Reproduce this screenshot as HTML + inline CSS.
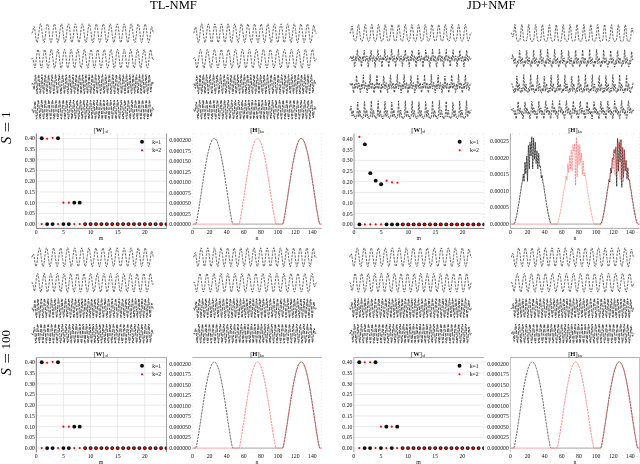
<!DOCTYPE html>
<html><head><meta charset="utf-8"><style>
html,body{margin:0;padding:0;background:#fff;width:640px;height:464px;overflow:hidden}
svg{display:block}
</style></head><body>
<svg width="640" height="464" viewBox="0 0 640 464">
<rect width="640" height="464" fill="#fff"/>
<defs><filter id="bl" x="-2%" y="-10%" width="104%" height="120%"><feGaussianBlur stdDeviation="0.15"/></filter><filter id="gb" filterUnits="userSpaceOnUse" x="0" y="0" width="640" height="464"><feGaussianBlur stdDeviation="0.3"/></filter></defs>
<g filter="url(#gb)">
<text x="173.4" y="8.8" font-size="12.6" text-anchor="middle" style="font-family:'Liberation Serif',serif">TL-NMF</text>
<text x="491.3" y="8.8" font-size="12.6" text-anchor="middle" style="font-family:'Liberation Serif',serif">JD+NMF</text>
<g transform="translate(10.3,143.8) rotate(-90)" style="font-family:'Liberation Serif',serif" font-size="13"><text x="-0.2" y="0.3" font-style="italic" font-size="14.5">S</text><text x="0" y="0" transform="translate(11.4,1.3) scale(1.45,1.05)">=</text><text x="25.7" y="0">1</text></g>
<g transform="translate(10.3,375.2) rotate(-90)" style="font-family:'Liberation Serif',serif" font-size="13"><text x="-0.2" y="0.3" font-style="italic" font-size="14.5">S</text><text x="0" y="0" transform="translate(11.4,1.3) scale(1.45,1.05)">=</text><text x="25.7" y="0">100</text></g>
<g filter="url(#bl)">
<polyline points="31.6,33.2 32.0,33.1 32.4,32.5 32.8,31.0 33.2,29.0 33.6,27.1 34.1,26.4 34.5,27.4 34.9,30.0 35.3,33.4 35.7,36.7 36.1,39.6 36.5,41.7 36.9,42.6 37.3,42.2 37.7,40.6 38.1,38.1 38.6,34.8 39.0,31.4 39.4,28.2 39.8,25.7 40.2,24.1 40.6,23.8 41.0,24.8 41.4,26.9 41.8,29.8 42.2,33.2 42.7,36.6 43.1,39.5 43.5,41.6 43.9,42.6 44.3,42.3 44.7,40.7 45.1,38.2 45.5,35.0 45.9,31.6 46.3,28.4 46.7,25.8 47.2,24.2 47.6,23.8 48.0,24.7 48.4,26.7 48.8,29.6 49.2,33.0 49.6,36.4 50.0,39.4 50.4,41.5 50.8,42.5 51.2,42.3 51.7,40.8 52.1,38.4 52.5,35.2 52.9,31.8 53.3,28.5 53.7,25.9 54.1,24.2 54.5,23.8 54.9,24.6 55.3,26.6 55.8,29.5 56.2,32.8 56.6,36.2 57.0,39.2 57.4,41.4 57.8,42.5 58.2,42.3 58.6,41.0 59.0,38.5 59.4,35.4 59.8,31.9 60.3,28.7 60.7,26.0 61.1,24.3 61.5,23.8 61.9,24.6 62.3,26.5 62.7,29.3 63.1,32.7 63.5,36.1 63.9,39.1 64.3,41.3 64.8,42.5 65.2,42.4 65.6,41.0 66.0,38.7 66.4,35.5 66.8,32.1 67.2,28.8 67.6,26.1 68.0,24.4 68.4,23.8 68.9,24.5 69.3,26.4 69.7,29.2 70.1,32.5 70.5,35.9 70.9,39.0 71.3,41.3 71.7,42.5 72.1,42.4 72.5,41.1 72.9,38.8 73.4,35.7 73.8,32.3 74.2,29.0 74.6,26.2 75.0,24.4 75.4,23.8 75.8,24.4 76.2,26.3 76.6,29.0 77.0,32.3 77.4,35.7 77.9,38.8 78.3,41.2 78.7,42.4 79.1,42.5 79.5,41.2 79.9,38.9 80.3,35.9 80.7,32.4 81.1,29.1 81.5,26.3 82.0,24.5 82.4,23.8 82.8,24.4 83.2,26.1 83.6,28.8 84.0,32.1 84.4,35.6 84.8,38.7 85.2,41.1 85.6,42.4 86.0,42.5 86.5,41.3 86.9,39.1 87.3,36.0 87.7,32.6 88.1,29.3 88.5,26.5 88.9,24.6 89.3,23.8 89.7,24.3 90.1,26.0 90.5,28.7 91.0,32.0 91.4,35.4 91.8,38.5 92.2,41.0 92.6,42.4 93.0,42.5 93.4,41.4 93.8,39.2 94.2,36.2 94.6,32.8 95.1,29.4 95.5,26.6 95.9,24.6 96.3,23.8 96.7,24.3 97.1,25.9 97.5,28.5 97.9,31.8 98.3,35.2 98.7,38.4 99.1,40.9 99.6,42.3 100.0,42.5 100.4,41.5 100.8,39.4 101.2,36.4 101.6,33.0 102.0,29.6 102.4,26.7 102.8,24.7 103.2,23.8 103.6,24.2 104.1,25.8 104.5,28.4 104.9,31.6 105.3,35.1 105.7,38.2 106.1,40.8 106.5,42.3 106.9,42.6 107.3,41.6 107.7,39.5 108.2,36.5 108.6,33.2 109.0,29.8 109.4,26.8 109.8,24.8 110.2,23.8 110.6,24.2 111.0,25.7 111.4,28.2 111.8,31.4 112.2,34.9 112.7,38.1 113.1,40.7 113.5,42.2 113.9,42.6 114.3,41.7 114.7,39.6 115.1,36.7 115.5,33.3 115.9,29.9 116.3,27.0 116.7,24.9 117.2,23.9 117.6,24.1 118.0,25.6 118.4,28.1 118.8,31.3 119.2,34.7 119.6,37.9 120.0,40.6 120.4,42.2 120.8,42.6 121.3,41.7 121.7,39.7 122.1,36.9 122.5,33.5 122.9,30.1 123.3,27.1 123.7,24.9 124.1,23.9 124.5,24.1 124.9,25.5 125.3,27.9 125.8,31.1 126.2,34.5 126.6,37.8 127.0,40.4 127.4,42.1 127.8,42.6 128.2,41.8 128.6,39.9 129.0,37.0 129.4,33.7 129.8,30.3 130.3,27.2 130.7,25.0 131.1,23.9 131.5,24.0 131.9,25.4 132.3,27.8 132.7,30.9 133.1,34.4 133.5,37.6 133.9,40.3 134.4,42.1 134.8,42.6 135.2,41.9 135.6,40.0 136.0,37.2 136.4,33.9 136.8,30.4 137.2,27.4 137.6,25.1 138.0,23.9 138.4,24.0 138.9,25.3 139.3,27.6 139.7,30.8 140.1,34.2 140.5,37.5 140.9,40.2 141.3,42.0 141.7,42.6 142.1,41.9 142.5,40.1 142.9,37.3 143.4,34.0 143.8,30.6 144.2,27.5 144.6,25.2 145.0,24.0 145.4,24.0 145.8,25.2 146.2,27.5 146.6,30.6 147.0,34.0 147.5,37.3 147.9,40.1 148.3,41.9 148.7,42.6 149.1,42.0 149.5,40.2 149.9,37.5 150.3,34.2 150.7,30.8 151.1,28.0 151.5,26.8 152.0,27.2 152.4,28.9 152.8,30.9 153.2,32.4 153.6,33.1 154.0,33.2" fill="none" stroke="#2a2a2a" stroke-width="0.72" stroke-dasharray="2.3,1.15"/>
<polyline points="31.6,58.8 32.0,58.5 32.4,58.1 32.8,58.3 33.2,59.7 33.6,62.2 34.1,65.1 34.5,67.4 34.9,68.0 35.3,66.7 35.7,64.2 36.1,60.9 36.5,57.3 36.9,53.9 37.3,51.2 37.7,49.7 38.1,49.5 38.6,50.7 39.0,53.1 39.4,56.3 39.8,60.0 40.2,63.4 40.6,66.2 41.0,67.8 41.4,68.1 41.8,67.1 42.2,64.8 42.7,61.6 43.1,58.0 43.5,54.5 43.9,51.7 44.3,49.9 44.7,49.4 45.1,50.4 45.5,52.5 45.9,55.7 46.3,59.2 46.7,62.8 47.2,65.7 47.6,67.6 48.0,68.2 48.4,67.4 48.8,65.3 49.2,62.3 49.6,58.7 50.0,55.2 50.4,52.2 50.8,50.1 51.2,49.4 51.7,50.1 52.1,52.0 52.5,55.0 52.9,58.5 53.3,62.1 53.7,65.2 54.1,67.3 54.5,68.2 54.9,67.7 55.3,65.8 55.8,62.9 56.2,59.4 56.6,55.8 57.0,52.7 57.4,50.4 57.8,49.4 58.2,49.8 58.6,51.6 59.0,54.4 59.4,57.8 59.8,61.4 60.3,64.6 60.7,67.0 61.1,68.1 61.5,67.9 61.9,66.3 62.3,63.6 62.7,60.1 63.1,56.5 63.5,53.2 63.9,50.8 64.3,49.5 64.8,49.6 65.2,51.1 65.6,53.7 66.0,57.1 66.4,60.7 66.8,64.1 67.2,66.6 67.6,68.0 68.0,68.0 68.4,66.7 68.9,64.2 69.3,60.8 69.7,57.2 70.1,53.8 70.5,51.2 70.9,49.7 71.3,49.5 71.7,50.7 72.1,53.2 72.5,56.4 72.9,60.0 73.4,63.5 73.8,66.2 74.2,67.8 74.6,68.1 75.0,67.0 75.4,64.7 75.8,61.5 76.2,57.9 76.6,54.5 77.0,51.6 77.4,49.9 77.9,49.4 78.3,50.4 78.7,52.6 79.1,55.7 79.5,59.3 79.9,62.8 80.3,65.7 80.7,67.6 81.1,68.2 81.5,67.4 82.0,65.3 82.4,62.2 82.8,58.6 83.2,55.1 83.6,52.1 84.0,50.1 84.4,49.4 84.8,50.1 85.2,52.1 85.6,55.1 86.0,58.6 86.5,62.2 86.9,65.2 87.3,67.4 87.7,68.2 88.1,67.6 88.5,65.8 88.9,62.9 89.3,59.4 89.7,55.8 90.1,52.6 90.5,50.4 91.0,49.4 91.4,49.8 91.8,51.6 92.2,54.4 92.6,57.9 93.0,61.5 93.4,64.7 93.8,67.0 94.2,68.1 94.6,67.9 95.1,66.2 95.5,63.5 95.9,60.1 96.3,56.4 96.7,53.2 97.1,50.7 97.5,49.5 97.9,49.7 98.3,51.2 98.7,53.8 99.1,57.2 99.6,60.8 100.0,64.1 100.4,66.7 100.8,68.0 101.2,68.0 101.6,66.6 102.0,64.1 102.4,60.8 102.8,57.1 103.2,53.8 103.6,51.1 104.1,49.6 104.5,49.5 104.9,50.8 105.3,53.2 105.7,56.5 106.1,60.1 106.5,63.5 106.9,66.3 107.3,67.9 107.7,68.1 108.2,67.0 108.6,64.7 109.0,61.5 109.4,57.9 109.8,54.4 110.2,51.6 110.6,49.8 111.0,49.4 111.4,50.4 111.8,52.7 112.2,55.8 112.7,59.4 113.1,62.9 113.5,65.8 113.9,67.7 114.3,68.2 114.7,67.3 115.1,65.2 115.5,62.1 115.9,58.6 116.3,55.0 116.7,52.0 117.2,50.1 117.6,49.4 118.0,50.1 118.4,52.1 118.8,55.1 119.2,58.7 119.6,62.2 120.0,65.3 120.4,67.4 120.8,68.2 121.3,67.6 121.7,65.7 122.1,62.8 122.5,59.3 122.9,55.7 123.3,52.6 123.7,50.4 124.1,49.4 124.5,49.9 124.9,51.6 125.3,54.5 125.8,58.0 126.2,61.6 126.6,64.8 127.0,67.1 127.4,68.1 127.8,67.8 128.2,66.2 128.6,63.4 129.0,60.0 129.4,56.4 129.8,53.1 130.3,50.7 130.7,49.5 131.1,49.7 131.5,51.2 131.9,53.9 132.3,57.3 132.7,60.9 133.1,64.2 133.5,66.7 133.9,68.0 134.4,68.0 134.8,66.6 135.2,64.0 135.6,60.7 136.0,57.1 136.4,53.7 136.8,51.1 137.2,49.6 137.6,49.5 138.0,50.8 138.4,53.3 138.9,56.6 139.3,60.2 139.7,63.6 140.1,66.3 140.5,67.9 140.9,68.1 141.3,67.0 141.7,64.6 142.1,61.4 142.5,57.8 142.9,54.3 143.4,51.5 143.8,49.8 144.2,49.4 144.6,50.5 145.0,52.7 145.4,55.9 145.8,59.5 146.2,63.0 146.6,65.8 147.0,67.7 147.5,68.2 147.9,67.3 148.3,65.2 148.7,62.1 149.1,58.5 149.5,55.0 149.9,52.0 150.3,50.0 150.7,49.4 151.1,50.7 151.5,53.4 152.0,56.5 152.4,58.8 152.8,59.8 153.2,59.7 153.6,59.1 154.0,58.8" fill="none" stroke="#2a2a2a" stroke-width="0.72" stroke-dasharray="2.3,1.15"/>
<polyline points="31.6,84.2 31.8,84.2 32.0,84.0 32.2,83.8 32.4,83.5 32.6,83.3 32.7,83.3 32.9,83.8 33.1,84.7 33.3,86.0 33.5,87.4 33.7,88.7 33.9,89.5 34.1,89.5 34.3,88.5 34.5,86.6 34.7,83.9 34.9,80.8 35.0,78.0 35.2,75.8 35.4,74.9 35.6,75.3 35.8,77.0 36.0,79.8 36.2,83.3 36.4,86.8 36.6,90.0 36.8,92.4 37.0,93.7 37.2,93.6 37.3,92.3 37.5,89.8 37.7,86.6 37.9,83.0 38.1,79.7 38.3,76.9 38.5,75.1 38.7,74.6 38.9,75.4 39.1,77.4 39.3,80.3 39.5,83.7 39.6,87.2 39.8,90.3 40.0,92.5 40.2,93.7 40.4,93.6 40.6,92.2 40.8,89.7 41.0,86.6 41.2,83.1 41.4,79.7 41.6,77.0 41.8,75.2 41.9,74.6 42.1,75.3 42.3,77.1 42.5,79.9 42.7,83.2 42.9,86.7 43.1,89.8 43.3,92.2 43.5,93.6 43.7,93.7 43.9,92.6 44.1,90.4 44.2,87.5 44.4,84.1 44.6,80.7 44.8,77.8 45.0,75.7 45.2,74.7 45.4,74.9 45.6,76.2 45.8,78.6 46.0,81.7 46.2,85.1 46.3,88.4 46.5,91.1 46.7,93.0 46.9,93.8 47.1,93.4 47.3,91.8 47.5,89.3 47.7,86.2 47.9,82.8 48.1,79.6 48.3,77.0 48.5,75.3 48.6,74.6 48.8,75.1 49.0,76.7 49.2,79.3 49.4,82.4 49.6,85.7 49.8,88.9 50.0,91.5 50.2,93.2 50.4,93.8 50.6,93.3 50.8,91.7 50.9,89.2 51.1,86.1 51.3,82.8 51.5,79.6 51.7,77.0 51.9,75.3 52.1,74.6 52.3,75.0 52.5,76.6 52.7,79.0 52.9,82.0 53.1,85.3 53.2,88.4 53.4,91.1 53.6,92.9 53.8,93.8 54.0,93.5 54.2,92.1 54.4,89.8 54.6,86.9 54.8,83.6 55.0,80.4 55.2,77.7 55.4,75.7 55.5,74.7 55.7,74.8 55.9,76.0 56.1,78.1 56.3,80.9 56.5,84.1 56.7,87.3 56.9,90.2 57.1,92.4 57.3,93.6 57.5,93.7 57.7,92.8 57.8,90.8 58.0,88.1 58.2,85.0 58.4,81.7 58.6,78.8 58.8,76.4 59.0,75.0 59.2,74.6 59.4,75.3 59.6,77.1 59.8,79.6 59.9,82.7 60.1,86.0 60.3,89.0 60.5,91.5 60.7,93.2 60.9,93.8 61.1,93.3 61.3,91.7 61.5,89.3 61.7,86.3 61.9,83.0 62.1,79.9 62.2,77.3 62.4,75.4 62.6,74.6 62.8,74.9 63.0,76.3 63.2,78.6 63.4,81.6 63.6,84.9 63.8,88.1 64.0,90.8 64.2,92.8 64.4,93.7 64.5,93.6 64.7,92.3 64.9,90.0 65.1,87.1 65.3,83.8 65.5,80.6 65.7,77.8 65.9,75.7 66.1,74.7 66.3,74.8 66.5,76.0 66.7,78.3 66.8,81.2 67.0,84.5 67.2,87.8 67.4,90.6 67.6,92.7 67.8,93.7 68.0,93.6 68.2,92.3 68.4,90.0 68.6,87.0 68.8,83.7 69.0,80.4 69.1,77.6 69.3,75.6 69.5,74.6 69.7,74.9 69.9,76.3 70.1,78.7 70.3,81.8 70.5,85.2 70.7,88.5 70.9,91.2 71.1,93.1 71.3,93.8 71.4,93.3 71.6,91.6 71.8,89.0 72.0,85.8 72.2,82.4 72.4,79.2 72.6,76.6 72.8,75.0 73.0,74.6 73.2,75.5 73.4,77.4 73.5,80.3 73.7,83.7 73.9,87.1 74.1,90.2 74.3,92.5 74.5,93.7 74.7,93.6 74.9,92.3 75.1,89.9 75.3,86.8 75.5,83.3 75.7,79.9 75.8,77.1 76.0,75.3 76.2,74.6 76.4,75.2 76.6,77.0 76.8,79.8 77.0,83.2 77.2,86.7 77.4,89.9 77.6,92.3 77.8,93.6 78.0,93.6 78.1,92.4 78.3,90.0 78.5,86.8 78.7,83.3 78.9,79.9 79.1,77.0 79.3,75.2 79.5,74.6 79.7,75.3 79.9,77.3 80.1,80.2 80.3,83.7 80.4,87.2 80.6,90.3 80.8,92.6 81.0,93.7 81.2,93.5 81.4,92.0 81.6,89.4 81.8,86.1 82.0,82.5 82.2,79.1 82.4,76.5 82.6,74.9 82.7,74.7 82.9,75.7 83.1,78.0 83.3,81.1 83.5,84.7 83.7,88.2 83.9,91.1 84.1,93.1 84.3,93.8 84.5,93.2 84.7,91.3 84.9,88.4 85.0,84.9 85.2,81.4 85.4,78.2 85.6,75.9 85.8,74.7 86.0,74.9 86.2,76.4 86.4,78.9 86.6,82.3 86.8,85.8 87.0,89.2 87.1,91.9 87.3,93.5 87.5,93.7 87.7,92.7 87.9,90.5 88.1,87.4 88.3,83.8 88.5,80.3 88.7,77.4 88.9,75.4 89.1,74.6 89.3,75.2 89.4,77.0 89.6,79.8 89.8,83.2 90.0,86.8 90.2,90.0 90.4,92.4 90.6,93.6 90.8,93.6 91.0,92.3 91.2,89.9 91.4,86.7 91.6,83.2 91.7,79.8 91.9,77.0 92.1,75.2 92.3,74.6 92.5,75.3 92.7,77.3 92.9,80.1 93.1,83.5 93.3,87.0 93.5,90.1 93.7,92.5 93.9,93.7 94.0,93.6 94.2,92.3 94.4,89.9 94.6,86.8 94.8,83.3 95.0,79.9 95.2,77.1 95.4,75.3 95.6,74.6 95.8,75.2 96.0,76.9 96.2,79.6 96.3,82.9 96.5,86.4 96.7,89.6 96.9,92.0 97.1,93.5 97.3,93.7 97.5,92.8 97.7,90.7 97.9,87.8 98.1,84.4 98.3,81.1 98.5,78.1 98.6,75.9 98.8,74.7 99.0,74.8 99.2,76.0 99.4,78.3 99.6,81.3 99.8,84.7 100.0,88.0 100.2,90.8 100.4,92.8 100.6,93.7 100.7,93.5 100.9,92.1 101.1,89.8 101.3,86.7 101.5,83.4 101.7,80.1 101.9,77.4 102.1,75.5 102.3,74.6 102.5,75.0 102.7,76.4 102.9,78.8 103.0,81.8 103.2,85.1 103.4,88.3 103.6,91.1 103.8,92.9 104.0,93.8 104.2,93.5 104.4,92.1 104.6,89.7 104.8,86.7 105.0,83.4 105.2,80.2 105.3,77.5 105.5,75.6 105.7,74.7 105.9,74.9 106.1,76.2 106.3,78.4 106.5,81.3 106.7,84.6 106.9,87.8 107.1,90.6 107.3,92.6 107.5,93.7 107.6,93.6 107.8,92.5 108.0,90.4 108.2,87.6 108.4,84.4 108.6,81.1 108.8,78.3 109.0,76.1 109.2,74.8 109.4,74.7 109.6,75.6 109.8,77.5 109.9,80.2 110.1,83.4 110.3,86.6 110.5,89.6 110.7,91.9 110.9,93.4 111.1,93.8 111.3,93.1 111.5,91.4 111.7,88.8 111.9,85.7 112.1,82.5 112.2,79.4 112.4,76.9 112.6,75.2 112.8,74.6 113.0,75.1 113.2,76.6 113.4,79.0 113.6,82.0 113.8,85.3 114.0,88.4 114.2,91.0 114.3,92.9 114.5,93.8 114.7,93.5 114.9,92.2 115.1,89.9 115.3,87.0 115.5,83.7 115.7,80.5 115.9,77.8 116.1,75.7 116.3,74.7 116.5,74.8 116.6,76.0 116.8,78.1 117.0,81.0 117.2,84.2 117.4,87.5 117.6,90.3 117.8,92.5 118.0,93.6 118.2,93.7 118.4,92.6 118.6,90.5 118.8,87.7 118.9,84.4 119.1,81.2 119.3,78.2 119.5,76.0 119.7,74.8 119.9,74.7 120.1,75.7 120.3,77.8 120.5,80.7 120.7,83.9 120.9,87.3 121.1,90.2 121.2,92.4 121.4,93.6 121.6,93.7 121.8,92.6 122.0,90.4 122.2,87.5 122.4,84.2 122.6,80.9 122.8,77.9 123.0,75.8 123.2,74.7 123.4,74.8 123.5,76.1 123.7,78.4 123.9,81.4 124.1,84.8 124.3,88.1 124.5,90.9 124.7,92.9 124.9,93.8 125.1,93.4 125.3,91.9 125.5,89.3 125.7,86.2 125.8,82.7 126.0,79.5 126.2,76.8 126.4,75.1 126.6,74.6 126.8,75.3 127.0,77.2 127.2,80.1 127.4,83.4 127.6,86.9 127.8,90.0 127.9,92.3 128.1,93.6 128.3,93.7 128.5,92.4 128.7,90.1 128.9,87.0 129.1,83.5 129.3,80.1 129.5,77.3 129.7,75.3 129.9,74.6 130.1,75.2 130.2,76.9 130.4,79.7 130.6,83.1 130.8,86.6 131.0,89.8 131.2,92.3 131.4,93.6 131.6,93.7 131.8,92.4 132.0,90.1 132.2,86.9 132.4,83.4 132.5,79.9 132.7,77.1 132.9,75.2 133.1,74.6 133.3,75.3 133.5,77.2 133.7,80.1 133.9,83.6 134.1,87.2 134.3,90.3 134.5,92.6 134.7,93.7 134.8,93.5 135.0,92.0 135.2,89.4 135.4,86.1 135.6,82.5 135.8,79.2 136.0,76.5 136.2,74.9 136.4,74.7 136.6,75.7 136.8,78.0 137.0,81.1 137.1,84.7 137.3,88.2 137.5,91.1 137.7,93.1 137.9,93.8 138.1,93.2 138.3,91.3 138.5,88.4 138.7,84.9 138.9,81.4 139.1,78.2 139.3,75.9 139.4,74.7 139.6,74.9 139.8,76.3 140.0,78.9 140.2,82.2 140.4,85.8 140.6,89.2 140.8,91.9 141.0,93.4 141.2,93.7 141.4,92.7 141.5,90.5 141.7,87.4 141.9,83.9 142.1,80.4 142.3,77.4 142.5,75.4 142.7,74.6 142.9,75.1 143.1,76.9 143.3,79.7 143.5,83.1 143.7,86.7 143.8,89.9 144.0,92.3 144.2,93.6 144.4,93.6 144.6,92.4 144.8,90.0 145.0,86.8 145.2,83.3 145.4,79.9 145.6,77.1 145.8,75.2 146.0,74.6 146.1,75.3 146.3,77.1 146.5,80.0 146.7,83.4 146.9,86.9 147.1,90.0 147.3,92.4 147.5,93.6 147.7,93.6 147.9,92.4 148.1,90.1 148.3,87.0 148.4,83.5 148.6,80.2 148.8,77.3 149.0,75.4 149.2,74.6 149.4,75.1 149.6,76.7 149.8,79.4 150.0,82.6 150.2,86.0 150.4,89.0 150.6,91.1 150.7,92.2 150.9,92.0 151.1,90.8 151.3,88.9 151.5,86.7 151.7,84.6 151.9,82.9 152.1,81.8 152.3,81.4 152.5,81.5 152.7,82.1 152.9,82.8 153.0,83.5 153.2,83.9 153.4,84.2 153.6,84.3 153.8,84.2 154.0,84.2" fill="none" stroke="#1e1e1e" stroke-width="0.74" stroke-dasharray="3.3,1.1,2.7,0.9,3.9,1.3,2.1,1.0,2.9,1.2"/>
<polyline points="31.6,109.6 31.8,109.6 32.0,109.5 32.2,109.5 32.4,109.6 32.6,110.1 32.7,110.7 32.9,111.5 33.1,112.3 33.3,112.8 33.5,112.9 33.7,112.3 33.9,110.9 34.1,109.0 34.3,106.7 34.5,104.3 34.7,102.4 34.9,101.3 35.0,101.3 35.2,102.4 35.4,104.6 35.6,107.6 35.8,110.9 36.0,114.1 36.2,116.8 36.4,118.5 36.6,119.2 36.8,118.7 37.0,117.1 37.2,114.6 37.3,111.5 37.5,108.1 37.7,105.0 37.9,102.4 38.1,100.6 38.3,100.0 38.5,100.5 38.7,102.1 38.9,104.6 39.1,107.7 39.3,111.0 39.5,114.2 39.6,116.8 39.8,118.5 40.0,119.2 40.2,118.7 40.4,117.2 40.6,114.7 40.8,111.7 41.0,108.4 41.2,105.2 41.4,102.6 41.6,100.8 41.8,100.0 41.9,100.4 42.1,101.8 42.3,104.2 42.5,107.2 42.7,110.5 42.9,113.7 43.1,116.3 43.3,118.3 43.5,119.1 43.7,118.9 43.9,117.6 44.1,115.4 44.2,112.5 44.4,109.2 44.6,106.0 44.8,103.3 45.0,101.2 45.2,100.1 45.4,100.1 45.6,101.2 45.8,103.3 46.0,106.1 46.2,109.3 46.3,112.5 46.5,115.4 46.7,117.6 46.9,118.9 47.1,119.2 47.3,118.3 47.5,116.5 47.7,113.8 47.9,110.7 48.1,107.5 48.3,104.5 48.5,102.1 48.6,100.5 48.8,100.0 49.0,100.6 49.2,102.1 49.4,104.6 49.6,107.6 49.8,110.8 50.0,113.9 50.2,116.5 50.4,118.3 50.6,119.2 50.8,118.9 50.9,117.6 51.1,115.5 51.3,112.6 51.5,109.4 51.7,106.3 51.9,103.5 52.1,101.4 52.3,100.2 52.5,100.1 52.7,101.0 52.9,102.9 53.1,105.6 53.2,108.7 53.4,111.9 53.6,114.8 53.8,117.2 54.0,118.7 54.2,119.2 54.4,118.6 54.6,117.0 54.8,114.6 55.0,111.6 55.2,108.4 55.4,105.4 55.5,102.8 55.7,100.9 55.9,100.1 56.1,100.3 56.3,101.5 56.5,103.6 56.7,106.4 56.9,109.6 57.1,112.8 57.3,115.6 57.5,117.7 57.7,119.0 57.8,119.1 58.0,118.3 58.2,116.4 58.4,113.8 58.6,110.7 58.8,107.5 59.0,104.5 59.2,102.1 59.4,100.6 59.6,100.0 59.8,100.5 59.9,102.0 60.1,104.4 60.3,107.4 60.5,110.6 60.7,113.7 60.9,116.3 61.1,118.2 61.3,119.1 61.5,119.0 61.7,117.8 61.9,115.6 62.1,112.8 62.2,109.6 62.4,106.5 62.6,103.6 62.8,101.5 63.0,100.2 63.2,100.1 63.4,101.0 63.6,102.8 63.8,105.5 64.0,108.6 64.2,111.8 64.4,114.8 64.5,117.2 64.7,118.7 64.9,119.2 65.1,118.6 65.3,116.9 65.5,114.5 65.7,111.4 65.9,108.2 66.1,105.1 66.3,102.5 66.5,100.8 66.7,100.0 66.8,100.4 67.0,101.8 67.2,104.1 67.4,107.1 67.6,110.3 67.8,113.5 68.0,116.2 68.2,118.2 68.4,119.1 68.6,119.0 68.8,117.7 69.0,115.5 69.1,112.6 69.3,109.4 69.5,106.2 69.7,103.4 69.9,101.3 70.1,100.1 70.3,100.1 70.5,101.2 70.7,103.3 70.9,106.2 71.1,109.4 71.3,112.7 71.4,115.6 71.6,117.8 71.8,119.0 72.0,119.1 72.2,118.1 72.4,116.1 72.6,113.3 72.8,110.0 73.0,106.7 73.2,103.8 73.4,101.5 73.5,100.2 73.7,100.1 73.9,101.1 74.1,103.1 74.3,105.9 74.5,109.1 74.7,112.4 74.9,115.4 75.1,117.7 75.3,119.0 75.5,119.1 75.7,118.1 75.8,116.1 76.0,113.2 76.2,109.9 76.4,106.6 76.6,103.7 76.8,101.4 77.0,100.2 77.2,100.1 77.4,101.2 77.6,103.3 77.8,106.2 78.0,109.6 78.1,112.9 78.3,115.8 78.5,118.0 78.7,119.1 78.9,119.0 79.1,117.8 79.3,115.5 79.5,112.6 79.7,109.2 79.9,105.9 80.1,103.0 80.3,101.0 80.4,100.1 80.6,100.3 80.8,101.7 81.0,104.1 81.2,107.2 81.4,110.6 81.6,113.9 81.8,116.6 82.0,118.5 82.2,119.2 82.4,118.7 82.6,117.1 82.7,114.5 82.9,111.3 83.1,107.8 83.3,104.6 83.5,102.1 83.7,100.5 83.9,100.0 84.1,100.8 84.3,102.7 84.5,105.5 84.7,108.8 84.9,112.2 85.0,115.3 85.2,117.7 85.4,119.0 85.6,119.1 85.8,118.0 86.0,115.8 86.2,112.8 86.4,109.4 86.6,106.1 86.8,103.1 87.0,101.0 87.1,100.1 87.3,100.3 87.5,101.7 87.7,104.2 87.9,107.4 88.1,110.8 88.3,114.1 88.5,116.8 88.7,118.6 88.9,119.2 89.1,118.6 89.3,116.8 89.4,114.1 89.6,110.8 89.8,107.3 90.0,104.1 90.2,101.7 90.4,100.3 90.6,100.1 90.8,101.1 91.0,103.2 91.2,106.2 91.4,109.6 91.6,113.0 91.7,116.0 91.9,118.1 92.1,119.1 92.3,118.9 92.5,117.5 92.7,115.1 92.9,111.9 93.1,108.5 93.3,105.2 93.5,102.4 93.7,100.6 93.9,100.0 94.0,100.6 94.2,102.4 94.4,105.1 94.6,108.4 94.8,111.9 95.0,115.0 95.2,117.5 95.4,118.9 95.6,119.1 95.8,118.1 96.0,116.0 96.2,113.1 96.3,109.7 96.5,106.3 96.7,103.3 96.9,101.2 97.1,100.1 97.3,100.2 97.5,101.6 97.7,104.0 97.9,107.1 98.1,110.6 98.3,113.9 98.5,116.6 98.6,118.5 98.8,119.2 99.0,118.7 99.2,117.0 99.4,114.4 99.6,111.1 99.8,107.7 100.0,104.5 100.2,102.0 100.4,100.4 100.6,100.0 100.7,100.9 100.9,102.8 101.1,105.6 101.3,108.9 101.5,112.3 101.7,115.4 101.9,117.7 102.1,119.0 102.3,119.1 102.5,118.0 102.7,115.8 102.9,112.9 103.0,109.5 103.2,106.2 103.4,103.3 103.6,101.2 103.8,100.1 104.0,100.2 104.2,101.5 104.4,103.9 104.6,106.9 104.8,110.3 105.0,113.5 105.2,116.3 105.3,118.3 105.5,119.2 105.7,118.9 105.9,117.4 106.1,115.0 106.3,111.9 106.5,108.5 106.7,105.3 106.9,102.6 107.1,100.7 107.3,100.0 107.5,100.4 107.6,102.0 107.8,104.5 108.0,107.6 108.2,111.0 108.4,114.2 108.6,116.8 108.8,118.5 109.0,119.2 109.2,118.7 109.4,117.1 109.6,114.6 109.8,111.5 109.9,108.1 110.1,105.0 110.3,102.4 110.5,100.6 110.7,100.0 110.9,100.5 111.1,102.1 111.3,104.6 111.5,107.7 111.7,111.0 111.9,114.2 112.1,116.8 112.2,118.5 112.4,119.2 112.6,118.7 112.8,117.2 113.0,114.8 113.2,111.7 113.4,108.4 113.6,105.3 113.8,102.6 114.0,100.8 114.2,100.0 114.3,100.4 114.5,101.8 114.7,104.1 114.9,107.1 115.1,110.4 115.3,113.5 115.5,116.3 115.7,118.2 115.9,119.1 116.1,119.0 116.3,117.7 116.5,115.5 116.6,112.6 116.8,109.4 117.0,106.2 117.2,103.4 117.4,101.3 117.6,100.2 117.8,100.1 118.0,101.2 118.2,103.2 118.4,105.9 118.6,109.1 118.8,112.3 118.9,115.2 119.1,117.5 119.3,118.9 119.5,119.2 119.7,118.4 119.9,116.6 120.1,114.0 120.3,110.9 120.5,107.7 120.7,104.7 120.9,102.2 121.1,100.6 121.2,100.0 121.4,100.5 121.6,102.0 121.8,104.4 122.0,107.3 122.2,110.6 122.4,113.7 122.6,116.3 122.8,118.2 123.0,119.1 123.2,119.0 123.4,117.8 123.5,115.7 123.7,112.8 123.9,109.7 124.1,106.5 124.3,103.7 124.5,101.5 124.7,100.3 124.9,100.1 125.1,100.9 125.3,102.7 125.5,105.3 125.7,108.4 125.8,111.6 126.0,114.6 126.2,117.0 126.4,118.6 126.6,119.2 126.8,118.7 127.0,117.2 127.2,114.8 127.4,111.9 127.6,108.7 127.8,105.6 127.9,103.0 128.1,101.0 128.3,100.1 128.5,100.2 128.7,101.3 128.9,103.4 129.1,106.2 129.3,109.3 129.5,112.5 129.7,115.4 129.9,117.6 130.1,118.9 130.2,119.2 130.4,118.4 130.6,116.6 130.8,114.0 131.0,111.0 131.2,107.8 131.4,104.8 131.6,102.3 131.8,100.7 132.0,100.0 132.2,100.4 132.4,101.9 132.5,104.2 132.7,107.1 132.9,110.3 133.1,113.5 133.3,116.2 133.5,118.1 133.7,119.1 133.9,119.0 134.1,117.9 134.3,115.8 134.5,113.0 134.7,109.9 134.8,106.7 135.0,103.8 135.2,101.6 135.4,100.3 135.6,100.0 135.8,100.9 136.0,102.7 136.2,105.3 136.4,108.4 136.6,111.6 136.8,114.6 137.0,117.1 137.1,118.7 137.3,119.2 137.5,118.6 137.7,117.1 137.9,114.6 138.1,111.6 138.3,108.3 138.5,105.2 138.7,102.6 138.9,100.8 139.1,100.0 139.3,100.3 139.4,101.7 139.6,104.0 139.8,106.9 140.0,110.2 140.2,113.4 140.4,116.1 140.6,118.1 140.8,119.1 141.0,119.0 141.2,117.8 141.4,115.6 141.5,112.8 141.7,109.5 141.9,106.3 142.1,103.4 142.3,101.3 142.5,100.2 142.7,100.1 142.9,101.2 143.1,103.3 143.3,106.1 143.5,109.3 143.7,112.6 143.8,115.5 144.0,117.7 144.2,119.0 144.4,119.1 144.6,118.1 144.8,116.1 145.0,113.3 145.2,110.0 145.4,106.7 145.6,103.8 145.8,101.5 146.0,100.2 146.1,100.1 146.3,101.1 146.5,103.1 146.7,105.9 146.9,109.1 147.1,112.5 147.3,115.4 147.5,117.7 147.7,119.0 147.9,119.1 148.1,118.1 148.3,116.0 148.4,113.2 148.6,109.9 148.8,106.6 149.0,103.6 149.2,101.4 149.4,100.2 149.6,100.1 149.8,101.2 150.0,103.5 150.2,106.4 150.4,109.6 150.6,112.7 150.7,115.0 150.9,116.4 151.1,116.8 151.3,116.1 151.5,114.7 151.7,112.9 151.9,111.0 152.1,109.4 152.3,108.3 152.5,107.7 152.7,107.7 152.9,108.0 153.0,108.5 153.2,109.0 153.4,109.4 153.6,109.6 153.8,109.6 154.0,109.6" fill="none" stroke="#1e1e1e" stroke-width="0.74" stroke-dasharray="2.8,1.0,3.6,1.2,2.3,0.9,3.1,1.3,4.0,1.1"/>
<polyline points="193.3,33.2 193.7,33.1 194.1,32.4 194.5,30.9 194.9,28.9 195.4,27.3 195.8,27.1 196.2,28.8 196.6,31.9 197.0,35.6 197.4,38.8 197.8,41.3 198.2,42.5 198.7,42.3 199.1,40.7 199.5,38.0 199.9,34.6 200.3,30.9 200.7,27.6 201.1,25.2 201.5,23.9 202.0,24.1 202.4,25.6 202.8,28.3 203.2,31.7 203.6,35.4 204.0,38.7 204.4,41.2 204.8,42.5 205.2,42.3 205.7,40.8 206.1,38.2 206.5,34.7 206.9,31.1 207.3,27.7 207.7,25.2 208.1,23.9 208.5,24.0 209.0,25.5 209.4,28.2 209.8,31.6 210.2,35.2 210.6,38.6 211.0,41.1 211.4,42.5 211.8,42.4 212.3,40.9 212.7,38.3 213.1,34.9 213.5,31.2 213.9,27.9 214.3,25.3 214.7,24.0 215.1,24.0 215.6,25.4 216.0,28.0 216.4,31.4 216.8,35.1 217.2,38.5 217.6,41.0 218.0,42.4 218.4,42.4 218.8,41.0 219.3,38.4 219.7,35.0 220.1,31.4 220.5,28.0 220.9,25.4 221.3,24.0 221.7,24.0 222.1,25.4 222.6,27.9 223.0,31.3 223.4,34.9 223.8,38.3 224.2,41.0 224.6,42.4 225.0,42.4 225.4,41.1 225.9,38.5 226.3,35.2 226.7,31.5 227.1,28.1 227.5,25.5 227.9,24.0 228.3,23.9 228.7,25.3 229.1,27.8 229.6,31.1 230.0,34.8 230.4,38.2 230.8,40.9 231.2,42.4 231.6,42.5 232.0,41.2 232.4,38.7 232.9,35.3 233.3,31.7 233.7,28.3 234.1,25.6 234.5,24.1 234.9,23.9 235.3,25.2 235.7,27.7 236.2,31.0 236.6,34.6 237.0,38.1 237.4,40.8 237.8,42.3 238.2,42.5 238.6,41.3 239.0,38.8 239.4,35.5 239.9,31.8 240.3,28.4 240.7,25.7 241.1,24.1 241.5,23.9 241.9,25.1 242.3,27.5 242.7,30.8 243.2,34.5 243.6,37.9 244.0,40.7 244.4,42.3 244.8,42.5 245.2,41.3 245.6,38.9 246.0,35.6 246.5,32.0 246.9,28.5 247.3,25.8 247.7,24.1 248.1,23.9 248.5,25.0 248.9,27.4 249.3,30.7 249.7,34.3 250.2,37.8 250.6,40.6 251.0,42.2 251.4,42.5 251.8,41.4 252.2,39.0 252.6,35.8 253.0,32.1 253.5,28.7 253.9,25.9 254.3,24.2 254.7,23.9 255.1,25.0 255.5,27.3 255.9,30.5 256.3,34.2 256.8,37.7 257.2,40.5 257.6,42.2 258.0,42.6 258.4,41.5 258.8,39.2 259.2,35.9 259.6,32.3 260.1,28.8 260.5,26.0 260.9,24.2 261.3,23.8 261.7,24.9 262.1,27.2 262.5,30.4 262.9,34.0 263.3,37.5 263.8,40.4 264.2,42.2 264.6,42.6 265.0,41.6 265.4,39.3 265.8,36.1 266.2,32.5 266.6,28.9 267.1,26.1 267.5,24.3 267.9,23.8 268.3,24.8 268.7,27.1 269.1,30.2 269.5,33.9 269.9,37.4 270.4,40.3 270.8,42.1 271.2,42.6 271.6,41.6 272.0,39.4 272.4,36.2 272.8,32.6 273.2,29.1 273.6,26.2 274.1,24.3 274.5,23.8 274.9,24.7 275.3,26.9 275.7,30.1 276.1,33.7 276.5,37.3 276.9,40.2 277.4,42.1 277.8,42.6 278.2,41.7 278.6,39.5 279.0,36.4 279.4,32.8 279.8,29.2 280.2,26.3 280.7,24.4 281.1,23.8 281.5,24.7 281.9,26.8 282.3,29.9 282.7,33.6 283.1,37.1 283.5,40.1 283.9,42.0 284.4,42.6 284.8,41.8 285.2,39.6 285.6,36.5 286.0,32.9 286.4,29.4 286.8,26.4 287.2,24.4 287.7,23.8 288.1,24.6 288.5,26.7 288.9,29.8 289.3,33.4 289.7,37.0 290.1,40.0 290.5,41.9 291.0,42.6 291.4,41.8 291.8,39.7 292.2,36.7 292.6,33.1 293.0,29.5 293.4,26.5 293.8,24.5 294.2,23.8 294.7,24.5 295.1,26.6 295.5,29.7 295.9,33.2 296.3,36.8 296.7,39.9 297.1,41.9 297.5,42.6 298.0,41.9 298.4,39.9 298.8,36.8 299.2,33.2 299.6,29.6 300.0,26.6 300.4,24.5 300.8,23.8 301.3,24.5 301.7,26.5 302.1,29.5 302.5,33.1 302.9,36.7 303.3,39.8 303.7,41.8 304.1,42.6 304.6,41.9 305.0,40.0 305.4,37.0 305.8,33.4 306.2,29.8 306.6,26.7 307.0,24.6 307.4,23.8 307.8,24.4 308.3,26.4 308.7,29.4 309.1,32.9 309.5,36.5 309.9,39.6 310.3,41.8 310.7,42.6 311.1,42.0 311.6,40.1 312.0,37.1 312.4,33.5 312.8,29.9 313.2,26.8 313.6,25.2 314.0,25.5 314.4,27.5 314.9,30.0 315.3,32.1 315.7,33.1 316.1,33.3 316.5,33.2" fill="none" stroke="#2a2a2a" stroke-width="0.72" stroke-dasharray="2.3,1.15"/>
<polyline points="193.3,58.8 193.7,58.5 194.1,57.8 194.5,57.4 194.9,58.0 195.4,59.9 195.8,62.9 196.2,65.8 196.6,67.8 197.0,68.2 197.4,67.2 197.8,65.1 198.2,62.1 198.7,58.7 199.1,55.4 199.5,52.4 199.9,50.4 200.3,49.4 200.7,49.8 201.1,51.3 201.5,53.9 202.0,57.1 202.4,60.6 202.8,63.8 203.2,66.3 203.6,67.9 204.0,68.2 204.4,67.2 204.8,65.1 205.2,62.1 205.7,58.7 206.1,55.3 206.5,52.4 206.9,50.3 207.3,49.4 207.7,49.8 208.1,51.4 208.5,53.9 209.0,57.2 209.4,60.6 209.8,63.8 210.2,66.4 210.6,67.9 211.0,68.1 211.4,67.2 211.8,65.0 212.3,62.1 212.7,58.7 213.1,55.3 213.5,52.4 213.9,50.3 214.3,49.4 214.7,49.8 215.1,51.4 215.6,54.0 216.0,57.2 216.4,60.7 216.8,63.9 217.2,66.4 217.6,67.9 218.0,68.1 218.4,67.1 218.8,65.0 219.3,62.0 219.7,58.6 220.1,55.2 220.5,52.3 220.9,50.3 221.3,49.4 221.7,49.8 222.1,51.4 222.6,54.0 223.0,57.3 223.4,60.7 223.8,63.9 224.2,66.4 224.6,67.9 225.0,68.1 225.4,67.1 225.9,65.0 226.3,62.0 226.7,58.6 227.1,55.2 227.5,52.3 227.9,50.3 228.3,49.4 228.7,49.8 229.1,51.4 229.6,54.0 230.0,57.3 230.4,60.8 230.8,63.9 231.2,66.4 231.6,67.9 232.0,68.1 232.4,67.1 232.9,64.9 233.3,62.0 233.7,58.5 234.1,55.2 234.5,52.3 234.9,50.3 235.3,49.4 235.7,49.8 236.2,51.5 236.6,54.1 237.0,57.3 237.4,60.8 237.8,64.0 238.2,66.5 238.6,67.9 239.0,68.1 239.4,67.1 239.9,64.9 240.3,61.9 240.7,58.5 241.1,55.1 241.5,52.3 241.9,50.3 242.3,49.4 242.7,49.8 243.2,51.5 243.6,54.1 244.0,57.4 244.4,60.8 244.8,64.0 245.2,66.5 245.6,67.9 246.0,68.1 246.5,67.1 246.9,64.9 247.3,61.9 247.7,58.5 248.1,55.1 248.5,52.2 248.9,50.2 249.3,49.4 249.7,49.9 250.2,51.5 250.6,54.2 251.0,57.4 251.4,60.9 251.8,64.0 252.2,66.5 252.6,67.9 253.0,68.1 253.5,67.0 253.9,64.9 254.3,61.8 254.7,58.4 255.1,55.1 255.5,52.2 255.9,50.2 256.3,49.4 256.8,49.9 257.2,51.5 257.6,54.2 258.0,57.5 258.4,60.9 258.8,64.1 259.2,66.5 259.6,67.9 260.1,68.1 260.5,67.0 260.9,64.8 261.3,61.8 261.7,58.4 262.1,55.0 262.5,52.2 262.9,50.2 263.3,49.4 263.8,49.9 264.2,51.6 264.6,54.2 265.0,57.5 265.4,60.9 265.8,64.1 266.2,66.6 266.6,68.0 267.1,68.1 267.5,67.0 267.9,64.8 268.3,61.8 268.7,58.4 269.1,55.0 269.5,52.1 269.9,50.2 270.4,49.4 270.8,49.9 271.2,51.6 271.6,54.3 272.0,57.5 272.4,61.0 272.8,64.1 273.2,66.6 273.6,68.0 274.1,68.1 274.5,67.0 274.9,64.8 275.3,61.7 275.7,58.3 276.1,55.0 276.5,52.1 276.9,50.2 277.4,49.4 277.8,49.9 278.2,51.6 278.6,54.3 279.0,57.6 279.4,61.0 279.8,64.2 280.2,66.6 280.7,68.0 281.1,68.1 281.5,67.0 281.9,64.7 282.3,61.7 282.7,58.3 283.1,54.9 283.5,52.1 283.9,50.2 284.4,49.4 284.8,49.9 285.2,51.6 285.6,54.3 286.0,57.6 286.4,61.1 286.8,64.2 287.2,66.6 287.7,68.0 288.1,68.1 288.5,66.9 288.9,64.7 289.3,61.7 289.7,58.2 290.1,54.9 290.5,52.1 291.0,50.1 291.4,49.4 291.8,49.9 292.2,51.7 292.6,54.4 293.0,57.7 293.4,61.1 293.8,64.2 294.2,66.6 294.7,68.0 295.1,68.1 295.5,66.9 295.9,64.7 296.3,61.6 296.7,58.2 297.1,54.8 297.5,52.0 298.0,50.1 298.4,49.4 298.8,49.9 299.2,51.7 299.6,54.4 300.0,57.7 300.4,61.1 300.8,64.3 301.3,66.7 301.7,68.0 302.1,68.1 302.5,66.9 302.9,64.6 303.3,61.6 303.7,58.2 304.1,54.8 304.6,52.0 305.0,50.1 305.4,49.4 305.8,50.0 306.2,51.7 306.6,54.4 307.0,57.7 307.4,61.2 307.8,64.3 308.3,66.7 308.7,68.0 309.1,68.1 309.5,66.9 309.9,64.6 310.3,61.5 310.7,58.1 311.1,54.8 311.6,52.0 312.0,50.1 312.4,49.4 312.8,50.0 313.2,51.8 313.6,54.7 314.0,58.0 314.4,60.4 314.9,61.4 315.3,61.1 315.7,60.0 316.1,59.1 316.5,58.8" fill="none" stroke="#2a2a2a" stroke-width="0.72" stroke-dasharray="2.3,1.15"/>
<polyline points="193.3,84.2 193.5,84.2 193.7,84.0 193.9,83.8 194.1,83.8 194.3,83.9 194.5,84.4 194.6,85.2 194.8,86.3 195.0,87.4 195.2,88.2 195.4,88.4 195.6,87.9 195.8,86.5 196.0,84.3 196.2,81.6 196.4,78.9 196.6,76.7 196.8,75.5 197.0,75.5 197.2,76.9 197.3,79.5 197.5,82.8 197.7,86.4 197.9,89.6 198.1,92.2 198.3,93.6 198.5,93.7 198.7,92.5 198.9,90.2 199.1,87.0 199.3,83.5 199.5,80.0 199.7,77.2 199.9,75.3 200.0,74.6 200.2,75.2 200.4,77.1 200.6,79.9 200.8,83.3 201.0,86.8 201.2,90.0 201.4,92.4 201.6,93.6 201.8,93.6 202.0,92.4 202.2,90.0 202.4,86.9 202.6,83.4 202.7,80.0 202.9,77.2 203.1,75.3 203.3,74.6 203.5,75.2 203.7,76.9 203.9,79.6 204.1,83.0 204.3,86.4 204.5,89.6 204.7,92.1 204.9,93.5 205.1,93.7 205.3,92.7 205.4,90.6 205.6,87.7 205.8,84.3 206.0,80.9 206.2,77.9 206.4,75.8 206.6,74.7 206.8,74.8 207.0,76.2 207.2,78.5 207.4,81.6 207.6,85.0 207.8,88.3 208.0,91.0 208.1,93.0 208.3,93.8 208.5,93.4 208.7,91.9 208.9,89.4 209.1,86.3 209.3,82.9 209.5,79.7 209.7,77.0 209.9,75.3 210.1,74.6 210.3,75.1 210.5,76.7 210.7,79.3 210.8,82.4 211.0,85.7 211.2,88.9 211.4,91.5 211.6,93.2 211.8,93.8 212.0,93.3 212.2,91.6 212.4,89.1 212.6,86.0 212.8,82.7 213.0,79.6 213.2,77.0 213.4,75.3 213.5,74.6 213.7,75.1 213.9,76.6 214.1,79.1 214.3,82.1 214.5,85.4 214.7,88.5 214.9,91.2 215.1,93.0 215.3,93.8 215.5,93.4 215.7,92.0 215.9,89.7 216.1,86.7 216.2,83.5 216.4,80.3 216.6,77.6 216.8,75.6 217.0,74.7 217.2,74.8 217.4,76.1 217.6,78.2 217.8,81.1 218.0,84.3 218.2,87.5 218.4,90.3 218.6,92.5 218.7,93.6 218.9,93.7 219.1,92.7 219.3,90.7 219.5,88.0 219.7,84.8 219.9,81.6 220.1,78.6 220.3,76.3 220.5,74.9 220.7,74.6 220.9,75.4 221.1,77.2 221.3,79.8 221.4,82.9 221.6,86.2 221.8,89.2 222.0,91.6 222.2,93.2 222.4,93.8 222.6,93.2 222.8,91.6 223.0,89.2 223.2,86.1 223.4,82.9 223.6,79.8 223.8,77.2 224.0,75.4 224.1,74.6 224.3,75.0 224.5,76.4 224.7,78.7 224.9,81.7 225.1,85.0 225.3,88.2 225.5,90.9 225.7,92.8 225.9,93.7 226.1,93.5 226.3,92.2 226.5,90.0 226.7,87.0 226.8,83.8 227.0,80.5 227.2,77.7 227.4,75.7 227.6,74.7 227.8,74.8 228.0,76.1 228.2,78.3 228.4,81.2 228.6,84.5 228.8,87.8 229.0,90.6 229.2,92.7 229.4,93.7 229.5,93.6 229.7,92.3 229.9,90.1 230.1,87.1 230.3,83.7 230.5,80.5 230.7,77.6 230.9,75.6 231.1,74.7 231.3,74.9 231.5,76.3 231.7,78.6 231.9,81.7 232.1,85.1 232.2,88.4 232.4,91.1 232.6,93.0 232.8,93.8 233.0,93.4 233.2,91.8 233.4,89.2 233.6,86.0 233.8,82.6 234.0,79.3 234.2,76.7 234.4,75.1 234.6,74.6 234.8,75.4 234.9,77.3 235.1,80.1 235.3,83.4 235.5,86.9 235.7,90.0 235.9,92.3 236.1,93.6 236.3,93.7 236.5,92.5 236.7,90.2 236.9,87.1 237.1,83.6 237.3,80.2 237.5,77.4 237.6,75.4 237.8,74.6 238.0,75.1 238.2,76.8 238.4,79.5 238.6,82.9 238.8,86.4 239.0,89.6 239.2,92.1 239.4,93.5 239.6,93.7 239.8,92.6 240.0,90.3 240.2,87.2 240.3,83.7 240.5,80.2 240.7,77.3 240.9,75.4 241.1,74.6 241.3,75.2 241.5,77.0 241.7,79.8 241.9,83.2 242.1,86.8 242.3,90.0 242.5,92.4 242.7,93.6 242.8,93.6 243.0,92.3 243.2,89.8 243.4,86.6 243.6,83.0 243.8,79.6 244.0,76.8 244.2,75.1 244.4,74.6 244.6,75.5 244.8,77.6 245.0,80.6 245.2,84.2 245.4,87.7 245.5,90.7 245.7,92.9 245.9,93.8 246.1,93.3 246.3,91.6 246.5,88.9 246.7,85.5 246.9,81.9 247.1,78.6 247.3,76.1 247.5,74.8 247.7,74.8 247.9,76.1 248.1,78.5 248.2,81.8 248.4,85.3 248.6,88.8 248.8,91.6 249.0,93.3 249.2,93.8 249.4,92.9 249.6,90.8 249.8,87.8 250.0,84.3 250.2,80.8 250.4,77.7 250.6,75.6 250.8,74.6 250.9,75.0 251.1,76.7 251.3,79.4 251.5,82.7 251.7,86.3 251.9,89.6 252.1,92.1 252.3,93.6 252.5,93.7 252.7,92.5 252.9,90.2 253.1,87.1 253.3,83.6 253.5,80.1 253.6,77.3 253.8,75.3 254.0,74.6 254.2,75.2 254.4,77.0 254.6,79.8 254.8,83.2 255.0,86.7 255.2,89.9 255.4,92.3 255.6,93.6 255.8,93.7 256.0,92.5 256.2,90.2 256.3,87.1 256.5,83.6 256.7,80.2 256.9,77.3 257.1,75.4 257.3,74.6 257.5,75.1 257.7,76.8 257.9,79.4 258.1,82.7 258.3,86.2 258.5,89.4 258.7,91.9 258.9,93.4 259.0,93.8 259.2,92.9 259.4,90.8 259.6,88.0 259.8,84.6 260.0,81.2 260.2,78.2 260.4,76.0 260.6,74.8 260.8,74.8 261.0,75.9 261.2,78.2 261.4,81.2 261.6,84.5 261.7,87.9 261.9,90.7 262.1,92.8 262.3,93.7 262.5,93.5 262.7,92.2 262.9,89.8 263.1,86.8 263.3,83.4 263.5,80.1 263.7,77.4 263.9,75.5 264.1,74.6 264.3,74.9 264.4,76.4 264.6,78.8 264.8,81.8 265.0,85.2 265.2,88.4 265.4,91.1 265.6,92.9 265.8,93.8 266.0,93.4 266.2,92.0 266.4,89.7 266.6,86.6 266.8,83.3 267.0,80.2 267.1,77.4 267.3,75.5 267.5,74.6 267.7,74.9 267.9,76.2 268.1,78.5 268.3,81.5 268.5,84.7 268.7,87.9 268.9,90.7 269.1,92.7 269.3,93.7 269.5,93.6 269.6,92.4 269.8,90.3 270.0,87.4 270.2,84.2 270.4,81.0 270.6,78.1 270.8,76.0 271.0,74.8 271.2,74.7 271.4,75.7 271.6,77.7 271.8,80.4 272.0,83.6 272.2,86.8 272.3,89.7 272.5,92.0 272.7,93.4 272.9,93.8 273.1,93.0 273.3,91.2 273.5,88.6 273.7,85.5 273.9,82.3 274.1,79.3 274.3,76.8 274.5,75.2 274.7,74.6 274.9,75.1 275.0,76.7 275.2,79.1 275.4,82.2 275.6,85.4 275.8,88.5 276.0,91.2 276.2,93.0 276.4,93.8 276.6,93.5 276.8,92.1 277.0,89.8 277.2,86.9 277.4,83.6 277.6,80.4 277.7,77.7 277.9,75.7 278.1,74.7 278.3,74.8 278.5,76.0 278.7,78.2 278.9,81.1 279.1,84.3 279.3,87.5 279.5,90.4 279.7,92.5 279.9,93.6 280.1,93.7 280.3,92.6 280.4,90.5 280.6,87.6 280.8,84.4 281.0,81.1 281.2,78.2 281.4,76.0 281.6,74.8 281.8,74.7 282.0,75.8 282.2,77.8 282.4,80.7 282.6,83.9 282.8,87.2 283.0,90.2 283.1,92.4 283.3,93.6 283.5,93.7 283.7,92.6 283.9,90.5 284.1,87.6 284.3,84.2 284.5,80.9 284.7,78.0 284.9,75.8 285.1,74.7 285.3,74.8 285.5,76.0 285.7,78.3 285.8,81.3 286.0,84.7 286.2,88.0 286.4,90.8 286.6,92.8 286.8,93.8 287.0,93.5 287.2,92.0 287.4,89.5 287.6,86.4 287.8,82.9 288.0,79.6 288.2,77.0 288.4,75.2 288.5,74.6 288.7,75.3 288.9,77.1 289.1,79.8 289.3,83.1 289.5,86.6 289.7,89.8 289.9,92.2 290.1,93.6 290.3,93.7 290.5,92.6 290.7,90.4 290.9,87.3 291.1,83.9 291.2,80.4 291.4,77.5 291.6,75.5 291.8,74.6 292.0,75.0 292.2,76.7 292.4,79.4 292.6,82.7 292.8,86.2 293.0,89.5 293.2,92.0 293.4,93.5 293.6,93.7 293.7,92.6 293.9,90.4 294.1,87.3 294.3,83.8 294.5,80.3 294.7,77.4 294.9,75.4 295.1,74.6 295.3,75.1 295.5,76.9 295.7,79.7 295.9,83.1 296.1,86.7 296.3,89.9 296.4,92.3 296.6,93.6 296.8,93.6 297.0,92.3 297.2,89.8 297.4,86.6 297.6,83.0 297.8,79.6 298.0,76.8 298.2,75.1 298.4,74.6 298.6,75.5 298.8,77.6 299.0,80.6 299.1,84.2 299.3,87.7 299.5,90.7 299.7,92.9 299.9,93.8 300.1,93.3 300.3,91.6 300.5,88.9 300.7,85.5 300.9,81.9 301.1,78.6 301.3,76.1 301.5,74.8 301.7,74.8 301.8,76.1 302.0,78.5 302.2,81.8 302.4,85.3 302.6,88.8 302.8,91.5 303.0,93.3 303.2,93.8 303.4,92.9 303.6,90.9 303.8,87.9 304.0,84.3 304.2,80.8 304.4,77.8 304.5,75.6 304.7,74.6 304.9,75.0 305.1,76.6 305.3,79.3 305.5,82.7 305.7,86.2 305.9,89.5 306.1,92.1 306.3,93.5 306.5,93.7 306.7,92.6 306.9,90.3 307.1,87.2 307.2,83.7 307.4,80.2 307.6,77.3 307.8,75.4 308.0,74.6 308.2,75.1 308.4,76.9 308.6,79.6 308.8,83.0 309.0,86.5 309.2,89.7 309.4,92.2 309.6,93.6 309.8,93.7 309.9,92.6 310.1,90.3 310.3,87.3 310.5,83.8 310.7,80.4 310.9,77.5 311.1,75.5 311.3,74.6 311.5,75.0 311.7,76.6 311.9,79.2 312.1,82.4 312.3,85.9 312.5,89.1 312.6,91.5 312.8,92.8 313.0,92.9 313.2,91.8 313.4,89.8 313.6,87.3 313.8,84.8 314.0,82.6 314.2,81.0 314.4,80.3 314.6,80.3 314.8,80.9 315.0,81.8 315.2,82.8 315.3,83.6 315.5,84.2 315.7,84.4 315.9,84.5 316.1,84.4 316.3,84.2 316.5,84.2" fill="none" stroke="#1e1e1e" stroke-width="0.74" stroke-dasharray="3.3,1.1,2.7,0.9,3.9,1.3,2.1,1.0,2.9,1.2"/>
<polyline points="193.3,109.6 193.5,109.6 193.7,109.6 193.9,109.8 194.1,110.1 194.3,110.6 194.5,111.2 194.6,111.7 194.8,111.8 195.0,111.5 195.2,110.6 195.4,109.1 195.6,107.3 195.8,105.3 196.0,103.5 196.2,102.4 196.4,102.1 196.6,103.0 196.8,104.9 197.0,107.6 197.2,110.9 197.3,114.0 197.5,116.7 197.7,118.5 197.9,119.2 198.1,118.7 198.3,117.1 198.5,114.6 198.7,111.5 198.9,108.1 199.1,105.0 199.3,102.4 199.5,100.6 199.7,100.0 199.9,100.5 200.0,102.1 200.2,104.6 200.4,107.8 200.6,111.1 200.8,114.2 201.0,116.8 201.2,118.5 201.4,119.2 201.6,118.7 201.8,117.1 202.0,114.7 202.2,111.6 202.4,108.3 202.6,105.1 202.7,102.5 202.9,100.7 203.1,100.0 203.3,100.4 203.5,101.9 203.7,104.3 203.9,107.3 204.1,110.6 204.3,113.8 204.5,116.4 204.7,118.3 204.9,119.2 205.1,118.9 205.3,117.6 205.4,115.3 205.6,112.3 205.8,109.1 206.0,105.9 206.2,103.1 206.4,101.1 206.6,100.1 206.8,100.2 207.0,101.3 207.2,103.4 207.4,106.3 207.6,109.5 207.8,112.7 208.0,115.5 208.1,117.7 208.3,119.0 208.5,119.1 208.7,118.2 208.9,116.3 209.1,113.6 209.3,110.5 209.5,107.3 209.7,104.3 209.9,102.0 210.1,100.5 210.3,100.0 210.5,100.6 210.7,102.3 210.8,104.8 211.0,107.8 211.2,111.0 211.4,114.1 211.6,116.6 211.8,118.4 212.0,119.2 212.2,118.9 212.4,117.5 212.6,115.3 212.8,112.4 213.0,109.2 213.2,106.0 213.4,103.3 213.5,101.3 213.7,100.2 213.9,100.1 214.1,101.1 214.3,103.1 214.5,105.8 214.7,108.9 214.9,112.1 215.1,115.1 215.3,117.4 215.5,118.8 215.7,119.2 215.9,118.5 216.1,116.9 216.2,114.4 216.4,111.4 216.6,108.2 216.8,105.1 217.0,102.6 217.2,100.8 217.4,100.0 217.6,100.3 217.8,101.6 218.0,103.9 218.2,106.7 218.4,109.9 218.6,113.0 218.7,115.8 218.9,117.9 219.1,119.0 219.3,119.1 219.5,118.1 219.7,116.2 219.9,113.6 220.1,110.5 220.3,107.3 220.5,104.3 220.7,102.0 220.9,100.5 221.1,100.0 221.3,100.6 221.4,102.2 221.6,104.6 221.8,107.6 222.0,110.8 222.2,113.9 222.4,116.5 222.6,118.3 222.8,119.2 223.0,118.9 223.2,117.6 223.4,115.4 223.6,112.6 223.8,109.4 224.0,106.2 224.1,103.4 224.3,101.4 224.5,100.2 224.7,100.1 224.9,101.1 225.1,103.0 225.3,105.7 225.5,108.8 225.7,112.1 225.9,115.0 226.1,117.3 226.3,118.8 226.5,119.2 226.7,118.5 226.8,116.8 227.0,114.3 227.2,111.2 227.4,108.0 227.6,104.9 227.8,102.4 228.0,100.7 228.2,100.0 228.4,100.4 228.6,101.9 228.8,104.3 229.0,107.2 229.2,110.5 229.4,113.7 229.5,116.3 229.7,118.2 229.9,119.1 230.1,118.9 230.3,117.7 230.5,115.4 230.7,112.5 230.9,109.3 231.1,106.1 231.3,103.3 231.5,101.2 231.7,100.1 231.9,100.2 232.1,101.3 232.2,103.4 232.4,106.3 232.6,109.5 232.8,112.7 233.0,115.6 233.2,117.8 233.4,119.0 233.6,119.1 233.8,118.1 234.0,116.0 234.2,113.2 234.4,110.0 234.6,106.7 234.8,103.7 234.9,101.5 235.1,100.2 235.3,100.1 235.5,101.1 235.7,103.1 235.9,105.9 236.1,109.1 236.3,112.5 236.5,115.4 236.7,117.7 236.9,119.0 237.1,119.1 237.3,118.1 237.5,116.1 237.6,113.2 237.8,110.0 238.0,106.6 238.2,103.7 238.4,101.4 238.6,100.2 238.8,100.1 239.0,101.2 239.2,103.3 239.4,106.2 239.6,109.5 239.8,112.8 240.0,115.7 240.2,117.9 240.3,119.1 240.5,119.0 240.7,117.8 240.9,115.6 241.1,112.6 241.3,109.3 241.5,106.0 241.7,103.1 241.9,101.1 242.1,100.1 242.3,100.3 242.5,101.6 242.7,104.0 242.8,107.1 243.0,110.5 243.2,113.8 243.4,116.5 243.6,118.4 243.8,119.2 244.0,118.8 244.2,117.2 244.4,114.6 244.6,111.4 244.8,108.0 245.0,104.8 245.2,102.2 245.4,100.5 245.5,100.0 245.7,100.7 245.9,102.6 246.1,105.3 246.3,108.6 246.5,112.0 246.7,115.1 246.9,117.5 247.1,118.9 247.3,119.1 247.5,118.1 247.7,116.0 247.9,113.0 248.1,109.6 248.2,106.3 248.4,103.3 248.6,101.1 248.8,100.1 249.0,100.2 249.2,101.6 249.4,104.0 249.6,107.1 249.8,110.6 250.0,113.9 250.2,116.7 250.4,118.5 250.6,119.2 250.8,118.6 250.9,116.9 251.1,114.3 251.3,111.0 251.5,107.5 251.7,104.3 251.9,101.8 252.1,100.3 252.3,100.0 252.5,101.0 252.7,103.0 252.9,106.0 253.1,109.3 253.3,112.8 253.5,115.8 253.6,118.0 253.8,119.1 254.0,119.0 254.2,117.6 254.4,115.3 254.6,112.1 254.8,108.7 255.0,105.4 255.2,102.6 255.4,100.7 255.6,100.0 255.8,100.5 256.0,102.2 256.2,104.9 256.3,108.2 256.5,111.6 256.7,114.8 256.9,117.3 257.1,118.8 257.3,119.2 257.5,118.2 257.7,116.2 257.9,113.3 258.1,109.9 258.3,106.5 258.5,103.5 258.7,101.3 258.9,100.1 259.0,100.2 259.2,101.5 259.4,103.8 259.6,106.9 259.8,110.3 260.0,113.7 260.2,116.5 260.4,118.4 260.6,119.2 260.8,118.7 261.0,117.1 261.2,114.5 261.4,111.3 261.6,107.9 261.7,104.7 261.9,102.1 262.1,100.5 262.3,100.0 262.5,100.8 262.7,102.7 262.9,105.5 263.1,108.8 263.3,112.2 263.5,115.3 263.7,117.6 263.9,119.0 264.1,119.1 264.3,118.1 264.4,115.9 264.6,113.0 264.8,109.7 265.0,106.3 265.2,103.4 265.4,101.2 265.6,100.1 265.8,100.2 266.0,101.5 266.2,103.8 266.4,106.8 266.6,110.2 266.8,113.5 267.0,116.3 267.1,118.3 267.3,119.2 267.5,118.9 267.7,117.4 267.9,115.0 268.1,111.9 268.3,108.6 268.5,105.3 268.7,102.6 268.9,100.8 269.1,100.0 269.3,100.4 269.5,102.0 269.6,104.5 269.8,107.6 270.0,110.9 270.2,114.1 270.4,116.8 270.6,118.5 270.8,119.2 271.0,118.7 271.2,117.1 271.4,114.6 271.6,111.5 271.8,108.1 272.0,105.0 272.2,102.4 272.3,100.6 272.5,100.0 272.7,100.5 272.9,102.1 273.1,104.6 273.3,107.7 273.5,111.1 273.7,114.2 273.9,116.8 274.1,118.5 274.3,119.2 274.5,118.7 274.7,117.2 274.9,114.7 275.0,111.6 275.2,108.3 275.4,105.2 275.6,102.6 275.8,100.8 276.0,100.0 276.2,100.4 276.4,101.9 276.6,104.2 276.8,107.2 277.0,110.5 277.2,113.7 277.4,116.4 277.6,118.3 277.7,119.1 277.9,118.9 278.1,117.6 278.3,115.4 278.5,112.5 278.7,109.2 278.9,106.0 279.1,103.3 279.3,101.2 279.5,100.1 279.7,100.1 279.9,101.3 280.1,103.3 280.3,106.1 280.4,109.3 280.6,112.5 280.8,115.4 281.0,117.6 281.2,118.9 281.4,119.2 281.6,118.3 281.8,116.5 282.0,113.8 282.2,110.7 282.4,107.5 282.6,104.5 282.8,102.1 283.0,100.5 283.1,100.0 283.3,100.6 283.5,102.1 283.7,104.6 283.9,107.6 284.1,110.8 284.3,113.9 284.5,116.5 284.7,118.3 284.9,119.2 285.1,118.9 285.3,117.6 285.5,115.5 285.7,112.6 285.8,109.4 286.0,106.3 286.2,103.5 286.4,101.4 286.6,100.2 286.8,100.1 287.0,101.0 287.2,102.9 287.4,105.6 287.6,108.7 287.8,111.9 288.0,114.8 288.2,117.2 288.4,118.7 288.5,119.2 288.7,118.6 288.9,117.0 289.1,114.6 289.3,111.6 289.5,108.4 289.7,105.4 289.9,102.8 290.1,100.9 290.3,100.1 290.5,100.3 290.7,101.5 290.9,103.6 291.1,106.4 291.2,109.6 291.4,112.8 291.6,115.6 291.8,117.7 292.0,119.0 292.2,119.1 292.4,118.3 292.6,116.4 292.8,113.8 293.0,110.7 293.2,107.5 293.4,104.5 293.6,102.1 293.7,100.6 293.9,100.0 294.1,100.5 294.3,102.0 294.5,104.4 294.7,107.4 294.9,110.6 295.1,113.7 295.3,116.3 295.5,118.2 295.7,119.1 295.9,119.0 296.1,117.8 296.3,115.6 296.4,112.8 296.6,109.6 296.8,106.5 297.0,103.6 297.2,101.5 297.4,100.2 297.6,100.1 297.8,101.0 298.0,102.9 298.2,105.5 298.4,108.6 298.6,111.8 298.8,114.8 299.0,117.2 299.1,118.7 299.3,119.2 299.5,118.6 299.7,116.9 299.9,114.5 300.1,111.4 300.3,108.2 300.5,105.1 300.7,102.5 300.9,100.8 301.1,100.0 301.3,100.4 301.5,101.8 301.7,104.1 301.8,107.1 302.0,110.4 302.2,113.5 302.4,116.2 302.6,118.2 302.8,119.1 303.0,119.0 303.2,117.7 303.4,115.5 303.6,112.6 303.8,109.4 304.0,106.2 304.2,103.3 304.4,101.3 304.5,100.1 304.7,100.1 304.9,101.3 305.1,103.3 305.3,106.2 305.5,109.4 305.7,112.7 305.9,115.6 306.1,117.8 306.3,119.0 306.5,119.1 306.7,118.1 306.9,116.0 307.1,113.2 307.2,110.0 307.4,106.7 307.6,103.8 307.8,101.5 308.0,100.2 308.2,100.1 308.4,101.1 308.6,103.1 308.8,105.9 309.0,109.2 309.2,112.5 309.4,115.4 309.6,117.7 309.8,119.0 309.9,119.1 310.1,118.1 310.3,116.0 310.5,113.2 310.7,109.9 310.9,106.6 311.1,103.6 311.3,101.4 311.5,100.2 311.7,100.1 311.9,101.2 312.1,103.3 312.3,106.3 312.5,109.6 312.6,112.8 312.8,115.5 313.0,117.2 313.2,117.8 313.4,117.3 313.6,115.8 313.8,113.7 314.0,111.4 314.2,109.4 314.4,107.8 314.6,106.9 314.8,106.6 315.0,106.9 315.2,107.5 315.3,108.3 315.5,109.0 315.7,109.4 315.9,109.6 316.1,109.7 316.3,109.6 316.5,109.6" fill="none" stroke="#1e1e1e" stroke-width="0.74" stroke-dasharray="2.8,1.0,3.6,1.2,2.3,0.9,3.1,1.3,4.0,1.1"/>
<polyline points="31.6,257.2 32.0,256.9 32.4,255.9 32.8,254.7 33.2,253.9 33.6,254.2 34.1,256.1 34.5,259.2 34.9,262.4 35.3,264.9 35.7,266.3 36.1,266.5 36.5,265.5 36.9,263.4 37.3,260.5 37.7,257.2 38.1,253.8 38.6,250.9 39.0,248.8 39.4,247.9 39.8,248.1 40.2,249.6 40.6,252.0 41.0,255.1 41.4,258.6 41.8,261.8 42.2,264.4 42.7,266.1 43.1,266.6 43.5,265.9 43.9,264.0 44.3,261.2 44.7,257.9 45.1,254.5 45.5,251.5 45.9,249.2 46.3,248.0 46.7,247.9 47.2,249.1 47.6,251.4 48.0,254.4 48.4,257.8 48.8,261.1 49.2,263.9 49.6,265.8 50.0,266.6 50.4,266.1 50.8,264.5 51.2,261.9 51.7,258.7 52.1,255.3 52.5,252.1 52.9,249.6 53.3,248.1 53.7,247.8 54.1,248.8 54.5,250.8 54.9,253.7 55.3,257.0 55.8,260.4 56.2,263.3 56.6,265.5 57.0,266.5 57.4,266.3 57.8,265.0 58.2,262.5 58.6,259.4 59.0,256.0 59.4,252.8 59.8,250.1 60.3,248.4 60.7,247.8 61.1,248.5 61.5,250.3 61.9,253.0 62.3,256.3 62.7,259.7 63.1,262.7 63.5,265.1 63.9,266.4 64.3,266.5 64.8,265.4 65.2,263.2 65.6,260.2 66.0,256.8 66.4,253.5 66.8,250.6 67.2,248.7 67.6,247.8 68.0,248.2 68.4,249.8 68.9,252.3 69.3,255.5 69.7,258.9 70.1,262.1 70.5,264.7 70.9,266.2 71.3,266.6 71.7,265.7 72.1,263.7 72.5,260.9 72.9,257.5 73.4,254.2 73.8,251.2 74.2,249.0 74.6,247.9 75.0,248.0 75.4,249.3 75.8,251.7 76.2,254.8 76.6,258.2 77.0,261.5 77.4,264.2 77.9,266.0 78.3,266.6 78.7,266.0 79.1,264.2 79.5,261.6 79.9,258.3 80.3,254.9 80.7,251.8 81.1,249.4 81.5,248.0 82.0,247.9 82.4,249.0 82.8,251.1 83.2,254.1 83.6,257.4 84.0,260.8 84.4,263.6 84.8,265.7 85.2,266.6 85.6,266.2 86.0,264.7 86.5,262.2 86.9,259.1 87.3,255.6 87.7,252.4 88.1,249.9 88.5,248.2 88.9,247.8 89.3,248.6 89.7,250.5 90.1,253.4 90.5,256.7 91.0,260.0 91.4,263.1 91.8,265.3 92.2,266.5 92.6,266.4 93.0,265.2 93.4,262.8 93.8,259.8 94.2,256.4 94.6,253.1 95.1,250.4 95.5,248.5 95.9,247.8 96.3,248.3 96.7,250.0 97.1,252.7 97.5,255.9 97.9,259.3 98.3,262.4 98.7,264.9 99.1,266.3 99.6,266.5 100.0,265.5 100.4,263.4 100.8,260.5 101.2,257.2 101.6,253.8 102.0,250.9 102.4,248.8 102.8,247.9 103.2,248.1 103.6,249.6 104.1,252.0 104.5,255.2 104.9,258.6 105.3,261.8 105.7,264.4 106.1,266.1 106.5,266.6 106.9,265.9 107.3,264.0 107.7,261.2 108.2,257.9 108.6,254.5 109.0,251.5 109.4,249.2 109.8,248.0 110.2,247.9 110.6,249.1 111.0,251.4 111.4,254.4 111.8,257.8 112.2,261.1 112.7,263.9 113.1,265.8 113.5,266.6 113.9,266.1 114.3,264.5 114.7,261.9 115.1,258.7 115.5,255.3 115.9,252.1 116.3,249.6 116.7,248.1 117.2,247.8 117.6,248.8 118.0,250.8 118.4,253.7 118.8,257.1 119.2,260.4 119.6,263.4 120.0,265.5 120.4,266.5 120.8,266.3 121.3,264.9 121.7,262.5 122.1,259.4 122.5,256.0 122.9,252.8 123.3,250.1 123.7,248.4 124.1,247.8 124.5,248.5 124.9,250.3 125.3,253.0 125.8,256.3 126.2,259.7 126.6,262.8 127.0,265.1 127.4,266.4 127.8,266.5 128.2,265.4 128.6,263.1 129.0,260.2 129.4,256.8 129.8,253.5 130.3,250.6 130.7,248.7 131.1,247.8 131.5,248.2 131.9,249.8 132.3,252.3 132.7,255.5 133.1,258.9 133.5,262.1 133.9,264.7 134.4,266.2 134.8,266.6 135.2,265.7 135.6,263.7 136.0,260.9 136.4,257.5 136.8,254.2 137.2,251.2 137.6,249.0 138.0,247.9 138.4,248.0 138.9,249.3 139.3,251.7 139.7,254.8 140.1,258.2 140.5,261.5 140.9,264.2 141.3,266.0 141.7,266.6 142.1,266.0 142.5,264.2 142.9,261.6 143.4,258.3 143.8,254.9 144.2,251.8 144.6,249.4 145.0,248.0 145.4,247.9 145.8,249.0 146.2,251.1 146.6,254.1 147.0,257.4 147.5,260.8 147.9,263.6 148.3,265.7 148.7,266.6 149.1,266.2 149.5,264.7 149.9,262.2 150.3,259.0 150.7,255.6 151.1,252.7 151.5,251.2 152.0,251.4 152.4,252.8 152.8,254.8 153.2,256.3 153.6,257.1 154.0,257.2" fill="none" stroke="#2a2a2a" stroke-width="0.72" stroke-dasharray="2.3,1.15"/>
<polyline points="31.6,282.8 32.0,282.6 32.4,282.7 32.8,283.6 33.2,285.5 33.6,288.2 34.1,290.4 34.5,291.3 34.9,290.2 35.3,287.5 35.7,284.1 36.1,280.5 36.5,277.2 36.9,274.8 37.3,273.5 37.7,273.6 38.1,275.1 38.6,277.7 39.0,281.1 39.4,284.7 39.8,288.1 40.2,290.6 40.6,292.0 41.0,292.0 41.4,290.7 41.8,288.2 42.2,284.9 42.7,281.3 43.1,277.9 43.5,275.2 43.9,273.7 44.3,273.5 44.7,274.7 45.1,277.1 45.5,280.3 45.9,283.9 46.3,287.4 46.7,290.1 47.2,291.8 47.6,292.2 48.0,291.1 48.4,288.8 48.8,285.7 49.2,282.1 49.6,278.6 50.0,275.7 50.4,273.9 50.8,273.4 51.2,274.3 51.7,276.5 52.1,279.6 52.5,283.1 52.9,286.7 53.3,289.6 53.7,291.6 54.1,292.2 54.5,291.5 54.9,289.4 55.3,286.4 55.8,282.9 56.2,279.3 56.6,276.3 57.0,274.2 57.4,273.4 57.8,274.0 58.2,275.9 58.6,278.8 59.0,282.3 59.4,285.9 59.8,289.0 60.3,291.2 60.7,292.2 61.1,291.7 61.5,290.0 61.9,287.1 62.3,283.7 62.7,280.1 63.1,276.9 63.5,274.6 63.9,273.5 64.3,273.7 64.8,275.4 65.2,278.1 65.6,281.5 66.0,285.1 66.4,288.4 66.8,290.8 67.2,292.1 67.6,292.0 68.0,290.5 68.4,287.8 68.9,284.5 69.3,280.8 69.7,277.5 70.1,275.0 70.5,273.6 70.9,273.6 71.3,274.9 71.7,277.4 72.1,280.7 72.5,284.4 72.9,287.7 73.4,290.4 73.8,291.9 74.2,292.1 74.6,290.9 75.0,288.5 75.4,285.2 75.8,281.6 76.2,278.2 76.6,275.4 77.0,273.8 77.4,273.4 77.9,274.5 78.3,276.8 78.7,280.0 79.1,283.6 79.5,287.0 79.9,289.9 80.3,291.7 80.7,292.2 81.1,291.3 81.5,289.1 82.0,286.0 82.4,282.4 82.8,278.9 83.2,276.0 83.6,274.0 84.0,273.4 84.4,274.2 84.8,276.2 85.2,279.2 85.6,282.8 86.0,286.3 86.5,289.4 86.9,291.4 87.3,292.2 87.7,291.6 88.1,289.7 88.5,286.8 88.9,283.2 89.3,279.7 89.7,276.5 90.1,274.4 90.5,273.4 91.0,273.9 91.4,275.7 91.8,278.5 92.2,282.0 92.6,285.6 93.0,288.8 93.4,291.1 93.8,292.1 94.2,291.8 94.6,290.2 95.1,287.5 95.5,284.0 95.9,280.4 96.3,277.2 96.7,274.7 97.1,273.5 97.5,273.7 97.9,275.2 98.3,277.8 98.7,281.2 99.1,284.8 99.6,288.1 100.0,290.6 100.4,292.0 100.8,292.0 101.2,290.7 101.6,288.1 102.0,284.8 102.4,281.2 102.8,277.8 103.2,275.2 103.6,273.7 104.1,273.5 104.5,274.7 104.9,277.1 105.3,280.4 105.7,284.0 106.1,287.4 106.5,290.2 106.9,291.8 107.3,292.1 107.7,291.1 108.2,288.8 108.6,285.6 109.0,282.0 109.4,278.5 109.8,275.7 110.2,273.9 110.6,273.4 111.0,274.3 111.4,276.5 111.8,279.6 112.2,283.2 112.7,286.7 113.1,289.7 113.5,291.6 113.9,292.2 114.3,291.4 114.7,289.4 115.1,286.4 115.5,282.8 115.9,279.3 116.3,276.2 116.7,274.2 117.2,273.4 117.6,274.0 118.0,275.9 118.4,278.9 118.8,282.4 119.2,286.0 119.6,289.1 120.0,291.3 120.4,292.2 120.8,291.7 121.3,289.9 121.7,287.1 122.1,283.6 122.5,280.0 122.9,276.8 123.3,274.5 123.7,273.5 124.1,273.8 124.5,275.4 124.9,278.2 125.3,281.6 125.8,285.2 126.2,288.5 126.6,290.9 127.0,292.1 127.4,291.9 127.8,290.4 128.2,287.8 128.6,284.4 129.0,280.8 129.4,277.5 129.8,274.9 130.3,273.6 130.7,273.6 131.1,275.0 131.5,277.5 131.9,280.8 132.3,284.4 132.7,287.8 133.1,290.4 133.5,291.9 133.9,292.1 134.4,290.9 134.8,288.4 135.2,285.2 135.6,281.6 136.0,278.1 136.4,275.4 136.8,273.8 137.2,273.5 137.6,274.5 138.0,276.8 138.4,280.0 138.9,283.6 139.3,287.1 139.7,289.9 140.1,291.7 140.5,292.2 140.9,291.2 141.3,289.1 141.7,285.9 142.1,282.4 142.5,278.9 142.9,275.9 143.4,274.0 143.8,273.4 144.2,274.2 144.6,276.2 145.0,279.3 145.4,282.8 145.8,286.4 146.2,289.4 146.6,291.4 147.0,292.2 147.5,291.6 147.9,289.6 148.3,286.7 148.7,283.2 149.1,279.6 149.5,276.5 149.9,274.3 150.3,273.4 150.7,273.9 151.1,276.2 151.5,279.3 152.0,282.3 152.4,284.1 152.8,284.5 153.2,283.9 153.6,283.1 154.0,282.8" fill="none" stroke="#2a2a2a" stroke-width="0.72" stroke-dasharray="2.3,1.15"/>
<polyline points="31.6,308.2 31.8,308.2 32.0,308.1 32.2,308.0 32.4,308.2 32.6,308.6 32.7,309.3 32.9,310.1 33.1,310.9 33.3,311.4 33.5,311.4 33.7,310.6 33.9,309.1 34.1,306.9 34.3,304.5 34.5,302.2 34.7,300.6 34.9,300.0 35.0,300.6 35.2,302.5 35.4,305.5 35.6,308.9 35.8,312.4 36.0,315.3 36.2,317.2 36.4,317.8 36.6,317.1 36.8,315.2 37.0,312.3 37.2,308.9 37.3,305.3 37.5,302.2 37.7,299.9 37.9,298.7 38.1,298.8 38.3,300.2 38.5,302.7 38.7,306.0 38.9,309.5 39.1,312.9 39.3,315.6 39.5,317.3 39.6,317.8 39.8,317.0 40.0,315.0 40.2,312.1 40.4,308.7 40.6,305.2 40.8,302.1 41.0,299.9 41.2,298.7 41.4,298.8 41.6,300.2 41.8,302.6 41.9,305.7 42.1,309.2 42.3,312.6 42.5,315.3 42.7,317.1 42.9,317.8 43.1,317.2 43.3,315.4 43.5,312.7 43.7,309.5 43.9,306.0 44.1,302.8 44.2,300.4 44.4,298.9 44.6,298.6 44.8,299.6 45.0,301.6 45.2,304.5 45.4,307.9 45.6,311.2 45.8,314.2 46.0,316.5 46.2,317.6 46.3,317.6 46.5,316.5 46.7,314.2 46.9,311.3 47.1,307.9 47.3,304.6 47.5,301.8 47.7,299.7 47.9,298.7 48.1,298.8 48.3,300.1 48.5,302.4 48.6,305.4 48.8,308.8 49.0,312.0 49.2,314.8 49.4,316.8 49.6,317.7 49.8,317.5 50.0,316.2 50.2,313.9 50.4,310.9 50.6,307.6 50.8,304.4 50.9,301.6 51.1,299.6 51.3,298.7 51.5,298.8 51.7,300.1 51.9,302.3 52.1,305.3 52.3,308.5 52.5,311.8 52.7,314.6 52.9,316.6 53.1,317.7 53.2,317.6 53.4,316.5 53.6,314.4 53.8,311.5 54.0,308.3 54.2,305.1 54.4,302.2 54.6,300.0 54.8,298.8 55.0,298.7 55.2,299.7 55.4,301.6 55.5,304.3 55.7,307.5 55.9,310.8 56.1,313.7 56.3,316.0 56.5,317.4 56.7,317.8 56.9,317.0 57.1,315.3 57.3,312.7 57.5,309.6 57.7,306.3 57.8,303.3 58.0,300.8 58.2,299.2 58.4,298.6 58.6,299.1 58.8,300.7 59.0,303.1 59.2,306.1 59.4,309.4 59.6,312.5 59.8,315.1 59.9,316.9 60.1,317.8 60.3,317.5 60.5,316.1 60.7,313.9 60.9,310.9 61.1,307.7 61.3,304.5 61.5,301.7 61.7,299.7 61.9,298.7 62.1,298.8 62.2,300.0 62.4,302.1 62.6,304.9 62.8,308.2 63.0,311.4 63.2,314.3 63.4,316.4 63.6,317.6 63.8,317.7 64.0,316.7 64.2,314.6 64.4,311.9 64.5,308.6 64.7,305.4 64.9,302.4 65.1,300.2 65.3,298.9 65.5,298.7 65.7,299.6 65.9,301.6 66.1,304.4 66.3,307.6 66.5,310.9 66.7,313.9 66.8,316.2 67.0,317.5 67.2,317.7 67.4,316.8 67.6,314.8 67.8,312.0 68.0,308.7 68.2,305.4 68.4,302.4 68.6,300.1 68.8,298.8 69.0,298.7 69.1,299.7 69.3,301.8 69.5,304.7 69.7,308.0 69.9,311.4 70.1,314.3 70.3,316.5 70.5,317.7 70.7,317.6 70.9,316.4 71.1,314.1 71.3,311.1 71.4,307.7 71.6,304.4 71.8,301.5 72.0,299.5 72.2,298.6 72.4,299.0 72.6,300.5 72.8,303.0 73.0,306.2 73.2,309.7 73.4,313.0 73.5,315.6 73.7,317.3 73.9,317.8 74.1,317.0 74.3,315.1 74.5,312.3 74.7,308.9 74.9,305.4 75.1,302.3 75.3,300.0 75.5,298.8 75.7,298.8 75.8,300.0 76.0,302.4 76.2,305.6 76.4,309.1 76.6,312.5 76.8,315.3 77.0,317.1 77.2,317.8 77.4,317.2 77.6,315.3 77.8,312.5 78.0,309.1 78.1,305.5 78.3,302.4 78.5,300.0 78.7,298.7 78.9,298.8 79.1,300.1 79.3,302.6 79.5,305.8 79.7,309.4 79.9,312.8 80.1,315.5 80.3,317.3 80.4,317.8 80.6,317.0 80.8,314.9 81.0,311.9 81.2,308.4 81.4,304.9 81.6,301.8 81.8,299.6 82.0,298.6 82.2,299.0 82.4,300.6 82.6,303.3 82.7,306.7 82.9,310.3 83.1,313.6 83.3,316.1 83.5,317.6 83.7,317.7 83.9,316.5 84.1,314.1 84.3,310.9 84.5,307.3 84.7,303.9 84.9,301.0 85.0,299.2 85.2,298.6 85.4,299.4 85.6,301.4 85.8,304.4 86.0,307.9 86.2,311.4 86.4,314.5 86.6,316.7 86.8,317.8 87.0,317.4 87.1,315.8 87.3,313.1 87.5,309.8 87.7,306.2 87.9,302.9 88.1,300.3 88.3,298.9 88.5,298.7 88.7,299.9 88.9,302.2 89.1,305.3 89.3,308.9 89.4,312.4 89.6,315.2 89.8,317.1 90.0,317.8 90.2,317.1 90.4,315.3 90.6,312.4 90.8,309.0 91.0,305.4 91.2,302.3 91.4,299.9 91.6,298.7 91.7,298.8 91.9,300.2 92.1,302.6 92.3,305.8 92.5,309.4 92.7,312.7 92.9,315.5 93.1,317.2 93.3,317.8 93.5,317.1 93.7,315.1 93.9,312.3 94.0,308.9 94.2,305.4 94.4,302.3 94.6,300.0 94.8,298.7 95.0,298.8 95.2,300.0 95.4,302.4 95.6,305.5 95.8,309.0 96.0,312.3 96.2,315.1 96.3,317.0 96.5,317.8 96.7,317.3 96.9,315.6 97.1,313.0 97.3,309.8 97.5,306.3 97.7,303.1 97.9,300.6 98.1,299.0 98.3,298.6 98.5,299.4 98.6,301.4 98.8,304.2 99.0,307.5 99.2,310.8 99.4,313.9 99.6,316.2 99.8,317.6 100.0,317.7 100.2,316.7 100.4,314.6 100.6,311.7 100.7,308.4 100.9,305.1 101.1,302.1 101.3,299.9 101.5,298.8 101.7,298.7 101.9,299.9 102.1,302.0 102.3,304.9 102.5,308.2 102.7,311.5 102.9,314.4 103.0,316.5 103.2,317.7 103.4,317.7 103.6,316.5 103.8,314.4 104.0,311.5 104.2,308.2 104.4,305.0 104.6,302.1 104.8,299.9 105.0,298.8 105.2,298.7 105.3,299.8 105.5,301.8 105.7,304.6 105.9,307.9 106.1,311.1 106.3,314.0 106.5,316.3 106.7,317.5 106.9,317.7 107.1,316.8 107.3,314.9 107.5,312.2 107.6,309.0 107.8,305.8 108.0,302.8 108.2,300.4 108.4,299.0 108.6,298.6 108.8,299.3 109.0,301.1 109.2,303.7 109.4,306.8 109.6,310.0 109.8,313.1 109.9,315.6 110.1,317.2 110.3,317.8 110.5,317.3 110.7,315.7 110.9,313.3 111.1,310.3 111.3,307.1 111.5,303.9 111.7,301.3 111.9,299.5 112.1,298.6 112.2,298.9 112.4,300.2 112.6,302.5 112.8,305.4 113.0,308.6 113.2,311.8 113.4,314.6 113.6,316.6 113.8,317.7 114.0,317.6 114.2,316.5 114.3,314.4 114.5,311.6 114.7,308.4 114.9,305.2 115.1,302.3 115.3,300.1 115.5,298.8 115.7,298.7 115.9,299.6 116.1,301.6 116.3,304.3 116.5,307.5 116.6,310.7 116.8,313.7 117.0,316.0 117.2,317.5 117.4,317.8 117.6,317.0 117.8,315.1 118.0,312.5 118.2,309.3 118.4,306.0 118.6,302.9 118.8,300.5 118.9,299.0 119.1,298.6 119.3,299.4 119.5,301.2 119.7,303.8 119.9,307.0 120.1,310.3 120.3,313.4 120.5,315.9 120.7,317.4 120.9,317.8 121.1,317.0 121.2,315.2 121.4,312.5 121.6,309.3 121.8,305.9 122.0,302.8 122.2,300.4 122.4,298.9 122.6,298.6 122.8,299.5 123.0,301.5 123.2,304.3 123.4,307.6 123.5,311.0 123.7,314.0 123.9,316.3 124.1,317.6 124.3,317.7 124.5,316.6 124.7,314.4 124.9,311.5 125.1,308.1 125.3,304.7 125.5,301.8 125.7,299.7 125.8,298.7 126.0,298.9 126.2,300.3 126.4,302.8 126.6,305.9 126.8,309.4 127.0,312.7 127.2,315.4 127.4,317.2 127.6,317.8 127.8,317.1 127.9,315.3 128.1,312.5 128.3,309.1 128.5,305.6 128.7,302.5 128.9,300.1 129.1,298.8 129.3,298.7 129.5,299.9 129.7,302.3 129.9,305.4 130.1,308.9 130.2,312.3 130.4,315.2 130.6,317.1 130.8,317.8 131.0,317.2 131.2,315.4 131.4,312.6 131.6,309.2 131.8,305.6 132.0,302.4 132.2,300.0 132.4,298.8 132.5,298.8 132.7,300.1 132.9,302.5 133.1,305.7 133.3,309.3 133.5,312.7 133.7,315.5 133.9,317.3 134.1,317.8 134.3,317.0 134.5,314.9 134.7,312.0 134.8,308.5 135.0,304.9 135.2,301.8 135.4,299.6 135.6,298.6 135.8,299.0 136.0,300.6 136.2,303.3 136.4,306.7 136.6,310.3 136.8,313.6 137.0,316.1 137.1,317.6 137.3,317.7 137.5,316.5 137.7,314.1 137.9,310.9 138.1,307.3 138.3,303.9 138.5,301.0 138.7,299.2 138.9,298.6 139.1,299.4 139.3,301.4 139.4,304.4 139.6,307.9 139.8,311.4 140.0,314.5 140.2,316.7 140.4,317.8 140.6,317.4 140.8,315.8 141.0,313.2 141.2,309.8 141.4,306.2 141.5,302.9 141.7,300.3 141.9,298.9 142.1,298.7 142.3,299.8 142.5,302.2 142.7,305.3 142.9,308.8 143.1,312.3 143.3,315.2 143.5,317.1 143.7,317.8 143.8,317.2 144.0,315.3 144.2,312.5 144.4,309.1 144.6,305.5 144.8,302.4 145.0,300.0 145.2,298.7 145.4,298.8 145.6,300.1 145.8,302.5 146.0,305.7 146.1,309.2 146.3,312.6 146.5,315.4 146.7,317.2 146.9,317.8 147.1,317.1 147.3,315.3 147.5,312.5 147.7,309.1 147.9,305.6 148.1,302.5 148.3,300.1 148.4,298.8 148.6,298.7 148.8,299.9 149.0,302.2 149.2,305.2 149.4,308.7 149.6,312.0 149.8,314.9 150.0,316.8 150.2,317.5 150.4,316.9 150.6,315.2 150.7,312.6 150.9,309.8 151.1,307.1 151.3,304.9 151.5,303.6 151.7,303.2 151.9,303.5 152.1,304.5 152.3,305.7 152.5,306.9 152.7,307.9 152.9,308.6 153.0,308.8 153.2,308.8 153.4,308.6 153.6,308.4 153.8,308.2 154.0,308.2" fill="none" stroke="#1e1e1e" stroke-width="0.74" stroke-dasharray="3.3,1.1,2.7,0.9,3.9,1.3,2.1,1.0,2.9,1.2"/>
<polyline points="31.6,333.6 31.8,333.6 32.0,333.7 32.2,334.0 32.4,334.3 32.6,334.7 32.7,335.0 32.9,335.0 33.1,334.6 33.3,333.6 33.5,332.3 33.7,330.6 33.9,329.0 34.1,327.7 34.3,327.1 34.5,327.4 34.7,328.7 34.9,331.0 35.0,333.9 35.2,337.0 35.4,339.9 35.6,342.0 35.8,343.1 36.0,343.0 36.2,341.7 36.4,339.4 36.6,336.4 36.8,333.1 37.0,329.8 37.2,327.0 37.3,325.0 37.5,324.1 37.7,324.3 37.9,325.6 38.1,327.9 38.3,330.8 38.5,334.2 38.7,337.4 38.9,340.2 39.1,342.2 39.3,343.1 39.5,343.0 39.6,341.7 39.8,339.4 40.0,336.5 40.2,333.2 40.4,329.9 40.6,327.1 40.8,325.1 41.0,324.1 41.2,324.2 41.4,325.4 41.6,327.6 41.8,330.5 41.9,333.7 42.1,337.0 42.3,339.8 42.5,341.9 42.7,343.0 42.9,343.1 43.1,342.0 43.3,339.9 43.5,337.1 43.7,333.9 43.9,330.7 44.1,327.8 44.2,325.5 44.4,324.3 44.6,324.1 44.8,325.0 45.0,326.9 45.2,329.5 45.4,332.7 45.6,335.9 45.8,338.9 46.0,341.3 46.2,342.8 46.3,343.2 46.5,342.5 46.7,340.8 46.9,338.3 47.1,335.3 47.3,332.0 47.5,329.0 47.7,326.4 47.9,324.7 48.1,324.0 48.3,324.4 48.5,325.8 48.6,328.1 48.8,331.1 49.0,334.3 49.2,337.4 49.4,340.1 49.6,342.1 49.8,343.1 50.0,343.0 50.2,341.9 50.4,339.8 50.6,337.0 50.8,333.9 50.9,330.7 51.1,327.8 51.3,325.6 51.5,324.3 51.7,324.0 51.9,324.8 52.1,326.6 52.3,329.2 52.5,332.2 52.7,335.5 52.9,338.5 53.1,340.9 53.2,342.6 53.4,343.2 53.6,342.8 53.8,341.3 54.0,339.0 54.2,336.0 54.4,332.9 54.6,329.7 54.8,327.1 55.0,325.1 55.2,324.1 55.4,324.2 55.5,325.3 55.7,327.3 55.9,330.1 56.1,333.2 56.3,336.4 56.5,339.3 56.7,341.5 56.9,342.9 57.1,343.2 57.3,342.4 57.5,340.7 57.7,338.2 57.8,335.1 58.0,331.9 58.2,328.9 58.4,326.4 58.6,324.7 58.8,324.0 59.0,324.4 59.2,325.8 59.4,328.1 59.6,331.0 59.8,334.1 59.9,337.3 60.1,340.0 60.3,342.0 60.5,343.1 60.7,343.1 60.9,342.0 61.1,340.0 61.3,337.3 61.5,334.1 61.7,330.9 61.9,328.0 62.1,325.7 62.2,324.4 62.4,324.0 62.6,324.8 62.8,326.5 63.0,329.0 63.2,332.1 63.4,335.3 63.6,338.4 63.8,340.9 64.0,342.5 64.2,343.2 64.4,342.8 64.5,341.3 64.7,338.9 64.9,336.0 65.1,332.7 65.3,329.6 65.5,326.9 65.7,325.0 65.9,324.1 66.1,324.2 66.3,325.5 66.5,327.6 66.7,330.5 66.8,333.7 67.0,336.9 67.2,339.7 67.4,341.9 67.6,343.0 67.8,343.1 68.0,342.1 68.2,340.1 68.4,337.3 68.6,334.1 68.8,330.9 69.0,327.9 69.1,325.6 69.3,324.3 69.5,324.0 69.7,324.9 69.9,326.8 70.1,329.5 70.3,332.6 70.5,335.9 70.7,338.9 70.9,341.3 71.1,342.8 71.3,343.2 71.4,342.4 71.6,340.6 71.8,338.0 72.0,334.9 72.2,331.6 72.4,328.5 72.6,326.0 72.8,324.5 73.0,324.0 73.2,324.7 73.4,326.4 73.5,329.1 73.7,332.2 73.9,335.5 74.1,338.6 74.3,341.1 74.5,342.7 74.7,343.2 74.9,342.5 75.1,340.8 75.3,338.1 75.5,334.9 75.7,331.6 75.8,328.5 76.0,326.0 76.2,324.4 76.4,324.0 76.6,324.7 76.8,326.6 77.0,329.3 77.2,332.5 77.4,335.8 77.6,338.9 77.8,341.4 78.0,342.8 78.1,343.2 78.3,342.3 78.5,340.4 78.7,337.6 78.9,334.3 79.1,331.0 79.3,327.9 79.5,325.6 79.7,324.2 79.9,324.1 80.1,325.1 80.3,327.2 80.4,330.1 80.6,333.4 80.8,336.8 81.0,339.7 81.2,341.9 81.4,343.1 81.6,343.0 81.8,341.8 82.0,339.5 82.2,336.5 82.4,333.1 82.6,329.8 82.7,326.9 82.9,324.9 83.1,324.0 83.3,324.4 83.5,325.8 83.7,328.3 83.9,331.5 84.1,334.9 84.3,338.2 84.5,340.9 84.7,342.6 84.9,343.2 85.0,342.6 85.2,340.8 85.4,338.1 85.6,334.8 85.8,331.4 86.0,328.2 86.2,325.8 86.4,324.3 86.6,324.1 86.8,325.0 87.0,327.1 87.1,330.0 87.3,333.4 87.5,336.8 87.7,339.8 87.9,342.0 88.1,343.1 88.3,343.0 88.5,341.6 88.7,339.3 88.9,336.1 89.1,332.7 89.3,329.4 89.4,326.6 89.6,324.7 89.8,324.0 90.0,324.5 90.2,326.2 90.4,328.9 90.6,332.2 90.8,335.6 91.0,338.8 91.2,341.3 91.4,342.8 91.6,343.2 91.7,342.2 91.9,340.2 92.1,337.3 92.3,333.9 92.5,330.5 92.7,327.5 92.9,325.2 93.1,324.1 93.3,324.2 93.5,325.5 93.7,327.9 93.9,331.0 94.0,334.5 94.2,337.8 94.4,340.6 94.6,342.5 94.8,343.2 95.0,342.7 95.2,341.0 95.4,338.4 95.6,335.1 95.8,331.6 96.0,328.4 96.2,325.9 96.3,324.4 96.5,324.0 96.7,324.9 96.9,326.9 97.1,329.8 97.3,333.2 97.5,336.6 97.7,339.6 97.9,341.9 98.1,343.1 98.3,343.0 98.5,341.8 98.6,339.5 98.8,336.4 99.0,333.0 99.2,329.7 99.4,326.9 99.6,324.9 99.8,324.0 100.0,324.4 100.2,325.9 100.4,328.5 100.6,331.6 100.7,335.1 100.9,338.3 101.1,340.9 101.3,342.6 101.5,343.2 101.7,342.5 101.9,340.7 102.1,338.0 102.3,334.8 102.5,331.4 102.7,328.2 102.9,325.8 103.0,324.3 103.2,324.0 103.4,325.0 103.6,326.9 103.8,329.8 104.0,333.1 104.2,336.5 104.4,339.5 104.6,341.7 104.8,343.0 105.0,343.1 105.2,342.0 105.3,339.8 105.5,336.9 105.7,333.6 105.9,330.3 106.1,327.4 106.3,325.2 106.5,324.1 106.7,324.2 106.9,325.4 107.1,327.7 107.3,330.6 107.5,334.0 107.6,337.2 107.8,340.1 108.0,342.1 108.2,343.1 108.4,343.0 108.6,341.7 108.8,339.4 109.0,336.4 109.2,333.1 109.4,329.8 109.6,327.0 109.8,325.0 109.9,324.1 110.1,324.3 110.3,325.6 110.5,327.9 110.7,330.8 110.9,334.1 111.1,337.4 111.3,340.2 111.5,342.2 111.7,343.1 111.9,343.0 112.1,341.7 112.2,339.4 112.4,336.5 112.6,333.2 112.8,330.0 113.0,327.2 113.2,325.1 113.4,324.1 113.6,324.2 113.8,325.4 114.0,327.5 114.2,330.4 114.3,333.6 114.5,336.9 114.7,339.7 114.9,341.9 115.1,343.0 115.3,343.1 115.5,342.0 115.7,340.0 115.9,337.2 116.1,334.0 116.3,330.8 116.5,327.9 116.6,325.6 116.8,324.3 117.0,324.0 117.2,324.9 117.4,326.7 117.6,329.4 117.8,332.5 118.0,335.8 118.2,338.8 118.4,341.2 118.6,342.7 118.8,343.2 118.9,342.6 119.1,341.0 119.3,338.5 119.5,335.5 119.7,332.2 119.9,329.1 120.1,326.6 120.3,324.8 120.5,324.0 120.7,324.3 120.9,325.7 121.1,328.0 121.2,330.9 121.4,334.1 121.6,337.2 121.8,340.0 122.0,342.0 122.2,343.1 122.4,343.1 122.6,342.0 122.8,340.0 123.0,337.3 123.2,334.1 123.4,330.9 123.5,328.0 123.7,325.8 123.9,324.4 124.1,324.0 124.3,324.7 124.5,326.4 124.7,329.0 124.9,332.0 125.1,335.2 125.3,338.2 125.5,340.7 125.7,342.5 125.8,343.2 126.0,342.8 126.2,341.5 126.4,339.2 126.6,336.3 126.8,333.1 127.0,330.0 127.2,327.3 127.4,325.2 127.6,324.2 127.8,324.1 127.9,325.1 128.1,327.1 128.3,329.8 128.5,332.9 128.7,336.1 128.9,339.0 129.1,341.3 129.3,342.8 129.5,343.2 129.7,342.5 129.9,340.9 130.1,338.4 130.2,335.4 130.4,332.2 130.6,329.1 130.8,326.6 131.0,324.8 131.2,324.0 131.4,324.3 131.6,325.6 131.8,327.8 132.0,330.7 132.2,333.9 132.4,337.0 132.5,339.8 132.7,341.9 132.9,343.0 133.1,343.1 133.3,342.1 133.5,340.2 133.7,337.5 133.9,334.4 134.1,331.1 134.3,328.2 134.5,325.9 134.7,324.4 134.8,324.0 135.0,324.7 135.2,326.3 135.4,328.8 135.6,331.9 135.8,335.1 136.0,338.2 136.2,340.7 136.4,342.5 136.6,343.2 136.8,342.8 137.0,341.4 137.1,339.1 137.3,336.2 137.5,332.9 137.7,329.8 137.9,327.1 138.1,325.1 138.3,324.1 138.5,324.2 138.7,325.4 138.9,327.5 139.1,330.3 139.3,333.6 139.4,336.8 139.6,339.6 139.8,341.8 140.0,343.0 140.2,343.1 140.4,342.1 140.6,340.2 140.8,337.4 141.0,334.2 141.2,331.0 141.4,328.0 141.5,325.7 141.7,324.3 141.9,324.0 142.1,324.9 142.3,326.7 142.5,329.4 142.7,332.6 142.9,335.8 143.1,338.9 143.3,341.3 143.5,342.8 143.7,343.2 143.8,342.5 144.0,340.7 144.2,338.1 144.4,334.9 144.6,331.6 144.8,328.5 145.0,326.0 145.2,324.5 145.4,324.0 145.6,324.7 145.8,326.4 146.0,329.0 146.1,332.2 146.3,335.5 146.5,338.6 146.7,341.1 146.9,342.7 147.1,343.2 147.3,342.5 147.5,340.7 147.7,338.1 147.9,334.9 148.1,331.6 148.3,328.4 148.4,326.0 148.6,324.4 148.8,324.0 149.0,324.8 149.2,326.6 149.4,329.3 149.6,332.6 149.8,335.9 150.0,338.9 150.2,341.2 150.4,342.4 150.6,342.3 150.7,341.1 150.9,339.1 151.1,336.6 151.3,334.0 151.5,331.9 151.7,330.4 151.9,329.7 152.1,329.7 152.3,330.3 152.5,331.2 152.7,332.2 152.9,333.0 153.0,333.6 153.2,333.9 153.4,333.9 153.6,333.8 153.8,333.6 154.0,333.6" fill="none" stroke="#1e1e1e" stroke-width="0.74" stroke-dasharray="2.8,1.0,3.6,1.2,2.3,0.9,3.1,1.3,4.0,1.1"/>
<polyline points="193.3,257.2 193.7,257.0 194.1,256.1 194.5,254.5 194.9,253.1 195.4,252.6 195.8,253.8 196.2,256.7 196.6,260.2 197.0,263.4 197.4,265.6 197.8,266.6 198.2,266.1 198.7,264.3 199.1,261.4 199.5,257.8 199.9,254.2 200.3,251.0 200.7,248.8 201.1,247.8 201.5,248.3 202.0,250.1 202.4,253.0 202.8,256.5 203.2,260.2 203.6,263.4 204.0,265.6 204.4,266.6 204.8,266.1 205.2,264.3 205.7,261.4 206.1,257.9 206.5,254.3 206.9,251.1 207.3,248.8 207.7,247.8 208.1,248.3 208.5,250.1 209.0,253.0 209.4,256.5 209.8,260.1 210.2,263.3 210.6,265.6 211.0,266.6 211.4,266.1 211.8,264.4 212.3,261.5 212.7,258.0 213.1,254.3 213.5,251.1 213.9,248.8 214.3,247.8 214.7,248.2 215.1,250.0 215.6,252.9 216.0,256.4 216.4,260.1 216.8,263.3 217.2,265.5 217.6,266.6 218.0,266.2 218.4,264.4 218.8,261.5 219.3,258.0 219.7,254.4 220.1,251.2 220.5,248.9 220.9,247.8 221.3,248.2 221.7,250.0 222.1,252.8 222.6,256.3 223.0,260.0 223.4,263.2 223.8,265.5 224.2,266.6 224.6,266.2 225.0,264.4 225.4,261.6 225.9,258.1 226.3,254.4 226.7,251.2 227.1,248.9 227.5,247.8 227.9,248.2 228.3,249.9 228.7,252.8 229.1,256.3 229.6,259.9 230.0,263.2 230.4,265.5 230.8,266.6 231.2,266.2 231.6,264.5 232.0,261.7 232.4,258.1 232.9,254.5 233.3,251.3 233.7,248.9 234.1,247.8 234.5,248.2 234.9,249.9 235.3,252.7 235.7,256.2 236.2,259.9 236.6,263.1 237.0,265.5 237.4,266.5 237.8,266.2 238.2,264.5 238.6,261.7 239.0,258.2 239.4,254.6 239.9,251.3 240.3,249.0 240.7,247.9 241.1,248.2 241.5,249.9 241.9,252.7 242.3,256.2 242.7,259.8 243.2,263.1 243.6,265.4 244.0,266.5 244.4,266.2 244.8,264.6 245.2,261.8 245.6,258.3 246.0,254.6 246.5,251.4 246.9,249.0 247.3,247.9 247.7,248.2 248.1,249.8 248.5,252.6 248.9,256.1 249.3,259.7 249.7,263.0 250.2,265.4 250.6,266.5 251.0,266.3 251.4,264.6 251.8,261.8 252.2,258.3 252.6,254.7 253.0,251.4 253.5,249.0 253.9,247.9 254.3,248.1 254.7,249.8 255.1,252.5 255.5,256.0 255.9,259.7 256.3,263.0 256.8,265.4 257.2,266.5 257.6,266.3 258.0,264.6 258.4,261.9 258.8,258.4 259.2,254.8 259.6,251.5 260.1,249.1 260.5,247.9 260.9,248.1 261.3,249.7 261.7,252.5 262.1,256.0 262.5,259.6 262.9,262.9 263.3,265.3 263.8,266.5 264.2,266.3 264.6,264.7 265.0,261.9 265.4,258.5 265.8,254.8 266.2,251.5 266.6,249.1 267.1,247.9 267.5,248.1 267.9,249.7 268.3,252.4 268.7,255.9 269.1,259.5 269.5,262.9 269.9,265.3 270.4,266.5 270.8,266.3 271.2,264.7 271.6,262.0 272.0,258.5 272.4,254.9 272.8,251.6 273.2,249.1 273.6,247.9 274.1,248.1 274.5,249.7 274.9,252.4 275.3,255.8 275.7,259.5 276.1,262.8 276.5,265.3 276.9,266.5 277.4,266.3 277.8,264.8 278.2,262.1 278.6,258.6 279.0,254.9 279.4,251.6 279.8,249.2 280.2,247.9 280.7,248.1 281.1,249.6 281.5,252.3 281.9,255.8 282.3,259.4 282.7,262.7 283.1,265.2 283.5,266.5 283.9,266.3 284.4,264.8 284.8,262.1 285.2,258.7 285.6,255.0 286.0,251.7 286.4,249.2 286.8,247.9 287.2,248.1 287.7,249.6 288.1,252.3 288.5,255.7 288.9,259.4 289.3,262.7 289.7,265.2 290.1,266.5 290.5,266.4 291.0,264.8 291.4,262.2 291.8,258.7 292.2,255.1 292.6,251.7 293.0,249.2 293.4,247.9 293.8,248.0 294.2,249.5 294.7,252.2 295.1,255.6 295.5,259.3 295.9,262.6 296.3,265.2 296.7,266.5 297.1,266.4 297.5,264.9 298.0,262.2 298.4,258.8 298.8,255.1 299.2,251.8 299.6,249.3 300.0,247.9 300.4,248.0 300.8,249.5 301.3,252.2 301.7,255.6 302.1,259.2 302.5,262.6 302.9,265.1 303.3,266.5 303.7,266.4 304.1,264.9 304.6,262.3 305.0,258.9 305.4,255.2 305.8,251.8 306.2,249.3 306.6,248.0 307.0,248.0 307.4,249.5 307.8,252.1 308.3,255.5 308.7,259.2 309.1,262.5 309.5,265.1 309.9,266.4 310.3,266.4 310.7,265.0 311.1,262.3 311.6,258.9 312.0,255.3 312.4,251.9 312.8,249.3 313.2,248.0 313.6,248.6 314.0,250.9 314.4,253.8 314.9,256.4 315.3,257.7 315.7,257.9 316.1,257.5 316.5,257.2" fill="none" stroke="#2a2a2a" stroke-width="0.72" stroke-dasharray="2.3,1.15"/>
<polyline points="193.3,282.8 193.7,282.6 194.1,282.2 194.5,282.5 194.9,284.0 195.4,286.4 195.8,289.3 196.2,291.4 196.6,292.0 197.0,290.8 197.4,288.5 197.8,285.4 198.2,282.0 198.7,278.7 199.1,275.9 199.5,274.1 199.9,273.4 200.3,274.0 200.7,275.8 201.1,278.6 201.5,281.9 202.0,285.3 202.4,288.4 202.8,290.8 203.2,292.0 203.6,292.0 204.0,290.8 204.4,288.5 204.8,285.4 205.2,282.0 205.7,278.6 206.1,275.9 206.5,274.0 206.9,273.4 207.3,274.0 207.7,275.8 208.1,278.6 208.5,281.9 209.0,285.4 209.4,288.5 209.8,290.8 210.2,292.0 210.6,292.0 211.0,290.8 211.4,288.5 211.8,285.4 212.3,281.9 212.7,278.6 213.1,275.8 213.5,274.0 213.9,273.4 214.3,274.0 214.7,275.9 215.1,278.6 215.6,282.0 216.0,285.4 216.4,288.5 216.8,290.8 217.2,292.0 217.6,292.0 218.0,290.8 218.4,288.4 218.8,285.3 219.3,281.9 219.7,278.6 220.1,275.8 220.5,274.0 220.9,273.4 221.3,274.1 221.7,275.9 222.1,278.7 222.6,282.0 223.0,285.4 223.4,288.5 223.8,290.8 224.2,292.1 224.6,292.0 225.0,290.7 225.4,288.4 225.9,285.3 226.3,281.8 226.7,278.5 227.1,275.8 227.5,274.0 227.9,273.4 228.3,274.1 228.7,275.9 229.1,278.7 229.6,282.0 230.0,285.5 230.4,288.6 230.8,290.9 231.2,292.1 231.6,292.0 232.0,290.7 232.4,288.4 232.9,285.3 233.3,281.8 233.7,278.5 234.1,275.8 234.5,274.0 234.9,273.4 235.3,274.1 235.7,275.9 236.2,278.7 236.6,282.1 237.0,285.5 237.4,288.6 237.8,290.9 238.2,292.1 238.6,292.0 239.0,290.7 239.4,288.3 239.9,285.2 240.3,281.8 240.7,278.5 241.1,275.7 241.5,274.0 241.9,273.4 242.3,274.1 242.7,276.0 243.2,278.8 243.6,282.1 244.0,285.6 244.4,288.6 244.8,290.9 245.2,292.1 245.6,292.0 246.0,290.7 246.5,288.3 246.9,285.2 247.3,281.7 247.7,278.4 248.1,275.7 248.5,274.0 248.9,273.4 249.3,274.1 249.7,276.0 250.2,278.8 250.6,282.2 251.0,285.6 251.4,288.6 251.8,290.9 252.2,292.1 252.6,292.0 253.0,290.7 253.5,288.3 253.9,285.1 254.3,281.7 254.7,278.4 255.1,275.7 255.5,273.9 255.9,273.4 256.3,274.1 256.8,276.0 257.2,278.8 257.6,282.2 258.0,285.6 258.4,288.7 258.8,290.9 259.2,292.1 259.6,292.0 260.1,290.6 260.5,288.2 260.9,285.1 261.3,281.7 261.7,278.4 262.1,275.7 262.5,273.9 262.9,273.4 263.3,274.1 263.8,276.1 264.2,278.9 264.6,282.2 265.0,285.7 265.4,288.7 265.8,291.0 266.2,292.1 266.6,292.0 267.1,290.6 267.5,288.2 267.9,285.1 268.3,281.6 268.7,278.3 269.1,275.6 269.5,273.9 269.9,273.4 270.4,274.2 270.8,276.1 271.2,278.9 271.6,282.3 272.0,285.7 272.4,288.7 272.8,291.0 273.2,292.1 273.6,292.0 274.1,290.6 274.5,288.2 274.9,285.0 275.3,281.6 275.7,278.3 276.1,275.6 276.5,273.9 276.9,273.4 277.4,274.2 277.8,276.1 278.2,279.0 278.6,282.3 279.0,285.7 279.4,288.8 279.8,291.0 280.2,292.1 280.7,292.0 281.1,290.6 281.5,288.1 281.9,285.0 282.3,281.5 282.7,278.3 283.1,275.6 283.5,273.9 283.9,273.4 284.4,274.2 284.8,276.1 285.2,279.0 285.6,282.4 286.0,285.8 286.4,288.8 286.8,291.0 287.2,292.1 287.7,292.0 288.1,290.6 288.5,288.1 288.9,284.9 289.3,281.5 289.7,278.2 290.1,275.6 290.5,273.9 291.0,273.4 291.4,274.2 291.8,276.2 292.2,279.0 292.6,282.4 293.0,285.8 293.4,288.8 293.8,291.0 294.2,292.1 294.7,291.9 295.1,290.5 295.5,288.1 295.9,284.9 296.3,281.5 296.7,278.2 297.1,275.5 297.5,273.9 298.0,273.4 298.4,274.2 298.8,276.2 299.2,279.1 299.6,282.4 300.0,285.9 300.4,288.9 300.8,291.0 301.3,292.1 301.7,291.9 302.1,290.5 302.5,288.0 302.9,284.9 303.3,281.4 303.7,278.1 304.1,275.5 304.6,273.9 305.0,273.4 305.4,274.2 305.8,276.2 306.2,279.1 306.6,282.5 307.0,285.9 307.4,288.9 307.8,291.1 308.3,292.1 308.7,291.9 309.1,290.5 309.5,288.0 309.9,284.8 310.3,281.4 310.7,278.1 311.1,275.5 311.6,273.8 312.0,273.4 312.4,274.3 312.8,276.3 313.2,279.2 313.6,282.5 314.0,285.3 314.4,286.8 314.9,286.7 315.3,285.5 315.7,284.0 316.1,283.1 316.5,282.8" fill="none" stroke="#2a2a2a" stroke-width="0.72" stroke-dasharray="2.3,1.15"/>
<polyline points="193.3,308.2 193.5,308.2 193.7,308.2 193.9,308.4 194.1,308.7 194.3,309.2 194.5,309.8 194.6,310.2 194.8,310.3 195.0,309.8 195.2,308.7 195.4,307.0 195.6,305.0 195.8,303.1 196.0,301.7 196.2,301.1 196.4,301.6 196.6,303.4 196.8,306.1 197.0,309.4 197.2,312.7 197.3,315.5 197.5,317.3 197.7,317.8 197.9,316.9 198.1,314.9 198.3,311.9 198.5,308.4 198.7,304.9 198.9,301.8 199.1,299.6 199.3,298.6 199.5,299.0 199.7,300.6 199.9,303.2 200.0,306.5 200.2,310.1 200.4,313.3 200.6,315.9 200.8,317.5 201.0,317.7 201.2,316.7 201.4,314.6 201.6,311.5 201.8,308.1 202.0,304.6 202.2,301.7 202.4,299.6 202.6,298.6 202.7,299.0 202.9,300.5 203.1,303.1 203.3,306.4 203.5,309.9 203.7,313.1 203.9,315.8 204.1,317.4 204.3,317.8 204.5,316.9 204.7,315.0 204.9,312.1 205.1,308.7 205.3,305.3 205.4,302.2 205.6,300.0 205.8,298.8 206.0,298.8 206.2,300.0 206.4,302.2 206.6,305.3 206.8,308.7 207.0,312.0 207.2,314.8 207.4,316.9 207.6,317.8 207.8,317.5 208.0,316.0 208.1,313.6 208.3,310.5 208.5,307.1 208.7,303.8 208.9,301.1 209.1,299.3 209.3,298.6 209.5,299.1 209.7,300.7 209.9,303.2 210.1,306.3 210.3,309.7 210.5,312.9 210.7,315.5 210.8,317.2 211.0,317.8 211.2,317.3 211.4,315.6 211.6,313.1 211.8,310.0 212.0,306.6 212.2,303.5 212.4,300.9 212.6,299.2 212.8,298.6 213.0,299.1 213.2,300.7 213.4,303.2 213.5,306.3 213.7,309.6 213.9,312.7 214.1,315.3 214.3,317.1 214.5,317.8 214.7,317.4 214.9,315.9 215.1,313.5 215.3,310.5 215.5,307.2 215.7,304.1 215.9,301.4 216.1,299.5 216.2,298.6 216.4,298.9 216.6,300.2 216.8,302.5 217.0,305.4 217.2,308.6 217.4,311.8 217.6,314.6 217.8,316.6 218.0,317.7 218.2,317.6 218.4,316.5 218.6,314.4 218.7,311.6 218.9,308.4 219.1,305.2 219.3,302.3 219.5,300.1 219.7,298.9 219.9,298.7 220.1,299.6 220.3,301.4 220.5,304.1 220.7,307.2 220.9,310.5 221.1,313.5 221.3,315.9 221.4,317.4 221.6,317.8 221.8,317.1 222.0,315.4 222.2,312.9 222.4,309.8 222.6,306.6 222.8,303.5 223.0,301.0 223.2,299.3 223.4,298.6 223.6,299.1 223.8,300.6 224.0,303.0 224.1,306.0 224.3,309.2 224.5,312.4 224.7,315.1 224.9,316.9 225.1,317.8 225.3,317.5 225.5,316.1 225.7,313.8 225.9,310.9 226.1,307.6 226.3,304.4 226.5,301.6 226.7,299.6 226.8,298.7 227.0,298.8 227.2,300.1 227.4,302.3 227.6,305.3 227.8,308.6 228.0,311.8 228.2,314.6 228.4,316.7 228.6,317.7 228.8,317.6 229.0,316.3 229.2,314.1 229.4,311.1 229.5,307.8 229.7,304.5 229.9,301.7 230.1,299.7 230.3,298.7 230.5,298.9 230.7,300.2 230.9,302.5 231.1,305.5 231.3,308.9 231.5,312.2 231.7,315.0 231.9,316.9 232.1,317.8 232.2,317.4 232.4,315.9 232.6,313.5 232.8,310.3 233.0,306.9 233.2,303.6 233.4,301.0 233.6,299.2 233.8,298.6 234.0,299.2 234.2,301.0 234.4,303.7 234.6,307.0 234.8,310.4 234.9,313.6 235.1,316.0 235.3,317.5 235.5,317.7 235.7,316.7 235.9,314.6 236.1,311.7 236.3,308.2 236.5,304.8 236.7,301.8 236.9,299.7 237.1,298.7 237.3,298.9 237.5,300.4 237.6,302.9 237.8,306.2 238.0,309.7 238.2,313.0 238.4,315.7 238.6,317.3 238.8,317.8 239.0,316.9 239.2,314.9 239.4,312.0 239.6,308.5 239.8,305.0 240.0,301.9 240.2,299.7 240.3,298.7 240.5,298.9 240.7,300.4 240.9,303.0 241.1,306.3 241.3,309.9 241.5,313.2 241.7,315.8 241.9,317.4 242.1,317.8 242.3,316.7 242.5,314.6 242.7,311.5 242.8,307.9 243.0,304.5 243.2,301.5 243.4,299.4 243.6,298.6 243.8,299.1 244.0,300.9 244.2,303.7 244.4,307.1 244.6,310.7 244.8,314.0 245.0,316.4 245.2,317.7 245.4,317.6 245.5,316.2 245.7,313.7 245.9,310.5 246.1,306.9 246.3,303.5 246.5,300.7 246.7,299.0 246.9,298.6 247.1,299.6 247.3,301.7 247.5,304.8 247.7,308.3 247.9,311.8 248.1,314.9 248.2,316.9 248.4,317.8 248.6,317.3 248.8,315.5 249.0,312.7 249.2,309.3 249.4,305.7 249.6,302.5 249.8,300.1 250.0,298.8 250.2,298.8 250.4,300.1 250.6,302.6 250.8,305.8 250.9,309.4 251.1,312.8 251.3,315.6 251.5,317.3 251.7,317.8 251.9,316.9 252.1,314.9 252.3,311.9 252.5,308.4 252.7,304.9 252.9,301.9 253.1,299.7 253.3,298.7 253.5,298.9 253.6,300.5 253.8,303.1 254.0,306.4 254.2,309.9 254.4,313.2 254.6,315.8 254.8,317.4 255.0,317.8 255.2,316.8 255.4,314.7 255.6,311.7 255.8,308.3 256.0,304.8 256.2,301.8 256.3,299.7 256.5,298.7 256.7,298.9 256.9,300.4 257.1,302.9 257.3,306.2 257.5,309.6 257.7,312.9 257.9,315.6 258.1,317.3 258.3,317.8 258.5,317.1 258.7,315.2 258.9,312.4 259.0,309.0 259.2,305.6 259.4,302.5 259.6,300.1 259.8,298.8 260.0,298.7 260.2,299.8 260.4,302.0 260.6,304.9 260.8,308.3 261.0,311.6 261.2,314.5 261.4,316.7 261.6,317.7 261.7,317.6 261.9,316.2 262.1,313.9 262.3,310.9 262.5,307.5 262.7,304.3 262.9,301.5 263.1,299.5 263.3,298.6 263.5,298.9 263.7,300.4 263.9,302.8 264.1,305.8 264.3,309.2 264.4,312.4 264.6,315.1 264.8,317.0 265.0,317.8 265.2,317.4 265.4,316.0 265.6,313.6 265.8,310.5 266.0,307.2 266.2,304.0 266.4,301.3 266.6,299.5 266.8,298.6 267.0,298.9 267.1,300.3 267.3,302.7 267.5,305.6 267.7,308.9 267.9,312.1 268.1,314.8 268.3,316.8 268.5,317.7 268.7,317.6 268.9,316.3 269.1,314.1 269.3,311.2 269.5,307.9 269.6,304.7 269.8,301.9 270.0,299.8 270.2,298.7 270.4,298.7 270.6,299.8 270.8,301.9 271.0,304.7 271.2,307.9 271.4,311.1 271.6,314.0 271.8,316.2 272.0,317.5 272.2,317.7 272.3,316.9 272.5,315.0 272.7,312.3 272.9,309.2 273.1,305.9 273.3,303.0 273.5,300.6 273.7,299.1 273.9,298.6 274.1,299.3 274.3,300.9 274.5,303.4 274.7,306.5 274.9,309.8 275.0,312.8 275.2,315.4 275.4,317.1 275.6,317.8 275.8,317.4 276.0,315.9 276.2,313.5 276.4,310.6 276.6,307.3 276.8,304.1 277.0,301.5 277.2,299.6 277.4,298.7 277.6,298.9 277.7,300.2 277.9,302.4 278.1,305.3 278.3,308.5 278.5,311.8 278.7,314.6 278.9,316.6 279.1,317.7 279.3,317.6 279.5,316.5 279.7,314.4 279.9,311.5 280.1,308.2 280.3,305.0 280.4,302.1 280.6,300.0 280.8,298.8 281.0,298.7 281.2,299.8 281.4,301.9 281.6,304.7 281.8,308.0 282.0,311.3 282.2,314.2 282.4,316.4 282.6,317.6 282.8,317.7 283.0,316.6 283.1,314.5 283.3,311.6 283.5,308.3 283.7,305.0 283.9,302.1 284.1,299.9 284.3,298.7 284.5,298.8 284.7,299.9 284.9,302.1 285.1,305.1 285.3,308.4 285.5,311.8 285.7,314.6 285.8,316.7 286.0,317.7 286.2,317.5 286.4,316.2 286.6,313.8 286.8,310.7 287.0,307.3 287.2,304.0 287.4,301.2 287.6,299.3 287.8,298.6 288.0,299.1 288.2,300.8 288.4,303.4 288.5,306.6 288.7,310.1 288.9,313.3 289.1,315.9 289.3,317.4 289.5,317.8 289.7,316.9 289.9,314.8 290.1,311.9 290.3,308.5 290.5,305.0 290.7,302.0 290.9,299.8 291.1,298.7 291.2,298.9 291.4,300.3 291.6,302.8 291.8,306.0 292.0,309.5 292.2,312.8 292.4,315.6 292.6,317.3 292.8,317.8 293.0,317.0 293.2,315.0 293.4,312.1 293.6,308.6 293.7,305.1 293.9,302.0 294.1,299.8 294.3,298.7 294.5,298.9 294.7,300.4 294.9,302.9 295.1,306.2 295.3,309.8 295.5,313.1 295.7,315.8 295.9,317.4 296.1,317.8 296.3,316.8 296.4,314.6 296.6,311.5 296.8,308.0 297.0,304.5 297.2,301.5 297.4,299.4 297.6,298.6 297.8,299.1 298.0,300.9 298.2,303.7 298.4,307.1 298.6,310.7 298.8,313.9 299.0,316.4 299.1,317.7 299.3,317.6 299.5,316.2 299.7,313.7 299.9,310.5 300.1,306.9 300.3,303.5 300.5,300.7 300.7,299.0 300.9,298.6 301.1,299.6 301.3,301.7 301.5,304.8 301.7,308.3 301.8,311.8 302.0,314.9 302.2,316.9 302.4,317.8 302.6,317.3 302.8,315.5 303.0,312.8 303.2,309.3 303.4,305.7 303.6,302.5 303.8,300.1 304.0,298.8 304.2,298.8 304.4,300.1 304.5,302.5 304.7,305.8 304.9,309.3 305.1,312.7 305.3,315.5 305.5,317.3 305.7,317.8 305.9,317.0 306.1,314.9 306.3,312.0 306.5,308.5 306.7,305.0 306.9,301.9 307.1,299.7 307.2,298.7 307.4,298.9 307.6,300.4 307.8,303.0 308.0,306.3 308.2,309.8 308.4,313.1 308.6,315.8 308.8,317.4 309.0,317.8 309.2,316.9 309.4,314.8 309.6,311.9 309.8,308.5 309.9,305.0 310.1,302.0 310.3,299.8 310.5,298.7 310.7,298.9 310.9,300.3 311.1,302.7 311.3,305.9 311.5,309.4 311.7,312.7 311.9,315.4 312.1,317.2 312.3,317.8 312.5,317.1 312.6,315.2 312.8,312.4 313.0,309.3 313.2,306.2 313.4,303.8 313.6,302.3 313.8,301.8 314.0,302.2 314.2,303.4 314.4,305.0 314.6,306.7 314.8,308.1 315.0,309.1 315.2,309.5 315.3,309.6 315.5,309.3 315.7,308.9 315.9,308.6 316.1,308.3 316.3,308.2 316.5,308.2" fill="none" stroke="#1e1e1e" stroke-width="0.74" stroke-dasharray="3.3,1.1,2.7,0.9,3.9,1.3,2.1,1.0,2.9,1.2"/>
<polyline points="193.3,333.6 193.5,333.6 193.7,333.8 193.9,334.0 194.1,334.2 194.3,334.3 194.5,334.0 194.6,333.4 194.8,332.5 195.0,331.2 195.2,330.0 195.4,328.9 195.6,328.5 195.8,328.8 196.0,329.9 196.2,332.0 196.4,334.6 196.6,337.4 196.8,340.0 197.0,342.0 197.2,342.9 197.3,342.6 197.5,341.1 197.7,338.6 197.9,335.5 198.1,332.2 198.3,329.0 198.5,326.4 198.7,324.6 198.9,324.0 199.1,324.5 199.3,326.2 199.5,328.7 199.7,331.8 199.9,335.1 200.0,338.3 200.2,340.9 200.4,342.6 200.6,343.2 200.8,342.7 201.0,341.1 201.2,338.6 201.4,335.5 201.6,332.2 201.8,329.0 202.0,326.4 202.2,324.7 202.4,324.0 202.6,324.5 202.7,326.0 202.9,328.5 203.1,331.5 203.3,334.8 203.5,337.9 203.7,340.6 203.9,342.4 204.1,343.2 204.3,342.8 204.5,341.4 204.7,339.1 204.9,336.1 205.1,332.8 205.3,329.6 205.4,326.9 205.6,325.0 205.8,324.1 206.0,324.2 206.2,325.5 206.4,327.7 206.6,330.6 206.8,333.8 207.0,337.0 207.2,339.8 207.4,341.9 207.6,343.0 207.8,343.1 208.0,342.0 208.1,340.0 208.3,337.3 208.5,334.1 208.7,330.9 208.9,328.0 209.1,325.7 209.3,324.3 209.5,324.0 209.7,324.8 209.9,326.6 210.1,329.2 210.3,332.2 210.5,335.5 210.7,338.5 210.8,341.0 211.0,342.6 211.2,343.2 211.4,342.7 211.6,341.2 211.8,338.9 212.0,335.9 212.2,332.7 212.4,329.6 212.6,326.9 212.8,325.0 213.0,324.1 213.2,324.2 213.4,325.4 213.5,327.5 213.7,330.3 213.9,333.5 214.1,336.6 214.3,339.5 214.5,341.7 214.7,342.9 214.9,343.2 215.1,342.3 215.3,340.5 215.5,337.9 215.7,334.8 215.9,331.6 216.1,328.6 216.2,326.2 216.4,324.6 216.6,324.0 216.8,324.5 217.0,326.0 217.2,328.3 217.4,331.2 217.6,334.4 217.8,337.5 218.0,340.2 218.2,342.1 218.4,343.1 218.6,343.0 218.7,341.9 218.9,339.8 219.1,337.1 219.3,333.9 219.5,330.7 219.7,327.9 219.9,325.7 220.1,324.3 220.3,324.0 220.5,324.8 220.7,326.6 220.9,329.1 221.1,332.2 221.3,335.4 221.4,338.4 221.6,340.9 221.8,342.5 222.0,343.2 222.2,342.8 222.4,341.3 222.6,339.0 222.8,336.1 223.0,332.9 223.2,329.8 223.4,327.1 223.6,325.1 223.8,324.1 224.0,324.2 224.1,325.3 224.3,327.4 224.5,330.1 224.7,333.3 224.9,336.5 225.1,339.4 225.3,341.6 225.5,342.9 225.7,343.2 225.9,342.3 226.1,340.5 226.3,337.9 226.5,334.8 226.7,331.6 226.8,328.6 227.0,326.1 227.2,324.6 227.4,324.0 227.6,324.5 227.8,326.1 228.0,328.6 228.2,331.6 228.4,334.8 228.6,338.0 228.8,340.6 229.0,342.4 229.2,343.2 229.4,342.9 229.5,341.5 229.7,339.2 229.9,336.3 230.1,333.0 230.3,329.8 230.5,327.1 230.7,325.1 230.9,324.1 231.1,324.2 231.3,325.4 231.5,327.6 231.7,330.5 231.9,333.7 232.1,336.9 232.2,339.8 232.4,341.9 232.6,343.0 232.8,343.1 233.0,342.0 233.2,339.9 233.4,337.1 233.6,333.8 233.8,330.6 234.0,327.7 234.2,325.4 234.4,324.2 234.6,324.1 234.8,325.1 234.9,327.1 235.1,330.0 235.3,333.2 235.5,336.5 235.7,339.4 235.9,341.7 236.1,343.0 236.3,343.1 236.5,342.1 236.7,340.1 236.9,337.3 237.1,334.0 237.3,330.7 237.5,327.7 237.6,325.5 237.8,324.2 238.0,324.1 238.2,325.1 238.4,327.2 238.6,330.1 238.8,333.4 239.0,336.7 239.2,339.7 239.4,341.9 239.6,343.0 239.8,343.1 240.0,341.9 240.2,339.7 240.3,336.8 240.5,333.5 240.7,330.1 240.9,327.2 241.1,325.1 241.3,324.1 241.5,324.2 241.7,325.5 241.9,327.8 242.1,330.9 242.3,334.2 242.5,337.5 242.7,340.4 242.8,342.3 243.0,343.2 243.2,342.8 243.4,341.3 243.6,338.8 243.8,335.7 244.0,332.3 244.2,329.0 244.4,326.4 244.6,324.6 244.8,324.0 245.0,324.6 245.2,326.3 245.4,329.0 245.5,332.3 245.7,335.7 245.9,338.8 246.1,341.3 246.3,342.8 246.5,343.2 246.7,342.3 246.9,340.3 247.1,337.4 247.3,334.0 247.5,330.6 247.7,327.6 247.9,325.3 248.1,324.1 248.2,324.2 248.4,325.4 248.6,327.7 248.8,330.7 249.0,334.2 249.2,337.5 249.4,340.4 249.6,342.3 249.8,343.2 250.0,342.8 250.2,341.2 250.4,338.6 250.6,335.4 250.8,332.0 250.9,328.7 251.1,326.1 251.3,324.5 251.5,324.0 251.7,324.8 251.9,326.7 252.1,329.5 252.3,332.9 252.5,336.3 252.7,339.4 252.9,341.7 253.1,343.0 253.3,343.1 253.5,341.9 253.6,339.6 253.8,336.6 254.0,333.2 254.2,329.8 254.4,326.9 254.6,324.9 254.8,324.0 255.0,324.4 255.2,325.9 255.4,328.5 255.6,331.7 255.8,335.2 256.0,338.4 256.2,341.1 256.3,342.7 256.5,343.2 256.7,342.4 256.9,340.5 257.1,337.7 257.3,334.4 257.5,330.9 257.7,327.8 257.9,325.5 258.1,324.2 258.3,324.1 258.5,325.3 258.7,327.5 258.9,330.5 259.0,333.9 259.2,337.3 259.4,340.2 259.6,342.2 259.8,343.2 260.0,342.9 260.2,341.4 260.4,338.9 260.6,335.7 260.8,332.3 261.0,329.0 261.2,326.3 261.4,324.6 261.6,324.0 261.7,324.6 261.9,326.4 262.1,329.1 262.3,332.4 262.5,335.8 262.7,339.0 262.9,341.4 263.1,342.9 263.3,343.2 263.5,342.2 263.7,340.2 263.9,337.3 264.1,334.0 264.3,330.6 264.4,327.6 264.6,325.3 264.8,324.2 265.0,324.2 265.2,325.3 265.4,327.6 265.6,330.6 265.8,333.9 266.0,337.3 266.2,340.1 266.4,342.2 266.6,343.1 266.8,342.9 267.0,341.5 267.1,339.2 267.3,336.1 267.5,332.7 267.7,329.5 267.9,326.7 268.1,324.8 268.3,324.0 268.5,324.4 268.7,325.9 268.9,328.4 269.1,331.5 269.3,334.9 269.5,338.1 269.6,340.7 269.8,342.5 270.0,343.2 270.2,342.7 270.4,341.1 270.6,338.6 270.8,335.5 271.0,332.1 271.2,329.0 271.4,326.4 271.6,324.6 271.8,324.0 272.0,324.5 272.2,326.2 272.3,328.7 272.5,331.8 272.7,335.1 272.9,338.3 273.1,340.9 273.3,342.6 273.5,343.2 273.7,342.7 273.9,341.1 274.1,338.6 274.3,335.5 274.5,332.2 274.7,329.1 274.9,326.5 275.0,324.7 275.2,324.0 275.4,324.4 275.6,326.0 275.8,328.4 276.0,331.4 276.2,334.7 276.4,337.9 276.6,340.5 276.8,342.4 277.0,343.2 277.2,342.9 277.4,341.5 277.6,339.2 277.7,336.2 277.9,332.9 278.1,329.8 278.3,327.0 278.5,325.1 278.7,324.1 278.9,324.2 279.1,325.4 279.3,327.6 279.5,330.4 279.7,333.6 279.9,336.9 280.1,339.7 280.3,341.8 280.4,343.0 280.6,343.1 280.8,342.1 281.0,340.2 281.2,337.5 281.4,334.3 281.6,331.1 281.8,328.1 282.0,325.8 282.2,324.4 282.4,324.0 282.6,324.7 282.8,326.4 283.0,329.0 283.1,332.0 283.3,335.3 283.5,338.3 283.7,340.8 283.9,342.5 284.1,343.2 284.3,342.8 284.5,341.4 284.7,339.1 284.9,336.1 285.1,332.9 285.3,329.8 285.5,327.1 285.7,325.1 285.8,324.1 286.0,324.2 286.2,325.3 286.4,327.3 286.6,330.1 286.8,333.2 287.0,336.4 287.2,339.3 287.4,341.5 287.6,342.9 287.8,343.2 288.0,342.4 288.2,340.7 288.4,338.1 288.5,335.1 288.7,331.9 288.9,328.9 289.1,326.4 289.3,324.7 289.5,324.0 289.7,324.4 289.9,325.8 290.1,328.1 290.3,331.0 290.5,334.2 290.7,337.3 290.9,340.0 291.1,342.0 291.2,343.1 291.4,343.1 291.6,342.0 291.8,340.0 292.0,337.3 292.2,334.2 292.4,331.0 292.6,328.1 292.8,325.8 293.0,324.4 293.2,324.0 293.4,324.7 293.6,326.4 293.7,328.9 293.9,331.9 294.1,335.1 294.3,338.2 294.5,340.7 294.7,342.4 294.9,343.2 295.1,342.9 295.3,341.5 295.5,339.2 295.7,336.3 295.9,333.2 296.1,330.0 296.3,327.3 296.4,325.2 296.6,324.1 296.8,324.1 297.0,325.2 297.2,327.2 297.4,329.9 297.6,333.1 297.8,336.3 298.0,339.2 298.2,341.5 298.4,342.8 298.6,343.2 298.8,342.4 299.0,340.7 299.1,338.1 299.3,335.0 299.5,331.8 299.7,328.7 299.9,326.3 300.1,324.6 300.3,324.0 300.5,324.5 300.7,326.0 300.9,328.4 301.1,331.4 301.3,334.7 301.5,337.8 301.7,340.5 301.8,342.3 302.0,343.2 302.2,342.9 302.4,341.6 302.6,339.3 302.8,336.4 303.0,333.1 303.2,329.9 303.4,327.2 303.6,325.1 303.8,324.1 304.0,324.2 304.2,325.4 304.4,327.5 304.5,330.4 304.7,333.6 304.9,336.9 305.1,339.7 305.3,341.9 305.5,343.0 305.7,343.1 305.9,342.0 306.1,340.0 306.3,337.1 306.5,333.9 306.7,330.6 306.9,327.7 307.1,325.5 307.2,324.2 307.4,324.1 307.6,325.1 307.8,327.1 308.0,329.9 308.2,333.2 308.4,336.5 308.6,339.4 308.8,341.7 309.0,343.0 309.2,343.1 309.4,342.1 309.6,340.1 309.8,337.2 309.9,334.0 310.1,330.6 310.3,327.7 310.5,325.4 310.7,324.2 310.9,324.1 311.1,325.2 311.3,327.3 311.5,330.2 311.7,333.5 311.9,336.8 312.1,339.7 312.3,341.9 312.5,343.0 312.6,342.8 312.8,341.4 313.0,339.1 313.2,336.3 313.4,333.4 313.6,330.9 313.8,329.1 314.0,328.3 314.2,328.3 314.4,329.0 314.6,330.3 314.8,331.6 315.0,332.9 315.2,333.8 315.3,334.3 315.5,334.4 315.7,334.3 315.9,334.0 316.1,333.8 316.3,333.6 316.5,333.6" fill="none" stroke="#1e1e1e" stroke-width="0.74" stroke-dasharray="2.8,1.0,3.6,1.2,2.3,0.9,3.1,1.3,4.0,1.1"/>
<polyline points="349.4,257.2 349.8,256.9 350.2,255.9 350.6,254.6 351.0,253.8 351.4,254.0 351.9,255.9 352.3,258.9 352.7,262.2 353.1,264.7 353.5,266.2 353.9,266.6 354.3,265.6 354.7,263.6 355.1,260.7 355.5,257.3 355.9,253.9 356.4,251.0 356.8,248.8 357.2,247.9 357.6,248.1 358.0,249.6 358.4,252.1 358.8,255.2 359.2,258.7 359.6,261.9 360.0,264.5 360.5,266.1 360.9,266.6 361.3,265.8 361.7,263.8 362.1,261.0 362.5,257.6 362.9,254.2 363.3,251.2 363.7,249.0 364.1,247.9 364.5,248.0 365.0,249.4 365.4,251.8 365.8,254.9 366.2,258.3 366.6,261.6 367.0,264.3 367.4,266.0 367.8,266.6 368.2,265.9 368.6,264.1 369.0,261.3 369.5,258.0 369.9,254.6 370.3,251.5 370.7,249.2 371.1,248.0 371.5,248.0 371.9,249.2 372.3,251.5 372.7,254.6 373.1,258.0 373.6,261.3 374.0,264.1 374.4,265.9 374.8,266.6 375.2,266.0 375.6,264.3 376.0,261.6 376.4,258.3 376.8,254.9 377.2,251.8 377.6,249.4 378.1,248.0 378.5,247.9 378.9,249.0 379.3,251.2 379.7,254.2 380.1,257.6 380.5,261.0 380.9,263.8 381.3,265.8 381.7,266.6 382.1,266.1 382.6,264.5 383.0,261.9 383.4,258.7 383.8,255.2 384.2,252.0 384.6,249.6 385.0,248.1 385.4,247.9 385.8,248.9 386.2,251.0 386.7,253.9 387.1,257.3 387.5,260.7 387.9,263.6 388.3,265.6 388.7,266.6 389.1,266.2 389.5,264.7 389.9,262.2 390.3,259.0 390.7,255.6 391.2,252.3 391.6,249.8 392.0,248.2 392.4,247.8 392.8,248.7 393.2,250.7 393.6,253.6 394.0,257.0 394.4,260.3 394.8,263.3 395.2,265.5 395.7,266.5 396.1,266.3 396.5,264.9 396.9,262.5 397.3,259.3 397.7,255.9 398.1,252.6 398.5,250.0 398.9,248.3 399.3,247.8 399.8,248.6 400.2,250.5 400.6,253.3 401.0,256.6 401.4,260.0 401.8,263.1 402.2,265.3 402.6,266.5 403.0,266.4 403.4,265.1 403.8,262.8 404.3,259.7 404.7,256.2 405.1,252.9 405.5,250.2 405.9,248.4 406.3,247.8 406.7,248.4 407.1,250.2 407.5,253.0 407.9,256.3 408.3,259.7 408.8,262.8 409.2,265.1 409.6,266.4 410.0,266.5 410.4,265.3 410.8,263.0 411.2,260.0 411.6,256.6 412.0,253.3 412.4,250.5 412.9,248.6 413.3,247.8 413.7,248.3 414.1,250.0 414.5,252.7 414.9,255.9 415.3,259.4 415.7,262.5 416.1,264.9 416.5,266.3 416.9,266.5 417.4,265.5 417.8,263.3 418.2,260.3 418.6,256.9 419.0,253.6 419.4,250.7 419.8,248.7 420.2,247.8 420.6,248.2 421.0,249.8 421.4,252.4 421.9,255.6 422.3,259.0 422.7,262.2 423.1,264.7 423.5,266.2 423.9,266.6 424.3,265.6 424.7,263.6 425.1,260.6 425.5,257.3 426.0,253.9 426.4,250.9 426.8,248.8 427.2,247.9 427.6,248.1 428.0,249.6 428.4,252.1 428.8,255.2 429.2,258.7 429.6,261.9 430.0,264.5 430.5,266.2 430.9,266.6 431.3,265.8 431.7,263.8 432.1,261.0 432.5,257.6 432.9,254.2 433.3,251.2 433.7,249.0 434.1,247.9 434.5,248.0 435.0,249.4 435.4,251.8 435.8,254.9 436.2,258.3 436.6,261.6 437.0,264.3 437.4,266.0 437.8,266.6 438.2,265.9 438.6,264.0 439.1,261.3 439.5,258.0 439.9,254.5 440.3,251.5 440.7,249.2 441.1,248.0 441.5,248.0 441.9,249.2 442.3,251.5 442.7,254.6 443.1,258.0 443.6,261.3 444.0,264.1 444.4,265.9 444.8,266.6 445.2,266.0 445.6,264.3 446.0,261.6 446.4,258.3 446.8,254.9 447.2,251.8 447.6,249.4 448.1,248.0 448.5,247.9 448.9,249.0 449.3,251.2 449.7,254.2 450.1,257.7 450.5,261.0 450.9,263.8 451.3,265.8 451.7,266.6 452.2,266.1 452.6,264.5 453.0,261.9 453.4,258.6 453.8,255.2 454.2,252.0 454.6,249.6 455.0,248.1 455.4,247.9 455.8,248.9 456.2,251.0 456.7,253.9 457.1,257.3 457.5,260.7 457.9,263.6 458.3,265.6 458.7,266.6 459.1,266.2 459.5,264.7 459.9,262.2 460.3,259.0 460.7,255.5 461.2,252.3 461.6,249.8 462.0,248.2 462.4,247.8 462.8,248.7 463.2,250.7 463.6,253.6 464.0,257.0 464.4,260.4 464.8,263.3 465.3,265.5 465.7,266.5 466.1,266.3 466.5,264.9 466.9,262.5 467.3,259.3 467.7,255.9 468.1,252.6 468.5,250.0 468.9,248.9 469.3,249.5 469.8,251.6 470.2,254.1 470.6,256.1 471.0,257.1 471.4,257.3 471.8,257.2" fill="none" stroke="#2a2a2a" stroke-width="0.72" stroke-dasharray="2.3,1.15"/>
<polyline points="349.4,282.8 349.8,282.7 350.2,282.8 350.6,283.9 351.0,286.0 351.4,288.5 351.9,290.5 352.3,290.8 352.7,289.2 353.1,286.1 353.5,282.5 353.9,278.9 354.3,276.0 354.7,274.0 355.1,273.4 355.5,274.2 355.9,276.3 356.4,279.4 356.8,283.1 357.2,286.6 357.6,289.6 358.0,291.6 358.4,292.2 358.8,291.4 359.2,289.3 359.6,286.2 360.0,282.6 360.5,279.0 360.9,276.0 361.3,274.0 361.7,273.4 362.1,274.2 362.5,276.3 362.9,279.4 363.3,283.0 363.7,286.5 364.1,289.6 364.5,291.5 365.0,292.2 365.4,291.4 365.8,289.4 366.2,286.3 366.6,282.7 367.0,279.1 367.4,276.1 367.8,274.1 368.2,273.4 368.6,274.2 369.0,276.2 369.5,279.3 369.9,282.9 370.3,286.5 370.7,289.5 371.1,291.5 371.5,292.2 371.9,291.5 372.3,289.4 372.7,286.4 373.1,282.8 373.6,279.2 374.0,276.1 374.4,274.1 374.8,273.4 375.2,274.1 375.6,276.1 376.0,279.2 376.4,282.8 376.8,286.4 377.2,289.4 377.6,291.5 378.1,292.2 378.5,291.5 378.9,289.5 379.3,286.5 379.7,282.9 380.1,279.3 380.5,276.2 380.9,274.1 381.3,273.4 381.7,274.1 382.1,276.1 382.6,279.1 383.0,282.7 383.4,286.3 383.8,289.4 384.2,291.4 384.6,292.2 385.0,291.5 385.4,289.5 385.8,286.5 386.2,283.0 386.7,279.4 387.1,276.3 387.5,274.2 387.9,273.4 388.3,274.0 388.7,276.0 389.1,279.0 389.5,282.6 389.9,286.2 390.3,289.3 390.7,291.4 391.2,292.2 391.6,291.6 392.0,289.6 392.4,286.6 392.8,283.0 393.2,279.4 393.6,276.3 394.0,274.2 394.4,273.4 394.8,274.0 395.2,276.0 395.7,278.9 396.1,282.5 396.5,286.1 396.9,289.2 397.3,291.4 397.7,292.2 398.1,291.6 398.5,289.7 398.9,286.7 399.3,283.1 399.8,279.5 400.2,276.4 400.6,274.3 401.0,273.4 401.4,274.0 401.8,275.9 402.2,278.9 402.6,282.4 403.0,286.0 403.4,289.2 403.8,291.3 404.3,292.2 404.7,291.6 405.1,289.7 405.5,286.8 405.9,283.2 406.3,279.6 406.7,276.5 407.1,274.3 407.5,273.4 407.9,274.0 408.3,275.8 408.8,278.8 409.2,282.3 409.6,285.9 410.0,289.1 410.4,291.3 410.8,292.2 411.2,291.7 411.6,289.8 412.0,286.9 412.4,283.3 412.9,279.7 413.3,276.5 413.7,274.3 414.1,273.4 414.5,273.9 414.9,275.8 415.3,278.7 415.7,282.2 416.1,285.9 416.5,289.0 416.9,291.2 417.4,292.2 417.8,291.7 418.2,289.9 418.6,286.9 419.0,283.4 419.4,279.8 419.8,276.6 420.2,274.4 420.6,273.4 421.0,273.9 421.4,275.7 421.9,278.6 422.3,282.1 422.7,285.8 423.1,289.0 423.5,291.2 423.9,292.2 424.3,291.7 424.7,289.9 425.1,287.0 425.5,283.5 426.0,279.9 426.4,276.7 426.8,274.4 427.2,273.4 427.6,273.9 428.0,275.7 428.4,278.5 428.8,282.1 429.2,285.7 429.6,288.9 430.0,291.2 430.5,292.2 430.9,291.8 431.3,290.0 431.7,287.1 432.1,283.6 432.5,280.0 432.9,276.7 433.3,274.5 433.7,273.4 434.1,273.8 434.5,275.6 435.0,278.4 435.4,282.0 435.8,285.6 436.2,288.8 436.6,291.1 437.0,292.2 437.4,291.8 437.8,290.0 438.2,287.2 438.6,283.7 439.1,280.0 439.5,276.8 439.9,274.5 440.3,273.4 440.7,273.8 441.1,275.5 441.5,278.4 441.9,281.9 442.3,285.5 442.7,288.7 443.1,291.1 443.6,292.2 444.0,291.8 444.4,290.1 444.8,287.3 445.2,283.8 445.6,280.1 446.0,276.9 446.4,274.5 446.8,273.5 447.2,273.8 447.6,275.5 448.1,278.3 448.5,281.8 448.9,285.4 449.3,288.7 449.7,291.0 450.1,292.1 450.5,291.8 450.9,290.2 451.3,287.4 451.7,283.9 452.2,280.2 452.6,277.0 453.0,274.6 453.4,273.5 453.8,273.8 454.2,275.4 454.6,278.2 455.0,281.7 455.4,285.3 455.8,288.6 456.2,291.0 456.7,292.1 457.1,291.9 457.5,290.2 457.9,287.4 458.3,284.0 458.7,280.3 459.1,277.0 459.5,274.6 459.9,273.5 460.3,273.7 460.7,275.4 461.2,278.1 461.6,281.6 462.0,285.2 462.4,288.5 462.8,290.9 463.2,292.1 463.6,291.9 464.0,290.3 464.4,287.5 464.8,284.0 465.3,280.4 465.7,277.1 466.1,274.7 466.5,273.5 466.9,273.7 467.3,275.3 467.7,278.0 468.1,281.5 468.5,285.1 468.9,288.1 469.3,289.4 469.8,288.9 470.2,287.0 470.6,284.9 471.0,283.4 471.4,282.8 471.8,282.8" fill="none" stroke="#2a2a2a" stroke-width="0.72" stroke-dasharray="2.3,1.15"/>
<polyline points="349.4,308.2 349.6,308.2 349.8,308.3 350.0,308.6 350.2,308.9 350.4,309.3 350.5,309.4 350.7,309.1 350.9,308.4 351.1,307.2 351.3,305.7 351.5,304.1 351.7,302.9 351.9,302.4 352.1,302.8 352.3,304.3 352.5,306.7 352.7,309.7 352.8,312.8 353.0,315.5 353.2,317.2 353.4,317.7 353.6,316.7 353.8,314.5 354.0,311.4 354.2,307.9 354.4,304.4 354.6,301.4 354.8,299.4 355.0,298.6 355.1,299.1 355.3,300.9 355.5,303.7 355.7,307.0 355.9,310.6 356.1,313.8 356.3,316.2 356.5,317.6 356.7,317.7 356.9,316.5 357.1,314.1 357.3,311.0 357.4,307.5 357.6,304.1 357.8,301.2 358.0,299.3 358.2,298.6 358.4,299.2 358.6,300.9 358.8,303.7 359.0,307.0 359.2,310.5 359.4,313.7 359.6,316.1 359.7,317.5 359.9,317.7 360.1,316.6 360.3,314.4 360.5,311.4 360.7,308.0 360.9,304.6 361.1,301.7 361.3,299.6 361.5,298.6 361.7,298.9 361.9,300.4 362.0,302.9 362.2,306.0 362.4,309.4 362.6,312.7 362.8,315.4 363.0,317.2 363.2,317.8 363.4,317.2 363.6,315.5 363.8,312.8 364.0,309.6 364.1,306.2 364.3,303.1 364.5,300.6 364.7,299.0 364.9,298.6 365.1,299.4 365.3,301.3 365.5,304.0 365.7,307.2 365.9,310.6 366.1,313.7 366.3,316.0 366.4,317.5 366.6,317.8 366.8,316.9 367.0,315.0 367.2,312.2 367.4,309.0 367.6,305.7 367.8,302.7 368.0,300.3 368.2,298.9 368.4,298.6 368.6,299.5 368.7,301.4 368.9,304.1 369.1,307.3 369.3,310.6 369.5,313.6 369.7,316.0 369.9,317.4 370.1,317.8 370.3,317.0 370.5,315.2 370.7,312.6 370.9,309.4 371.0,306.1 371.2,303.1 371.4,300.7 371.6,299.1 371.8,298.6 372.0,299.2 372.2,300.9 372.4,303.4 372.6,306.5 372.8,309.7 373.0,312.8 373.2,315.4 373.3,317.1 373.5,317.8 373.7,317.4 373.9,315.9 374.1,313.5 374.3,310.6 374.5,307.3 374.7,304.2 374.9,301.5 375.1,299.6 375.3,298.7 375.5,298.8 375.6,300.1 375.8,302.3 376.0,305.2 376.2,308.4 376.4,311.6 376.6,314.4 376.8,316.5 377.0,317.6 377.2,317.7 377.4,316.7 377.6,314.6 377.7,311.9 377.9,308.7 378.1,305.5 378.3,302.6 378.5,300.3 378.7,298.9 378.9,298.6 379.1,299.5 379.3,301.3 379.5,303.9 379.7,307.1 379.9,310.3 380.0,313.4 380.2,315.8 380.4,317.3 380.6,317.8 380.8,317.2 381.0,315.5 381.2,312.9 381.4,309.8 381.6,306.5 381.8,303.4 382.0,300.9 382.2,299.2 382.3,298.6 382.5,299.1 382.7,300.7 382.9,303.2 383.1,306.3 383.3,309.6 383.5,312.7 383.7,315.3 383.9,317.1 384.1,317.8 384.3,317.3 384.5,315.8 384.6,313.3 384.8,310.2 385.0,306.9 385.2,303.7 385.4,301.0 385.6,299.3 385.8,298.6 386.0,299.1 386.2,300.7 386.4,303.3 386.6,306.4 386.8,309.8 386.9,313.0 387.1,315.6 387.3,317.2 387.5,317.8 387.7,317.2 387.9,315.4 388.1,312.7 388.3,309.5 388.5,306.1 388.7,303.0 388.9,300.5 389.1,299.0 389.2,298.6 389.4,299.5 389.6,301.5 389.8,304.4 390.0,307.7 390.2,311.1 390.4,314.2 390.6,316.4 390.8,317.7 391.0,317.6 391.2,316.4 391.3,314.1 391.5,311.0 391.7,307.6 391.9,304.2 392.1,301.3 392.3,299.4 392.5,298.6 392.7,299.1 392.9,300.8 393.1,303.5 393.3,306.8 393.5,310.3 393.6,313.5 393.8,316.0 394.0,317.5 394.2,317.7 394.4,316.7 394.6,314.5 394.8,311.4 395.0,307.9 395.2,304.5 395.4,301.5 395.6,299.5 395.8,298.6 395.9,299.1 396.1,300.7 396.3,303.5 396.5,306.8 396.7,310.4 396.9,313.6 397.1,316.1 397.3,317.6 397.5,317.7 397.7,316.5 397.9,314.2 398.1,311.0 398.2,307.5 398.4,304.0 398.6,301.1 398.8,299.2 399.0,298.6 399.2,299.3 399.4,301.2 399.6,304.1 399.8,307.6 400.0,311.2 400.2,314.3 400.4,316.6 400.5,317.7 400.7,317.5 400.9,316.0 401.1,313.4 401.3,310.0 401.5,306.4 401.7,303.1 401.9,300.5 402.1,298.9 402.3,298.7 402.5,299.8 402.7,302.0 402.8,305.2 403.0,308.8 403.2,312.2 403.4,315.2 403.6,317.1 403.8,317.8 404.0,317.1 404.2,315.2 404.4,312.3 404.6,308.9 404.8,305.3 404.9,302.1 405.1,299.8 405.3,298.7 405.5,298.9 405.7,300.4 405.9,303.0 406.1,306.3 406.3,309.9 406.5,313.2 406.7,315.9 406.9,317.4 407.1,317.7 407.2,316.7 407.4,314.5 407.6,311.5 407.8,307.9 408.0,304.4 408.2,301.5 408.4,299.4 408.6,298.6 408.8,299.1 409.0,300.8 409.2,303.6 409.4,306.9 409.5,310.5 409.7,313.7 409.9,316.2 410.1,317.6 410.3,317.7 410.5,316.5 410.7,314.2 410.9,311.1 411.1,307.6 411.3,304.2 411.5,301.4 411.7,299.4 411.8,298.6 412.0,299.1 412.2,300.8 412.4,303.5 412.6,306.8 412.8,310.3 413.0,313.5 413.2,316.0 413.4,317.5 413.6,317.7 413.8,316.8 414.0,314.6 414.1,311.7 414.3,308.3 414.5,304.9 414.7,301.9 414.9,299.8 415.1,298.7 415.3,298.8 415.5,300.2 415.7,302.6 415.9,305.7 416.1,309.1 416.3,312.4 416.4,315.1 416.6,317.0 416.8,317.8 417.0,317.3 417.2,315.8 417.4,313.2 417.6,310.1 417.8,306.7 418.0,303.5 418.2,300.9 418.4,299.2 418.5,298.6 418.7,299.2 418.9,300.9 419.1,303.5 419.3,306.7 419.5,310.1 419.7,313.2 419.9,315.7 420.1,317.3 420.3,317.8 420.5,317.1 420.7,315.4 420.8,312.7 421.0,309.6 421.2,306.2 421.4,303.2 421.6,300.7 421.8,299.1 422.0,298.6 422.2,299.3 422.4,301.0 422.6,303.5 422.8,306.7 423.0,310.0 423.1,313.1 423.3,315.6 423.5,317.2 423.7,317.8 423.9,317.3 424.1,315.6 424.3,313.2 424.5,310.1 424.7,306.8 424.9,303.7 425.1,301.1 425.3,299.4 425.4,298.6 425.6,299.0 425.8,300.4 426.0,302.8 426.2,305.8 426.4,309.0 426.6,312.2 426.8,314.9 427.0,316.8 427.2,317.7 427.4,317.6 427.6,316.3 427.7,314.1 427.9,311.3 428.1,308.1 428.3,304.9 428.5,302.0 428.7,299.9 428.9,298.8 429.1,298.7 429.3,299.7 429.5,301.7 429.7,304.5 429.9,307.6 430.0,310.9 430.2,313.8 430.4,316.1 430.6,317.5 430.8,317.8 431.0,317.0 431.2,315.2 431.4,312.6 431.6,309.5 431.8,306.2 432.0,303.2 432.1,300.7 432.3,299.1 432.5,298.6 432.7,299.2 432.9,300.8 433.1,303.3 433.3,306.4 433.5,309.6 433.7,312.7 433.9,315.3 434.1,317.1 434.3,317.8 434.4,317.4 434.6,315.9 434.8,313.5 435.0,310.5 435.2,307.2 435.4,304.0 435.6,301.3 435.8,299.5 436.0,298.6 436.2,298.9 436.4,300.3 436.6,302.7 436.7,305.7 436.9,309.0 437.1,312.2 437.3,314.9 437.5,316.9 437.7,317.8 437.9,317.5 438.1,316.1 438.3,313.8 438.5,310.7 438.7,307.4 438.9,304.2 439.0,301.4 439.2,299.5 439.4,298.6 439.6,299.0 439.8,300.4 440.0,302.8 440.2,305.9 440.4,309.3 440.6,312.5 440.8,315.2 441.0,317.1 441.2,317.8 441.3,317.3 441.5,315.7 441.7,313.1 441.9,309.9 442.1,306.5 442.3,303.3 442.5,300.7 442.7,299.1 442.9,298.6 443.1,299.4 443.3,301.3 443.5,304.1 443.6,307.4 443.8,310.8 444.0,313.9 444.2,316.3 444.4,317.6 444.6,317.7 444.8,316.5 445.0,314.3 445.2,311.3 445.4,307.8 445.6,304.4 445.7,301.5 445.9,299.5 446.1,298.6 446.3,299.0 446.5,300.6 446.7,303.3 446.9,306.6 447.1,310.1 447.3,313.3 447.5,315.9 447.7,317.5 447.9,317.7 448.0,316.8 448.2,314.6 448.4,311.6 448.6,308.1 448.8,304.6 449.0,301.6 449.2,299.5 449.4,298.6 449.6,299.0 449.8,300.7 450.0,303.4 450.2,306.7 450.3,310.3 450.5,313.6 450.7,316.1 450.9,317.5 451.1,317.7 451.3,316.5 451.5,314.2 451.7,311.1 451.9,307.5 452.1,304.1 452.3,301.2 452.5,299.3 452.6,298.6 452.8,299.3 453.0,301.2 453.2,304.1 453.4,307.6 453.6,311.1 453.8,314.3 454.0,316.6 454.2,317.7 454.4,317.5 454.6,316.0 454.8,313.4 454.9,310.0 455.1,306.4 455.3,303.1 455.5,300.5 455.7,298.9 455.9,298.7 456.1,299.8 456.3,302.0 456.5,305.2 456.7,308.8 456.9,312.2 457.1,315.2 457.2,317.1 457.4,317.8 457.6,317.1 457.8,315.2 458.0,312.3 458.2,308.9 458.4,305.3 458.6,302.1 458.8,299.8 459.0,298.7 459.2,298.9 459.3,300.4 459.5,302.9 459.7,306.2 459.9,309.8 460.1,313.2 460.3,315.8 460.5,317.4 460.7,317.8 460.9,316.8 461.1,314.6 461.3,311.5 461.5,308.0 461.6,304.5 461.8,301.5 462.0,299.5 462.2,298.6 462.4,299.1 462.6,300.8 462.8,303.5 463.0,306.8 463.2,310.4 463.4,313.6 463.6,316.1 463.8,317.5 463.9,317.7 464.1,316.6 464.3,314.4 464.5,311.3 464.7,307.8 464.9,304.4 465.1,301.5 465.3,299.5 465.5,298.6 465.7,299.0 465.9,300.7 466.1,303.3 466.2,306.6 466.4,310.0 466.6,313.3 466.8,315.8 467.0,317.4 467.2,317.8 467.4,316.9 467.6,314.9 467.8,312.0 468.0,308.6 468.2,305.4 468.4,302.7 468.5,301.0 468.7,300.5 468.9,301.1 469.1,302.5 469.3,304.5 469.5,306.6 469.7,308.4 469.9,309.8 470.1,310.5 470.3,310.7 470.5,310.3 470.7,309.8 470.8,309.1 471.0,308.6 471.2,308.3 471.4,308.2 471.6,308.2 471.8,308.2" fill="none" stroke="#1e1e1e" stroke-width="0.74" stroke-dasharray="3.3,1.1,2.7,0.9,3.9,1.3,2.1,1.0,2.9,1.2"/>
<polyline points="349.4,333.6 349.6,333.6 349.8,333.7 350.0,333.8 350.2,333.7 350.4,333.4 350.5,332.8 350.7,332.0 350.9,331.0 351.1,330.2 351.3,329.9 351.5,330.1 351.7,331.1 351.9,332.8 352.1,335.0 352.3,337.5 352.5,339.8 352.7,341.5 352.8,342.3 353.0,341.9 353.2,340.3 353.4,337.8 353.6,334.6 353.8,331.2 354.0,328.2 354.2,325.8 354.4,324.3 354.6,324.0 354.8,324.9 355.0,326.8 355.1,329.5 355.3,332.8 355.5,336.1 355.7,339.1 355.9,341.5 356.1,342.9 356.3,343.2 356.5,342.3 356.7,340.4 356.9,337.7 357.1,334.5 357.3,331.2 357.4,328.1 357.6,325.8 357.8,324.4 358.0,324.0 358.2,324.8 358.4,326.7 358.6,329.4 358.8,332.5 359.0,335.8 359.2,338.9 359.4,341.3 359.6,342.8 359.7,343.2 359.9,342.5 360.1,340.7 360.3,338.1 360.5,335.0 360.7,331.7 360.9,328.7 361.1,326.2 361.3,324.6 361.5,324.0 361.7,324.5 361.9,326.1 362.0,328.6 362.2,331.6 362.4,334.9 362.6,338.0 362.8,340.6 363.0,342.4 363.2,343.2 363.4,342.8 363.6,341.4 363.8,339.1 364.0,336.2 364.1,333.0 364.3,329.8 364.5,327.1 364.7,325.1 364.9,324.1 365.1,324.2 365.3,325.3 365.5,327.4 365.7,330.2 365.9,333.4 366.1,336.6 366.3,339.5 366.4,341.7 366.6,342.9 366.8,343.2 367.0,342.3 367.2,340.4 367.4,337.8 367.6,334.7 367.8,331.5 368.0,328.5 368.2,326.1 368.4,324.5 368.6,324.0 368.7,324.5 368.9,326.1 369.1,328.5 369.3,331.5 369.5,334.7 369.7,337.8 369.9,340.4 370.1,342.3 370.3,343.1 370.5,343.0 370.7,341.7 370.9,339.6 371.0,336.8 371.2,333.6 371.4,330.5 371.6,327.6 371.8,325.5 372.0,324.2 372.2,324.1 372.4,324.9 372.6,326.8 372.8,329.4 373.0,332.4 373.2,335.7 373.3,338.6 373.5,341.0 373.7,342.6 373.9,343.2 374.1,342.7 374.3,341.2 374.5,338.8 374.7,335.9 374.9,332.7 375.1,329.6 375.3,326.9 375.5,325.0 375.6,324.1 375.8,324.2 376.0,325.4 376.2,327.4 376.4,330.2 376.6,333.4 376.8,336.6 377.0,339.4 377.2,341.6 377.4,342.9 377.6,343.2 377.7,342.4 377.9,340.6 378.1,338.0 378.3,334.9 378.5,331.7 378.7,328.7 378.9,326.2 379.1,324.6 379.3,324.0 379.5,324.5 379.7,326.0 379.9,328.3 380.0,331.3 380.2,334.5 380.4,337.6 380.6,340.3 380.8,342.2 381.0,343.1 381.2,343.0 381.4,341.8 381.6,339.7 381.8,336.8 382.0,333.7 382.2,330.5 382.3,327.6 382.5,325.5 382.7,324.2 382.9,324.1 383.1,325.0 383.3,326.9 383.5,329.6 383.7,332.7 383.9,336.0 384.1,338.9 384.3,341.3 384.5,342.8 384.6,343.2 384.8,342.5 385.0,340.8 385.2,338.3 385.4,335.2 385.6,331.9 385.8,328.8 386.0,326.3 386.2,324.6 386.4,324.0 386.6,324.5 386.8,326.0 386.9,328.5 387.1,331.5 387.3,334.8 387.5,337.9 387.7,340.6 387.9,342.4 388.1,343.2 388.3,342.8 388.5,341.4 388.7,339.1 388.9,336.1 389.1,332.8 389.2,329.6 389.4,326.9 389.6,325.0 389.8,324.1 390.0,324.3 390.2,325.6 390.4,327.9 390.6,330.9 390.8,334.2 391.0,337.4 391.2,340.2 391.3,342.2 391.5,343.1 391.7,342.9 391.9,341.6 392.1,339.3 392.3,336.3 392.5,333.0 392.7,329.8 392.9,327.0 393.1,325.0 393.3,324.1 393.5,324.3 393.6,325.6 393.8,328.0 394.0,331.0 394.2,334.3 394.4,337.6 394.6,340.3 394.8,342.3 395.0,343.2 395.2,342.9 395.4,341.4 395.6,339.0 395.8,335.9 395.9,332.6 396.1,329.3 396.3,326.6 396.5,324.8 396.7,324.0 396.9,324.4 397.1,326.0 397.3,328.5 397.5,331.7 397.7,335.1 397.9,338.3 398.1,340.9 398.2,342.6 398.4,343.2 398.6,342.6 398.8,340.8 399.0,338.1 399.2,334.9 399.4,331.5 399.6,328.3 399.8,325.9 400.0,324.4 400.2,324.0 400.4,324.9 400.5,326.9 400.7,329.7 400.9,333.1 401.1,336.5 401.3,339.5 401.5,341.8 401.7,343.0 401.9,343.1 402.1,341.9 402.3,339.7 402.5,336.7 402.7,333.3 402.8,329.9 403.0,327.0 403.2,325.0 403.4,324.0 403.6,324.3 403.8,325.8 404.0,328.3 404.2,331.5 404.4,334.9 404.6,338.2 404.8,340.9 404.9,342.6 405.1,343.2 405.3,342.5 405.5,340.7 405.7,338.0 405.9,334.7 406.1,331.3 406.3,328.1 406.5,325.7 406.7,324.3 406.9,324.1 407.1,325.1 407.2,327.2 407.4,330.2 407.6,333.6 407.8,337.0 408.0,340.0 408.2,342.1 408.4,343.1 408.6,342.9 408.8,341.5 409.0,339.1 409.2,335.9 409.4,332.5 409.5,329.2 409.7,326.4 409.9,324.6 410.1,324.0 410.3,324.6 410.5,326.4 410.7,329.1 410.9,332.4 411.1,335.9 411.3,339.0 411.5,341.5 411.7,342.9 411.8,343.1 412.0,342.1 412.2,340.0 412.4,337.0 412.6,333.6 412.8,330.2 413.0,327.3 413.2,325.1 413.4,324.1 413.6,324.3 413.8,325.7 414.0,328.1 414.1,331.2 414.3,334.7 414.5,338.0 414.7,340.7 414.9,342.5 415.1,343.2 415.3,342.6 415.5,340.9 415.7,338.2 415.9,335.0 416.1,331.5 416.3,328.3 416.4,325.9 416.6,324.4 416.8,324.0 417.0,325.0 417.2,327.0 417.4,329.8 417.6,333.2 417.8,336.6 418.0,339.6 418.2,341.9 418.4,343.1 418.5,343.0 418.7,341.8 418.9,339.6 419.1,336.5 419.3,333.2 419.5,329.8 419.7,327.0 419.9,325.0 420.1,324.0 420.3,324.3 420.5,325.8 420.7,328.2 420.8,331.4 421.0,334.8 421.2,338.0 421.4,340.7 421.6,342.5 421.8,343.2 422.0,342.7 422.2,341.0 422.4,338.4 422.6,335.3 422.8,331.9 423.0,328.7 423.1,326.1 423.3,324.5 423.5,324.0 423.7,324.7 423.9,326.5 424.1,329.2 424.3,332.4 424.5,335.8 424.7,338.9 424.9,341.3 425.1,342.8 425.3,343.2 425.4,342.4 425.6,340.5 425.8,337.8 426.0,334.5 426.2,331.2 426.4,328.1 426.6,325.8 426.8,324.3 427.0,324.0 427.2,324.9 427.4,326.8 427.6,329.5 427.7,332.8 427.9,336.1 428.1,339.1 428.3,341.5 428.5,342.9 428.7,343.2 428.9,342.3 429.1,340.4 429.3,337.7 429.5,334.5 429.7,331.2 429.9,328.2 430.0,325.8 430.2,324.4 430.4,324.0 430.6,324.8 430.8,326.6 431.0,329.3 431.2,332.5 431.4,335.8 431.6,338.8 431.8,341.2 432.0,342.7 432.1,343.2 432.3,342.5 432.5,340.8 432.7,338.2 432.9,335.1 433.1,331.9 433.3,328.8 433.5,326.3 433.7,324.6 433.9,324.0 434.1,324.5 434.3,326.1 434.4,328.5 434.6,331.5 434.8,334.8 435.0,337.9 435.2,340.5 435.4,342.3 435.6,343.2 435.8,342.9 436.0,341.5 436.2,339.3 436.4,336.4 436.6,333.2 436.7,330.0 436.9,327.2 437.1,325.2 437.3,324.1 437.5,324.1 437.7,325.2 437.9,327.3 438.1,330.0 438.3,333.2 438.5,336.4 438.7,339.3 438.9,341.5 439.0,342.9 439.2,343.2 439.4,342.4 439.6,340.6 439.8,338.0 440.0,335.0 440.2,331.7 440.4,328.7 440.6,326.3 440.8,324.6 441.0,324.0 441.2,324.5 441.3,325.9 441.5,328.3 441.7,331.2 441.9,334.4 442.1,337.5 442.3,340.2 442.5,342.1 442.7,343.1 442.9,343.0 443.1,341.9 443.3,339.8 443.5,337.0 443.6,333.9 443.8,330.7 444.0,327.8 444.2,325.6 444.4,324.3 444.6,324.0 444.8,324.8 445.0,326.6 445.2,329.1 445.4,332.2 445.6,335.4 445.7,338.4 445.9,340.9 446.1,342.5 446.3,343.2 446.5,342.8 446.7,341.4 446.9,339.1 447.1,336.2 447.3,333.0 447.5,329.8 447.7,327.1 447.9,325.2 448.0,324.1 448.2,324.1 448.4,325.2 448.6,327.2 448.8,330.0 449.0,333.1 449.2,336.3 449.4,339.2 449.6,341.5 449.8,342.8 450.0,343.2 450.2,342.5 450.3,340.7 450.5,338.2 450.7,335.2 450.9,332.0 451.1,328.9 451.3,326.4 451.5,324.7 451.7,324.0 451.9,324.4 452.1,325.8 452.3,328.1 452.5,331.0 452.6,334.2 452.8,337.4 453.0,340.1 453.2,342.1 453.4,343.1 453.6,343.0 453.8,341.9 454.0,339.8 454.2,337.0 454.4,333.9 454.6,330.7 454.8,327.8 454.9,325.6 455.1,324.3 455.3,324.0 455.5,324.9 455.7,326.8 455.9,329.4 456.1,332.5 456.3,335.8 456.5,338.8 456.7,341.2 456.9,342.7 457.1,343.2 457.2,342.6 457.4,340.9 457.6,338.4 457.8,335.3 458.0,332.0 458.2,328.9 458.4,326.4 458.6,324.7 458.8,324.0 459.0,324.4 459.2,326.0 459.3,328.4 459.5,331.4 459.7,334.7 459.9,337.8 460.1,340.5 460.3,342.3 460.5,343.2 460.7,342.9 460.9,341.5 461.1,339.1 461.3,336.2 461.5,332.9 461.6,329.7 461.8,326.9 462.0,325.0 462.2,324.1 462.4,324.3 462.6,325.6 462.8,327.9 463.0,330.9 463.2,334.2 463.4,337.4 463.6,340.2 463.8,342.2 463.9,343.1 464.1,342.9 464.3,341.6 464.5,339.3 464.7,336.3 464.9,333.0 465.1,329.8 465.3,327.0 465.5,325.0 465.7,324.1 465.9,324.3 466.1,325.7 466.2,328.0 466.4,331.0 466.6,334.4 466.8,337.6 467.0,340.4 467.2,342.3 467.4,343.2 467.6,342.8 467.8,341.3 468.0,338.8 468.2,335.7 468.4,332.6 468.5,329.8 468.7,327.9 468.9,326.9 469.1,327.0 469.3,327.9 469.5,329.4 469.7,331.2 469.9,332.9 470.1,334.2 470.3,335.0 470.5,335.3 470.7,335.1 470.8,334.7 471.0,334.3 471.2,333.9 471.4,333.7 471.6,333.6 471.8,333.6" fill="none" stroke="#1e1e1e" stroke-width="0.74" stroke-dasharray="2.8,1.0,3.6,1.2,2.3,0.9,3.1,1.3,4.0,1.1"/>
<polyline points="511.0,257.2 511.4,256.9 511.8,256.0 512.2,254.6 512.6,253.5 513.1,253.7 513.5,255.5 513.9,258.6 514.3,262.1 514.7,264.8 515.1,266.3 515.5,266.5 515.9,265.3 516.4,262.8 516.8,259.6 517.2,255.9 517.6,252.5 518.0,249.8 518.4,248.1 518.8,247.9 519.2,249.0 519.7,251.4 520.1,254.6 520.5,258.2 520.9,261.7 521.3,264.5 521.7,266.2 522.1,266.6 522.5,265.5 522.9,263.2 523.4,260.1 523.8,256.4 524.2,252.9 524.6,250.1 525.0,248.3 525.4,247.8 525.8,248.8 526.2,251.0 526.7,254.1 527.1,257.7 527.5,261.2 527.9,264.2 528.3,266.0 528.7,266.6 529.1,265.7 529.5,263.6 530.0,260.5 530.4,256.9 530.8,253.4 531.2,250.4 531.6,248.5 532.0,247.8 532.4,248.6 532.8,250.6 533.3,253.6 533.7,257.2 534.1,260.8 534.5,263.8 534.9,265.8 535.3,266.6 535.7,265.9 536.1,264.0 536.5,261.0 537.0,257.5 537.4,253.9 537.8,250.8 538.2,248.7 538.6,247.8 539.0,248.4 539.4,250.2 539.8,253.2 540.3,256.7 540.7,260.3 541.1,263.4 541.5,265.6 541.9,266.6 542.3,266.1 542.7,264.3 543.1,261.5 543.6,258.0 544.0,254.4 544.4,251.2 544.8,248.9 545.2,247.8 545.6,248.2 546.0,249.9 546.4,252.7 546.8,256.2 547.3,259.8 547.7,263.0 548.1,265.4 548.5,266.5 548.9,266.3 549.3,264.6 549.7,261.9 550.1,258.5 550.6,254.8 551.0,251.6 551.4,249.1 551.8,247.9 552.2,248.1 552.6,249.6 553.0,252.3 553.4,255.7 553.9,259.3 554.3,262.6 554.7,265.1 555.1,266.5 555.5,266.4 555.9,264.9 556.3,262.3 556.7,259.0 557.1,255.3 557.6,252.0 558.0,249.4 558.4,248.0 558.8,248.0 559.2,249.3 559.6,251.8 560.0,255.2 560.4,258.8 560.9,262.2 561.3,264.9 561.7,266.4 562.1,266.5 562.5,265.2 562.9,262.8 563.3,259.5 563.7,255.8 564.2,252.4 564.6,249.7 565.0,248.1 565.4,247.9 565.8,249.0 566.2,251.4 566.6,254.7 567.0,258.3 567.4,261.8 567.9,264.5 568.3,266.2 568.7,266.5 569.1,265.5 569.5,263.2 569.9,260.0 570.3,256.3 570.7,252.9 571.2,250.0 571.6,248.3 572.0,247.8 572.4,248.8 572.8,251.0 573.2,254.2 573.6,257.8 574.0,261.3 574.5,264.2 574.9,266.1 575.3,266.6 575.7,265.7 576.1,263.6 576.5,260.4 576.9,256.9 577.3,253.3 577.8,250.4 578.2,248.4 578.6,247.8 579.0,248.6 579.4,250.7 579.8,253.7 580.2,257.3 580.6,260.9 581.0,263.9 581.5,265.9 581.9,266.6 582.3,265.9 582.7,263.9 583.1,260.9 583.5,257.4 583.9,253.8 584.3,250.7 584.8,248.6 585.2,247.8 585.6,248.4 586.0,250.3 586.4,253.2 586.8,256.8 587.2,260.4 587.6,263.5 588.1,265.7 588.5,266.6 588.9,266.1 589.3,264.3 589.7,261.4 590.1,257.9 590.5,254.3 590.9,251.1 591.3,248.8 591.8,247.8 592.2,248.2 592.6,250.0 593.0,252.8 593.4,256.3 593.8,259.9 594.2,263.1 594.6,265.4 595.1,266.5 595.5,266.2 595.9,264.6 596.3,261.8 596.7,258.4 597.1,254.8 597.5,251.5 597.9,249.1 598.4,247.9 598.8,248.1 599.2,249.7 599.6,252.3 600.0,255.8 600.4,259.4 600.8,262.7 601.2,265.2 601.6,266.5 602.1,266.4 602.5,264.9 602.9,262.3 603.3,258.9 603.7,255.2 604.1,251.9 604.5,249.4 604.9,248.0 605.4,248.0 605.8,249.4 606.2,251.9 606.6,255.3 607.0,258.9 607.4,262.3 607.8,264.9 608.2,266.4 608.7,266.5 609.1,265.2 609.5,262.7 609.9,259.4 610.3,255.7 610.7,252.3 611.1,249.6 611.5,248.1 611.9,247.9 612.4,249.1 612.8,251.5 613.2,254.8 613.6,258.4 614.0,261.8 614.4,264.6 614.8,266.2 615.2,266.5 615.7,265.4 616.1,263.1 616.5,259.9 616.9,256.3 617.3,252.8 617.7,250.0 618.1,248.2 618.5,247.8 619.0,248.8 619.4,251.1 619.8,254.3 620.2,257.9 620.6,261.4 621.0,264.3 621.4,266.1 621.8,266.6 622.3,265.7 622.7,263.5 623.1,260.4 623.5,256.8 623.9,253.2 624.3,250.3 624.7,248.4 625.1,247.8 625.5,248.6 626.0,250.7 626.4,253.8 626.8,257.4 627.2,260.9 627.6,263.9 628.0,265.9 628.4,266.6 628.8,265.9 629.3,263.9 629.7,260.8 630.1,257.3 630.5,253.7 630.9,250.7 631.3,249.1 631.7,249.5 632.1,251.5 632.6,254.0 633.0,256.1 633.4,257.2 633.8,257.3 634.2,257.2" fill="none" stroke="#2a2a2a" stroke-width="0.72" stroke-dasharray="2.3,1.15"/>
<polyline points="511.0,282.8 511.4,282.6 511.8,282.6 512.2,283.3 512.6,285.1 513.1,287.7 513.5,290.2 513.9,291.6 514.3,291.2 514.7,289.2 515.1,286.3 515.5,282.9 515.9,279.5 516.4,276.6 516.8,274.4 517.2,273.5 517.6,273.7 518.0,275.2 518.4,277.7 518.8,280.9 519.2,284.4 519.7,287.6 520.1,290.2 520.5,291.8 520.9,292.2 521.3,291.3 521.7,289.3 522.1,286.4 522.5,283.0 522.9,279.6 523.4,276.7 523.8,274.5 524.2,273.5 524.6,273.7 525.0,275.1 525.4,277.6 525.8,280.8 526.2,284.2 526.7,287.5 527.1,290.1 527.5,291.7 527.9,292.2 528.3,291.4 528.7,289.4 529.1,286.5 529.5,283.2 530.0,279.8 530.4,276.8 530.8,274.6 531.2,273.5 531.6,273.7 532.0,275.1 532.4,277.5 532.8,280.7 533.3,284.1 533.7,287.4 534.1,290.0 534.5,291.7 534.9,292.2 535.3,291.4 535.7,289.5 536.1,286.6 536.5,283.3 537.0,279.9 537.4,276.9 537.8,274.6 538.2,273.5 538.6,273.6 539.0,275.0 539.4,277.4 539.8,280.5 540.3,284.0 540.7,287.3 541.1,289.9 541.5,291.7 541.9,292.2 542.3,291.5 542.7,289.6 543.1,286.8 543.6,283.4 544.0,280.0 544.4,277.0 544.8,274.7 545.2,273.5 545.6,273.6 546.0,274.9 546.4,277.3 546.8,280.4 547.3,283.8 547.7,287.1 548.1,289.9 548.5,291.6 548.9,292.2 549.3,291.5 549.7,289.7 550.1,286.9 550.6,283.5 551.0,280.1 551.4,277.1 551.8,274.8 552.2,273.5 552.6,273.6 553.0,274.8 553.4,277.2 553.9,280.3 554.3,283.7 554.7,287.0 555.1,289.8 555.5,291.6 555.9,292.2 556.3,291.6 556.7,289.7 557.1,287.0 557.6,283.7 558.0,280.2 558.4,277.2 558.8,274.8 559.2,273.6 559.6,273.6 560.0,274.8 560.4,277.1 560.9,280.2 561.3,283.6 561.7,286.9 562.1,289.7 562.5,291.5 562.9,292.2 563.3,291.6 563.7,289.8 564.2,287.1 564.6,283.8 565.0,280.4 565.4,277.3 565.8,274.9 566.2,273.6 566.6,273.5 567.0,274.7 567.4,277.0 567.9,280.0 568.3,283.5 568.7,286.8 569.1,289.6 569.5,291.5 569.9,292.2 570.3,291.7 570.7,289.9 571.2,287.2 571.6,283.9 572.0,280.5 572.4,277.4 572.8,275.0 573.2,273.6 573.6,273.5 574.0,274.6 574.5,276.9 574.9,279.9 575.3,283.3 575.7,286.7 576.1,289.5 576.5,291.4 576.9,292.2 577.3,291.7 577.8,290.0 578.2,287.3 578.6,284.1 579.0,280.6 579.4,277.5 579.8,275.0 580.2,273.6 580.6,273.5 581.0,274.6 581.5,276.8 581.9,279.8 582.3,283.2 582.7,286.6 583.1,289.4 583.5,291.4 583.9,292.2 584.3,291.7 584.8,290.1 585.2,287.4 585.6,284.2 586.0,280.7 586.4,277.6 586.8,275.1 587.2,273.7 587.6,273.5 588.1,274.5 588.5,276.7 588.9,279.7 589.3,283.1 589.7,286.4 590.1,289.3 590.5,291.3 590.9,292.2 591.3,291.8 591.8,290.2 592.2,287.6 592.6,284.3 593.0,280.9 593.4,277.7 593.8,275.2 594.2,273.7 594.6,273.5 595.1,274.5 595.5,276.6 595.9,279.5 596.3,282.9 596.7,286.3 597.1,289.2 597.5,291.3 597.9,292.2 598.4,291.8 598.8,290.2 599.2,287.7 599.6,284.4 600.0,281.0 600.4,277.8 600.8,275.3 601.2,273.7 601.6,273.4 602.1,274.4 602.5,276.5 602.9,279.4 603.3,282.8 603.7,286.2 604.1,289.1 604.5,291.2 604.9,292.2 605.4,291.8 605.8,290.3 606.2,287.8 606.6,284.6 607.0,281.1 607.4,277.9 607.8,275.3 608.2,273.8 608.7,273.4 609.1,274.3 609.5,276.4 609.9,279.3 610.3,282.7 610.7,286.1 611.1,289.0 611.5,291.2 611.9,292.1 612.4,291.9 612.8,290.4 613.2,287.9 613.6,284.7 614.0,281.3 614.4,278.0 614.8,275.4 615.2,273.8 615.7,273.4 616.1,274.3 616.5,276.3 616.9,279.2 617.3,282.6 617.7,286.0 618.1,288.9 618.5,291.1 619.0,292.1 619.4,291.9 619.8,290.5 620.2,288.0 620.6,284.8 621.0,281.4 621.4,278.1 621.8,275.5 622.3,273.9 622.7,273.4 623.1,274.2 623.5,276.2 623.9,279.1 624.3,282.4 624.7,285.8 625.1,288.8 625.5,291.0 626.0,292.1 626.4,291.9 626.8,290.5 627.2,288.1 627.6,284.9 628.0,281.5 628.4,278.2 628.8,275.6 629.3,273.9 629.7,273.4 630.1,274.2 630.5,276.1 630.9,279.0 631.3,282.3 631.7,285.2 632.1,286.7 632.6,286.6 633.0,285.4 633.4,284.0 633.8,283.1 634.2,282.8" fill="none" stroke="#2a2a2a" stroke-width="0.72" stroke-dasharray="2.3,1.15"/>
<polyline points="511.0,308.2 511.2,308.2 511.4,308.4 511.6,308.6 511.8,308.8 512.0,308.7 512.2,308.4 512.3,307.7 512.5,306.6 512.7,305.4 512.9,304.3 513.1,303.6 513.3,303.7 513.5,304.7 513.7,306.5 513.9,309.1 514.1,311.9 514.3,314.6 514.5,316.5 514.7,317.3 514.9,316.7 515.0,314.8 515.2,311.8 515.4,308.3 515.6,304.8 515.8,301.8 516.0,299.6 516.2,298.6 516.4,299.0 516.6,300.6 516.8,303.3 517.0,306.6 517.2,310.2 517.4,313.5 517.6,316.0 517.7,317.5 517.9,317.7 518.1,316.7 518.3,314.4 518.5,311.4 518.7,307.9 518.9,304.4 519.1,301.5 519.3,299.5 519.5,298.6 519.7,299.1 519.9,300.7 520.1,303.4 520.3,306.7 520.4,310.2 520.6,313.4 520.8,316.0 521.0,317.5 521.2,317.7 521.4,316.8 521.6,314.6 521.8,311.7 522.0,308.3 522.2,304.8 522.4,301.9 522.6,299.7 522.8,298.7 523.0,298.9 523.1,300.3 523.3,302.7 523.5,305.8 523.7,309.3 523.9,312.6 524.1,315.3 524.3,317.1 524.5,317.8 524.7,317.3 524.9,315.6 525.1,313.0 525.3,309.7 525.5,306.3 525.7,303.2 525.8,300.6 526.0,299.1 526.2,298.6 526.4,299.4 526.6,301.2 526.8,303.9 527.0,307.2 527.2,310.5 527.4,313.6 527.6,316.0 527.8,317.5 528.0,317.8 528.2,316.9 528.4,315.0 528.5,312.2 528.7,309.0 528.9,305.7 529.1,302.6 529.3,300.3 529.5,298.9 529.7,298.6 529.9,299.5 530.1,301.4 530.3,304.2 530.5,307.4 530.7,310.7 530.9,313.7 531.1,316.0 531.2,317.4 531.4,317.8 531.6,317.0 531.8,315.1 532.0,312.5 532.2,309.3 532.4,306.0 532.6,303.0 532.8,300.6 533.0,299.1 533.2,298.6 533.4,299.3 533.6,301.0 533.8,303.5 533.9,306.6 534.1,309.9 534.3,313.0 534.5,315.5 534.7,317.2 534.9,317.8 535.1,317.3 535.3,315.8 535.5,313.4 535.7,310.4 535.9,307.1 536.1,304.0 536.3,301.4 536.4,299.5 536.6,298.6 536.8,298.9 537.0,300.2 537.2,302.4 537.4,305.3 537.6,308.6 537.8,311.7 538.0,314.5 538.2,316.6 538.4,317.7 538.6,317.7 538.8,316.6 539.0,314.5 539.1,311.7 539.3,308.5 539.5,305.3 539.7,302.4 539.9,300.2 540.1,298.9 540.3,298.6 540.5,299.5 540.7,301.4 540.9,304.1 541.1,307.2 541.3,310.5 541.5,313.5 541.7,315.9 541.8,317.4 542.0,317.8 542.2,317.1 542.4,315.4 542.6,312.8 542.8,309.7 543.0,306.4 543.2,303.4 543.4,300.8 543.6,299.2 543.8,298.6 544.0,299.1 544.2,300.8 544.4,303.3 544.5,306.3 544.7,309.6 544.9,312.8 545.1,315.4 545.3,317.1 545.5,317.8 545.7,317.3 545.9,315.8 546.1,313.3 546.3,310.2 546.5,306.9 546.7,303.7 546.9,301.0 547.1,299.3 547.2,298.6 547.4,299.1 547.6,300.7 547.8,303.2 548.0,306.4 548.2,309.7 548.4,312.9 548.6,315.5 548.8,317.2 549.0,317.8 549.2,317.2 549.4,315.5 549.6,312.8 549.8,309.6 549.9,306.2 550.1,303.1 550.3,300.6 550.5,299.0 550.7,298.6 550.9,299.4 551.1,301.4 551.3,304.2 551.5,307.5 551.7,310.9 551.9,314.0 552.1,316.3 552.3,317.6 552.5,317.7 552.6,316.5 552.8,314.3 553.0,311.2 553.2,307.8 553.4,304.4 553.6,301.5 553.8,299.5 554.0,298.6 554.2,299.0 554.4,300.6 554.6,303.2 554.8,306.5 555.0,310.0 555.2,313.2 555.3,315.8 555.5,317.4 555.7,317.8 555.9,316.8 556.1,314.8 556.3,311.8 556.5,308.3 556.7,304.9 556.9,301.8 557.1,299.7 557.3,298.7 557.5,298.9 557.7,300.5 557.9,303.1 558.0,306.4 558.2,309.9 558.4,313.3 558.6,315.9 558.8,317.5 559.0,317.7 559.2,316.7 559.4,314.5 559.6,311.5 559.8,307.9 560.0,304.4 560.2,301.5 560.4,299.4 560.5,298.6 560.7,299.1 560.9,300.9 561.1,303.7 561.3,307.1 561.5,310.7 561.7,313.9 561.9,316.3 562.1,317.6 562.3,317.6 562.5,316.3 562.7,313.8 562.9,310.5 563.1,306.9 563.2,303.5 563.4,300.8 563.6,299.1 563.8,298.6 564.0,299.5 564.2,301.7 564.4,304.7 564.6,308.2 564.8,311.8 565.0,314.8 565.2,316.9 565.4,317.8 565.6,317.3 565.8,315.6 565.9,312.8 566.1,309.4 566.3,305.8 566.5,302.5 566.7,300.1 566.9,298.8 567.1,298.8 567.3,300.1 567.5,302.6 567.7,305.8 567.9,309.4 568.1,312.8 568.3,315.6 568.5,317.3 568.6,317.8 568.8,316.9 569.0,314.9 569.2,311.9 569.4,308.4 569.6,304.9 569.8,301.8 570.0,299.6 570.2,298.6 570.4,299.0 570.6,300.6 570.8,303.2 571.0,306.5 571.2,310.1 571.3,313.4 571.5,315.9 571.7,317.5 571.9,317.7 572.1,316.7 572.3,314.5 572.5,311.5 572.7,308.0 572.9,304.6 573.1,301.6 573.3,299.5 573.5,298.6 573.7,299.0 573.9,300.6 574.0,303.2 574.2,306.5 574.4,310.0 574.6,313.3 574.8,315.8 575.0,317.4 575.2,317.8 575.4,316.9 575.6,314.8 575.8,311.9 576.0,308.5 576.2,305.1 576.4,302.1 576.6,299.9 576.7,298.7 576.9,298.8 577.1,300.1 577.3,302.4 577.5,305.5 577.7,308.9 577.9,312.2 578.1,315.0 578.3,317.0 578.5,317.8 578.7,317.4 578.9,315.8 579.1,313.3 579.3,310.2 579.4,306.8 579.6,303.6 579.8,300.9 580.0,299.2 580.2,298.6 580.4,299.2 580.6,300.9 580.8,303.5 581.0,306.7 581.2,310.1 581.4,313.2 581.6,315.7 581.8,317.3 582.0,317.8 582.1,317.1 582.3,315.4 582.5,312.7 582.7,309.6 582.9,306.2 583.1,303.1 583.3,300.7 583.5,299.1 583.7,298.6 583.9,299.3 584.1,301.0 584.3,303.6 584.5,306.7 584.7,310.0 584.8,313.1 585.0,315.6 585.2,317.2 585.4,317.8 585.6,317.2 585.8,315.6 586.0,313.1 586.2,310.0 586.4,306.7 586.6,303.6 586.8,301.0 587.0,299.3 587.2,298.6 587.3,299.0 587.5,300.5 587.7,302.9 587.9,305.9 588.1,309.2 588.3,312.3 588.5,315.0 588.7,316.9 588.9,317.7 589.1,317.5 589.3,316.2 589.5,314.0 589.7,311.1 589.9,307.9 590.0,304.7 590.2,301.9 590.4,299.8 590.6,298.7 590.8,298.7 591.0,299.8 591.2,301.8 591.4,304.6 591.6,307.8 591.8,311.0 592.0,313.9 592.2,316.2 592.4,317.5 592.6,317.8 592.7,316.9 592.9,315.1 593.1,312.4 593.3,309.3 593.5,306.0 593.7,303.0 593.9,300.6 594.1,299.1 594.3,298.6 594.5,299.2 594.7,300.9 594.9,303.4 595.1,306.5 595.3,309.8 595.4,312.9 595.6,315.4 595.8,317.1 596.0,317.8 596.2,317.3 596.4,315.8 596.6,313.4 596.8,310.4 597.0,307.1 597.2,303.9 597.4,301.3 597.6,299.4 597.8,298.6 598.0,298.9 598.1,300.4 598.3,302.7 598.5,305.7 598.7,309.0 598.9,312.2 599.1,315.0 599.3,316.9 599.5,317.8 599.7,317.5 599.9,316.1 600.1,313.8 600.3,310.7 600.5,307.4 600.7,304.2 600.8,301.4 601.0,299.5 601.2,298.6 601.4,298.9 601.6,300.4 601.8,302.8 602.0,305.9 602.2,309.2 602.4,312.5 602.6,315.2 602.8,317.0 603.0,317.8 603.2,317.3 603.4,315.8 603.5,313.2 603.7,310.0 603.9,306.6 604.1,303.4 604.3,300.8 604.5,299.1 604.7,298.6 604.9,299.3 605.1,301.1 605.3,303.9 605.5,307.2 605.7,310.6 605.9,313.7 606.1,316.1 606.2,317.5 606.4,317.7 606.6,316.7 606.8,314.5 607.0,311.5 607.2,308.1 607.4,304.7 607.6,301.7 607.8,299.6 608.0,298.6 608.2,298.9 608.4,300.5 608.6,303.0 608.8,306.2 608.9,309.7 609.1,313.0 609.3,315.7 609.5,317.4 609.7,317.8 609.9,316.9 610.1,314.9 610.3,311.9 610.5,308.5 610.7,305.0 610.9,301.9 611.1,299.7 611.3,298.7 611.4,298.9 611.6,300.4 611.8,303.0 612.0,306.3 612.2,309.9 612.4,313.2 612.6,315.8 612.8,317.4 613.0,317.8 613.2,316.8 613.4,314.6 613.6,311.5 613.8,308.0 614.0,304.5 614.1,301.5 614.3,299.4 614.5,298.6 614.7,299.1 614.9,300.9 615.1,303.7 615.3,307.1 615.5,310.7 615.7,313.9 615.9,316.3 616.1,317.6 616.3,317.6 616.5,316.3 616.7,313.8 616.8,310.5 617.0,307.0 617.2,303.5 617.4,300.8 617.6,299.1 617.8,298.6 618.0,299.5 618.2,301.7 618.4,304.7 618.6,308.2 618.8,311.8 619.0,314.8 619.2,316.9 619.4,317.8 619.5,317.3 619.7,315.6 619.9,312.8 620.1,309.4 620.3,305.8 620.5,302.5 620.7,300.1 620.9,298.8 621.1,298.8 621.3,300.1 621.5,302.5 621.7,305.8 621.9,309.3 622.1,312.8 622.2,315.5 622.4,317.3 622.6,317.8 622.8,317.0 623.0,314.9 623.2,311.9 623.4,308.5 623.6,304.9 623.8,301.9 624.0,299.7 624.2,298.7 624.4,298.9 624.6,300.5 624.8,303.1 624.9,306.4 625.1,310.0 625.3,313.3 625.5,315.9 625.7,317.4 625.9,317.8 626.1,316.8 626.3,314.6 626.5,311.6 626.7,308.2 626.9,304.7 627.1,301.7 627.3,299.6 627.5,298.6 627.6,298.9 627.8,300.5 628.0,303.0 628.2,306.3 628.4,309.8 628.6,313.0 628.8,315.7 629.0,317.3 629.2,317.8 629.4,317.0 629.6,315.0 629.8,312.2 630.0,308.8 630.2,305.4 630.3,302.5 630.5,300.5 630.7,299.6 630.9,300.0 631.1,301.5 631.3,303.6 631.5,306.1 631.7,308.4 631.9,310.2 632.1,311.4 632.3,311.8 632.5,311.5 632.7,310.8 632.9,310.0 633.0,309.1 633.2,308.5 633.4,308.1 633.6,308.0 633.8,308.1 634.0,308.2 634.2,308.2" fill="none" stroke="#1e1e1e" stroke-width="0.74" stroke-dasharray="3.3,1.1,2.7,0.9,3.9,1.3,2.1,1.0,2.9,1.2"/>
<polyline points="511.0,333.6 511.2,333.6 511.4,333.6 511.6,333.5 511.8,333.2 512.0,332.7 512.2,332.1 512.3,331.5 512.5,331.1 512.7,331.1 512.9,331.7 513.1,332.9 513.3,334.7 513.5,336.8 513.7,338.9 513.9,340.5 514.1,341.4 514.3,341.2 514.5,339.9 514.7,337.6 514.9,334.6 515.0,331.3 515.2,328.2 515.4,325.8 515.6,324.4 515.8,324.0 516.0,324.9 516.2,326.8 516.4,329.5 516.6,332.8 516.8,336.1 517.0,339.1 517.2,341.5 517.4,342.9 517.6,343.2 517.7,342.3 517.9,340.4 518.1,337.6 518.3,334.4 518.5,331.1 518.7,328.1 518.9,325.8 519.1,324.3 519.3,324.0 519.5,324.9 519.7,326.7 519.9,329.4 520.1,332.6 520.3,335.9 520.4,338.9 520.6,341.3 520.8,342.8 521.0,343.2 521.2,342.4 521.4,340.7 521.6,338.1 521.8,334.9 522.0,331.6 522.2,328.6 522.4,326.1 522.6,324.5 522.8,324.0 523.0,324.6 523.1,326.2 523.3,328.7 523.5,331.8 523.7,335.1 523.9,338.2 524.1,340.7 524.3,342.5 524.5,343.2 524.7,342.8 524.9,341.3 525.1,339.0 525.3,336.0 525.5,332.8 525.7,329.6 525.8,326.9 526.0,325.0 526.2,324.1 526.4,324.2 526.6,325.4 526.8,327.6 527.0,330.4 527.2,333.6 527.4,336.8 527.6,339.6 527.8,341.8 528.0,343.0 528.2,343.1 528.4,342.2 528.5,340.3 528.7,337.6 528.9,334.5 529.1,331.3 529.3,328.3 529.5,326.0 529.7,324.5 529.9,324.0 530.1,324.6 530.3,326.3 530.5,328.7 530.7,331.7 530.9,334.9 531.1,338.0 531.2,340.6 531.4,342.4 531.6,343.2 531.8,342.9 532.0,341.6 532.2,339.4 532.4,336.5 532.6,333.4 532.8,330.2 533.0,327.4 533.2,325.3 533.4,324.2 533.6,324.1 533.8,325.0 533.9,327.0 534.1,329.6 534.3,332.7 534.5,335.9 534.7,338.9 534.9,341.2 535.1,342.7 535.3,343.2 535.5,342.6 535.7,341.0 535.9,338.6 536.1,335.6 536.3,332.4 536.4,329.3 536.6,326.7 536.8,324.9 537.0,324.1 537.2,324.3 537.4,325.5 537.6,327.7 537.8,330.5 538.0,333.6 538.2,336.8 538.4,339.6 538.6,341.7 538.8,343.0 539.0,343.1 539.1,342.2 539.3,340.4 539.5,337.8 539.7,334.7 539.9,331.5 540.1,328.5 540.3,326.1 540.5,324.5 540.7,324.0 540.9,324.5 541.1,326.1 541.3,328.5 541.5,331.5 541.7,334.7 541.8,337.8 542.0,340.4 542.2,342.3 542.4,343.1 542.6,342.9 542.8,341.7 543.0,339.5 543.2,336.6 543.4,333.4 543.6,330.3 543.8,327.5 544.0,325.4 544.2,324.2 544.4,324.1 544.5,325.1 544.7,327.0 544.9,329.8 545.1,332.9 545.3,336.1 545.5,339.1 545.7,341.4 545.9,342.8 546.1,343.2 546.3,342.4 546.5,340.7 546.7,338.1 546.9,335.0 547.1,331.7 547.2,328.7 547.4,326.2 547.6,324.6 547.8,324.0 548.0,324.5 548.2,326.1 548.4,328.6 548.6,331.6 548.8,334.9 549.0,338.0 549.2,340.6 549.4,342.4 549.6,343.2 549.8,342.8 549.9,341.4 550.1,339.0 550.3,336.0 550.5,332.7 550.7,329.5 550.9,326.8 551.1,324.9 551.3,324.0 551.5,324.3 551.7,325.7 551.9,328.0 552.1,331.0 552.3,334.2 552.5,337.5 552.6,340.2 552.8,342.2 553.0,343.1 553.2,342.9 553.4,341.6 553.6,339.3 553.8,336.3 554.0,333.0 554.2,329.8 554.4,327.0 554.6,325.0 554.8,324.1 555.0,324.3 555.2,325.6 555.3,327.9 555.5,330.9 555.7,334.3 555.9,337.5 556.1,340.3 556.3,342.3 556.5,343.2 556.7,342.9 556.9,341.5 557.1,339.1 557.3,336.0 557.5,332.6 557.7,329.4 557.9,326.7 558.0,324.8 558.2,324.0 558.4,324.4 558.6,326.0 558.8,328.5 559.0,331.6 559.2,335.0 559.4,338.2 559.6,340.9 559.8,342.6 560.0,343.2 560.2,342.6 560.4,340.9 560.5,338.2 560.7,335.0 560.9,331.6 561.1,328.5 561.3,326.0 561.5,324.4 561.7,324.0 561.9,324.8 562.1,326.8 562.3,329.6 562.5,332.9 562.7,336.3 562.9,339.4 563.1,341.7 563.2,343.0 563.4,343.1 563.6,342.0 563.8,339.8 564.0,336.8 564.2,333.5 564.4,330.1 564.6,327.2 564.8,325.1 565.0,324.1 565.2,324.3 565.4,325.7 565.6,328.1 565.8,331.3 565.9,334.7 566.1,338.0 566.3,340.7 566.5,342.5 566.7,343.2 566.9,342.6 567.1,340.9 567.3,338.2 567.5,334.9 567.7,331.5 567.9,328.3 568.1,325.8 568.3,324.3 568.5,324.0 568.6,325.0 568.8,327.1 569.0,330.0 569.2,333.4 569.4,336.8 569.6,339.8 569.8,342.0 570.0,343.1 570.2,343.0 570.4,341.6 570.6,339.3 570.8,336.1 571.0,332.7 571.2,329.4 571.3,326.6 571.5,324.7 571.7,324.0 571.9,324.5 572.1,326.2 572.3,328.9 572.5,332.2 572.7,335.6 572.9,338.8 573.1,341.4 573.3,342.9 573.5,343.2 573.7,342.2 573.9,340.2 574.0,337.3 574.2,333.9 574.4,330.5 574.6,327.4 574.8,325.2 575.0,324.1 575.2,324.2 575.4,325.5 575.6,327.9 575.8,331.0 576.0,334.4 576.2,337.8 576.4,340.6 576.6,342.4 576.7,343.2 576.9,342.7 577.1,341.0 577.3,338.4 577.5,335.2 577.7,331.7 577.9,328.5 578.1,326.0 578.3,324.4 578.5,324.0 578.7,324.9 578.9,326.8 579.1,329.7 579.3,333.0 579.4,336.4 579.6,339.5 579.8,341.8 580.0,343.0 580.2,343.1 580.4,341.9 580.6,339.7 580.8,336.7 581.0,333.3 581.2,330.0 581.4,327.1 581.6,325.0 581.8,324.1 582.0,324.3 582.1,325.7 582.3,328.1 582.5,331.2 582.7,334.6 582.9,337.9 583.1,340.6 583.3,342.5 583.5,343.2 583.7,342.7 583.9,341.1 584.1,338.5 584.3,335.4 584.5,332.0 584.7,328.8 584.8,326.2 585.0,324.5 585.2,324.0 585.4,324.7 585.6,326.4 585.8,329.1 586.0,332.3 586.2,335.7 586.4,338.8 586.6,341.3 586.8,342.8 587.0,343.2 587.2,342.4 587.3,340.5 587.5,337.8 587.7,334.6 587.9,331.2 588.1,328.2 588.3,325.8 588.5,324.3 588.7,324.0 588.9,324.9 589.1,326.8 589.3,329.5 589.5,332.8 589.7,336.1 589.9,339.1 590.0,341.5 590.2,342.9 590.4,343.2 590.6,342.3 590.8,340.4 591.0,337.7 591.2,334.5 591.4,331.1 591.6,328.1 591.8,325.8 592.0,324.3 592.2,324.0 592.4,324.8 592.6,326.7 592.7,329.4 592.9,332.5 593.1,335.8 593.3,338.9 593.5,341.3 593.7,342.8 593.9,343.2 594.1,342.5 594.3,340.7 594.5,338.1 594.7,335.0 594.9,331.7 595.1,328.7 595.3,326.2 595.4,324.6 595.6,324.0 595.8,324.6 596.0,326.2 596.2,328.6 596.4,331.7 596.6,334.9 596.8,338.0 597.0,340.6 597.2,342.4 597.4,343.2 597.6,342.8 597.8,341.4 598.0,339.1 598.1,336.2 598.3,333.0 598.5,329.8 598.7,327.1 598.9,325.1 599.1,324.1 599.3,324.2 599.5,325.3 599.7,327.4 599.9,330.2 600.1,333.4 600.3,336.6 600.5,339.5 600.7,341.7 600.8,342.9 601.0,343.1 601.2,342.3 601.4,340.4 601.6,337.8 601.8,334.7 602.0,331.5 602.2,328.5 602.4,326.1 602.6,324.5 602.8,324.0 603.0,324.5 603.2,326.1 603.4,328.5 603.5,331.5 603.7,334.7 603.9,337.8 604.1,340.4 604.3,342.3 604.5,343.1 604.7,343.0 604.9,341.7 605.1,339.6 605.3,336.8 605.5,333.6 605.7,330.4 605.9,327.6 606.1,325.5 606.2,324.2 606.4,324.1 606.6,324.9 606.8,326.8 607.0,329.4 607.2,332.4 607.4,335.7 607.6,338.6 607.8,341.0 608.0,342.6 608.2,343.2 608.4,342.7 608.6,341.2 608.8,338.8 608.9,335.9 609.1,332.7 609.3,329.6 609.5,326.9 609.7,325.0 609.9,324.1 610.1,324.2 610.3,325.4 610.5,327.4 610.7,330.2 610.9,333.4 611.1,336.6 611.3,339.4 611.4,341.6 611.6,342.9 611.8,343.2 612.0,342.4 612.2,340.6 612.4,338.0 612.6,334.9 612.8,331.7 613.0,328.7 613.2,326.2 613.4,324.6 613.6,324.0 613.8,324.5 614.0,326.0 614.1,328.3 614.3,331.3 614.5,334.5 614.7,337.6 614.9,340.3 615.1,342.2 615.3,343.1 615.5,343.0 615.7,341.8 615.9,339.7 616.1,336.8 616.3,333.7 616.5,330.5 616.7,327.6 616.8,325.5 617.0,324.2 617.2,324.1 617.4,325.0 617.6,326.9 617.8,329.6 618.0,332.7 618.2,336.0 618.4,338.9 618.6,341.3 618.8,342.8 619.0,343.2 619.2,342.5 619.4,340.8 619.5,338.2 619.7,335.2 619.9,331.9 620.1,328.8 620.3,326.3 620.5,324.6 620.7,324.0 620.9,324.5 621.1,326.0 621.3,328.5 621.5,331.5 621.7,334.8 621.9,337.9 622.1,340.6 622.2,342.4 622.4,343.2 622.6,342.8 622.8,341.4 623.0,339.1 623.2,336.1 623.4,332.8 623.6,329.6 623.8,326.9 624.0,324.9 624.2,324.0 624.4,324.3 624.6,325.6 624.8,327.9 624.9,330.9 625.1,334.2 625.3,337.4 625.5,340.2 625.7,342.2 625.9,343.1 626.1,342.9 626.3,341.6 626.5,339.3 626.7,336.3 626.9,333.0 627.1,329.8 627.3,327.0 627.5,325.0 627.6,324.1 627.8,324.3 628.0,325.6 628.2,328.0 628.4,331.0 628.6,334.3 628.8,337.6 629.0,340.4 629.2,342.3 629.4,343.2 629.6,342.9 629.8,341.4 630.0,339.0 630.2,335.9 630.3,332.6 630.5,329.5 630.7,327.2 630.9,326.0 631.1,325.8 631.3,326.7 631.5,328.4 631.7,330.4 631.9,332.6 632.1,334.3 632.3,335.6 632.5,336.2 632.7,336.2 632.9,335.7 633.0,335.1 633.2,334.5 633.4,333.9 633.6,333.7 633.8,333.6 634.0,333.6 634.2,333.6" fill="none" stroke="#1e1e1e" stroke-width="0.74" stroke-dasharray="2.8,1.0,3.6,1.2,2.3,0.9,3.1,1.3,4.0,1.1"/>
<polyline points="349.5,32.8 349.9,33.0 350.3,33.1 350.6,32.5 351.0,30.8 351.4,28.4 351.8,26.4 352.2,26.0 352.6,27.7 352.9,31.0 353.3,34.6 353.7,37.7 354.1,39.8 354.5,40.9 354.9,41.2 355.2,41.2 355.6,41.1 356.0,40.5 356.4,39.1 356.8,36.5 357.1,33.2 357.5,29.5 357.9,26.5 358.3,24.7 358.7,24.6 359.1,26.3 359.4,29.3 359.8,32.9 360.2,36.3 360.6,38.9 361.0,40.5 361.4,41.1 361.7,41.2 362.1,41.2 362.5,40.9 362.9,39.9 363.3,37.9 363.7,34.8 364.0,31.2 364.4,27.8 364.8,25.3 365.2,24.4 365.6,25.3 365.9,27.8 366.3,31.2 366.7,34.8 367.1,37.9 367.5,39.9 367.9,40.9 368.2,41.2 368.6,41.2 369.0,41.1 369.4,40.5 369.8,38.9 370.2,36.3 370.5,32.9 370.9,29.3 371.3,26.3 371.7,24.6 372.1,24.7 372.4,26.5 372.8,29.6 373.2,33.2 373.6,36.5 374.0,39.1 374.4,40.5 374.7,41.1 375.1,41.2 375.5,41.2 375.9,40.9 376.3,39.8 376.7,37.7 377.0,34.6 377.4,31.0 377.8,27.6 378.2,25.2 378.6,24.4 378.9,25.4 379.3,28.0 379.7,31.5 380.1,35.1 380.5,38.0 380.9,40.0 381.2,40.9 381.6,41.2 382.0,41.2 382.4,41.1 382.8,40.4 383.2,38.8 383.5,36.1 383.9,32.7 384.3,29.1 384.7,26.1 385.1,24.5 385.4,24.7 385.8,26.6 386.2,29.8 386.6,33.4 387.0,36.7 387.4,39.2 387.7,40.6 388.1,41.1 388.5,41.2 388.9,41.2 389.3,40.8 389.7,39.7 390.0,37.5 390.4,34.4 390.8,30.7 391.2,27.4 391.6,25.1 392.0,24.4 392.3,25.6 392.7,28.2 393.1,31.7 393.5,35.3 393.9,38.2 394.2,40.1 394.6,41.0 395.0,41.2 395.4,41.2 395.8,41.1 396.2,40.3 396.5,38.7 396.9,35.9 397.3,32.4 397.7,28.9 398.1,26.0 398.5,24.5 398.8,24.8 399.2,26.8 399.6,30.0 400.0,33.7 400.4,36.9 400.7,39.3 401.1,40.7 401.5,41.1 401.9,41.2 402.3,41.2 402.7,40.8 403.0,39.6 403.4,37.3 403.8,34.1 404.2,30.5 404.6,27.2 405.0,25.0 405.3,24.4 405.7,25.7 406.1,28.4 406.5,32.0 406.9,35.5 407.2,38.4 407.6,40.2 408.0,41.0 408.4,41.2 408.8,41.2 409.2,41.0 409.5,40.3 409.9,38.5 410.3,35.7 410.7,32.2 411.1,28.6 411.5,25.8 411.8,24.5 412.2,24.9 412.6,27.0 413.0,30.3 413.4,33.9 413.8,37.1 414.1,39.5 414.5,40.7 414.9,41.2 415.3,41.2 415.7,41.2 416.0,40.7 416.4,39.5 416.8,37.1 417.2,33.9 417.6,30.3 418.0,27.0 418.3,24.9 418.7,24.5 419.1,25.8 419.5,28.6 419.9,32.2 420.3,35.7 420.6,38.5 421.0,40.3 421.4,41.0 421.8,41.2 422.2,41.2 422.5,41.0 422.9,40.2 423.3,38.3 423.7,35.5 424.1,31.9 424.5,28.4 424.8,25.7 425.2,24.4 425.6,25.0 426.0,27.2 426.4,30.5 426.8,34.1 427.1,37.3 427.5,39.6 427.9,40.8 428.3,41.2 428.7,41.2 429.0,41.1 429.4,40.7 429.8,39.3 430.2,36.9 430.6,33.6 431.0,30.0 431.3,26.8 431.7,24.8 432.1,24.5 432.5,26.0 432.9,28.9 433.3,32.5 433.6,35.9 434.0,38.7 434.4,40.3 434.8,41.1 435.2,41.2 435.6,41.2 435.9,41.0 436.3,40.1 436.7,38.2 437.1,35.3 437.5,31.7 437.8,28.2 438.2,25.5 438.6,24.4 439.0,25.1 439.4,27.4 439.8,30.7 440.1,34.4 440.5,37.5 440.9,39.7 441.3,40.8 441.7,41.2 442.1,41.2 442.4,41.1 442.8,40.6 443.2,39.2 443.6,36.7 444.0,33.4 444.3,29.8 444.7,26.6 445.1,24.7 445.5,24.5 445.9,26.1 446.3,29.1 446.6,32.7 447.0,36.1 447.4,38.8 447.8,40.4 448.2,41.1 448.6,41.2 448.9,41.2 449.3,40.9 449.7,40.0 450.1,38.0 450.5,35.0 450.8,31.5 451.2,28.0 451.6,25.4 452.0,24.4 452.4,25.2 452.8,27.6 453.1,31.0 453.5,34.6 453.9,37.7 454.3,39.8 454.7,40.9 455.1,41.2 455.4,41.2 455.8,41.1 456.2,40.5 456.6,39.1 457.0,36.5 457.3,33.2 457.7,29.5 458.1,26.5 458.5,24.7 458.9,24.6 459.3,26.3 459.6,29.3 460.0,32.9 460.4,36.3 460.8,38.9 461.2,40.5 461.6,41.1 461.9,41.2 462.3,41.2 462.7,40.9 463.1,39.9 463.5,37.8 463.9,34.8 464.2,31.2 464.6,27.8 465.0,25.3 465.4,24.4 465.8,25.3 466.1,27.8 466.5,31.2 466.9,34.8 467.3,37.9 467.7,39.9 468.1,40.9 468.4,41.0 468.8,40.3 469.2,39.1 469.6,37.4 470.0,35.4 470.4,33.7 470.7,32.8 471.1,32.7 471.5,32.8" fill="none" stroke="#2a2a2a" stroke-width="0.72" stroke-dasharray="2.3,1.15"/>
<polyline points="349.5,58.3 349.9,58.3 350.3,57.6 350.6,56.1 351.0,56.3 351.4,57.9 351.8,60.2 352.2,61.2 352.6,59.2 352.9,56.4 353.3,55.7 353.7,58.2 354.1,62.2 354.5,66.5 354.9,66.2 355.2,60.0 355.6,56.5 356.0,58.2 356.4,60.8 356.8,59.0 357.1,51.7 357.5,49.8 357.9,54.2 358.3,58.2 358.7,61.1 359.1,61.3 359.4,58.8 359.8,56.1 360.2,55.9 360.6,58.7 361.0,62.9 361.4,66.9 361.7,65.6 362.1,59.2 362.5,56.5 362.9,58.7 363.3,60.9 363.7,58.1 364.0,50.8 364.4,50.2 364.8,54.8 365.2,58.7 365.6,61.3 365.9,61.1 366.3,58.4 366.7,55.9 367.1,56.2 367.5,59.2 367.9,63.5 368.2,67.1 368.6,64.8 369.0,58.4 369.4,56.6 369.8,59.1 370.2,60.9 370.5,57.2 370.9,50.1 371.3,50.8 371.7,55.4 372.1,59.2 372.4,61.5 372.8,60.8 373.2,57.9 373.6,55.7 374.0,56.5 374.4,59.8 374.7,64.1 375.1,67.3 375.5,63.9 375.9,57.8 376.3,56.8 376.7,59.5 377.0,60.8 377.4,56.1 377.8,49.6 378.2,51.4 378.6,56.0 378.9,59.6 379.3,61.6 379.7,60.5 380.1,57.5 380.5,55.6 380.9,56.8 381.2,60.3 381.6,64.8 382.0,67.3 382.4,63.0 382.8,57.3 383.2,57.1 383.5,59.9 383.9,60.6 384.3,55.0 384.7,49.4 385.1,52.1 385.4,56.6 385.8,60.1 386.2,61.6 386.6,60.1 387.0,57.1 387.4,55.6 387.7,57.2 388.1,60.9 388.5,65.4 388.9,67.1 389.3,62.0 389.7,56.9 390.0,57.4 390.4,60.2 390.8,60.2 391.2,53.9 391.6,49.3 392.0,52.8 392.3,57.1 392.7,60.4 393.1,61.6 393.5,59.7 393.9,56.7 394.2,55.6 394.6,57.6 395.0,61.5 395.4,65.9 395.8,66.8 396.2,61.0 396.5,56.7 396.9,57.8 397.3,60.5 397.7,59.7 398.1,52.8 398.5,49.4 398.8,53.5 399.2,57.7 399.6,60.8 400.0,61.5 400.4,59.3 400.7,56.4 401.1,55.7 401.5,58.1 401.9,62.2 402.3,66.4 402.7,66.3 403.0,60.1 403.4,56.5 403.8,58.2 404.2,60.8 404.6,59.0 405.0,51.8 405.3,49.7 405.7,54.1 406.1,58.2 406.5,61.1 406.9,61.4 407.2,58.9 407.6,56.1 408.0,55.9 408.4,58.6 408.8,62.8 409.2,66.8 409.5,65.6 409.9,59.2 410.3,56.5 410.7,58.6 411.1,60.9 411.5,58.2 411.8,50.9 412.2,50.2 412.6,54.8 413.0,58.7 413.4,61.3 413.8,61.1 414.1,58.4 414.5,55.9 414.9,56.1 415.3,59.2 415.7,63.4 416.0,67.1 416.4,64.9 416.8,58.5 417.2,56.6 417.6,59.1 418.0,60.9 418.3,57.3 418.7,50.2 419.1,50.8 419.5,55.4 419.9,59.1 420.3,61.5 420.6,60.9 421.0,58.0 421.4,55.7 421.8,56.4 422.2,59.7 422.5,64.1 422.9,67.3 423.3,64.0 423.7,57.8 424.1,56.8 424.5,59.5 424.8,60.9 425.2,56.2 425.6,49.7 426.0,51.4 426.4,56.0 426.8,59.6 427.1,61.6 427.5,60.5 427.9,57.5 428.3,55.6 428.7,56.8 429.0,60.3 429.4,64.7 429.8,67.3 430.2,63.0 430.6,57.3 431.0,57.1 431.3,59.9 431.7,60.6 432.1,55.1 432.5,49.4 432.9,52.1 433.3,56.5 433.6,60.0 434.0,61.6 434.4,60.2 434.8,57.1 435.2,55.6 435.6,57.2 435.9,60.9 436.3,65.3 436.7,67.1 437.1,62.1 437.5,56.9 437.8,57.4 438.2,60.2 438.6,60.3 439.0,54.0 439.4,49.3 439.8,52.8 440.1,57.1 440.5,60.4 440.9,61.6 441.3,59.8 441.7,56.7 442.1,55.6 442.4,57.6 442.8,61.5 443.2,65.9 443.6,66.8 444.0,61.1 444.3,56.7 444.7,57.8 445.1,60.5 445.5,59.8 445.9,52.9 446.3,49.4 446.6,53.4 447.0,57.6 447.4,60.8 447.8,61.5 448.2,59.3 448.6,56.4 448.9,55.7 449.3,58.1 449.7,62.1 450.1,66.4 450.5,66.3 450.8,60.2 451.2,56.5 451.6,58.2 452.0,60.7 452.4,59.1 452.8,51.9 453.1,49.7 453.5,54.1 453.9,58.1 454.3,61.1 454.7,61.4 455.1,58.9 455.4,56.1 455.8,55.9 456.2,58.6 456.6,62.8 457.0,66.8 457.3,65.7 457.7,59.3 458.1,56.5 458.5,58.6 458.9,60.9 459.3,58.3 459.6,51.0 460.0,50.2 460.4,54.7 460.8,58.6 461.2,61.3 461.6,61.2 461.9,58.4 462.3,55.9 462.7,56.1 463.1,59.1 463.5,63.4 463.9,67.1 464.2,64.9 464.6,58.5 465.0,56.6 465.4,59.0 465.8,60.9 466.1,57.4 466.5,50.2 466.9,50.7 467.3,55.3 467.7,59.1 468.1,61.5 468.4,60.8 468.8,58.0 469.2,56.3 469.6,57.2 470.0,58.9 470.4,59.8 470.7,59.4 471.1,58.5 471.5,58.3" fill="none" stroke="#262626" stroke-width="0.74" stroke-dasharray="2.3,1.15"/>
<polyline points="349.5,83.8 349.9,83.5 350.3,83.7 350.6,84.8 351.0,85.9 351.4,85.4 351.8,83.5 352.2,82.8 352.6,85.1 352.9,88.7 353.3,91.9 353.7,93.0 354.1,88.2 354.5,84.0 354.9,85.4 355.2,88.4 355.6,88.5 356.0,83.5 356.4,75.4 356.8,77.0 357.1,84.5 357.5,88.5 357.9,88.6 358.3,85.7 358.7,82.9 359.1,82.9 359.4,85.9 359.8,89.4 360.2,92.4 360.6,92.4 361.0,86.8 361.4,83.9 361.7,86.2 362.1,88.7 362.5,87.9 362.9,81.7 363.3,74.6 363.7,78.7 364.0,85.7 364.4,88.8 364.8,88.1 365.2,85.0 365.6,82.6 365.9,83.4 366.3,86.7 366.7,90.1 367.1,92.9 367.5,91.5 367.9,85.7 368.2,84.1 368.6,86.9 369.0,88.9 369.4,87.1 369.8,79.7 370.2,74.4 370.5,80.5 370.9,86.7 371.3,89.0 371.7,87.6 372.1,84.3 372.4,82.5 372.8,84.0 373.2,87.5 373.6,90.8 374.0,93.2 374.4,90.3 374.7,84.8 375.1,84.5 375.5,87.5 375.9,88.9 376.3,85.9 376.7,77.8 377.0,75.0 377.4,82.2 377.8,87.6 378.2,89.0 378.6,86.9 378.9,83.6 379.3,82.5 379.7,84.7 380.1,88.3 380.5,91.5 380.9,93.1 381.2,89.0 381.6,84.2 382.0,85.1 382.4,88.1 382.8,88.7 383.2,84.5 383.5,76.1 383.9,76.2 384.3,83.8 384.7,88.2 385.1,88.8 385.4,86.2 385.8,83.1 386.2,82.7 386.6,85.5 387.0,89.0 387.4,92.1 387.7,92.8 388.1,87.6 388.5,83.9 388.9,85.8 389.3,88.5 389.7,88.3 390.0,82.7 390.4,74.9 390.8,77.8 391.2,85.1 391.6,88.6 392.0,88.4 392.3,85.4 392.7,82.7 393.1,83.1 393.5,86.3 393.9,89.7 394.2,92.7 394.6,92.1 395.0,86.3 395.4,83.9 395.8,86.5 396.2,88.8 396.5,87.6 396.9,80.8 397.3,74.4 397.7,79.5 398.1,86.2 398.5,88.9 398.8,87.9 399.2,84.7 399.6,82.5 400.0,83.7 400.4,87.1 400.7,90.4 401.1,93.1 401.5,91.0 401.9,85.2 402.3,84.2 402.7,87.2 403.0,89.0 403.4,86.6 403.8,78.8 404.2,74.6 404.6,81.3 405.0,87.1 405.3,89.0 405.7,87.3 406.1,84.0 406.5,82.5 406.9,84.3 407.2,87.8 407.6,91.1 408.0,93.2 408.4,89.7 408.8,84.5 409.2,84.7 409.5,87.8 409.9,88.9 410.3,85.3 410.7,77.0 411.1,75.5 411.5,82.9 411.8,87.9 412.2,88.9 412.6,86.6 413.0,83.4 413.4,82.6 413.8,85.0 414.1,88.6 414.5,91.8 414.9,93.0 415.3,88.3 415.7,84.0 416.0,85.4 416.4,88.3 416.8,88.6 417.2,83.7 417.6,75.5 418.0,76.9 418.3,84.4 418.7,88.4 419.1,88.6 419.5,85.8 419.9,82.9 420.3,82.9 420.6,85.8 421.0,89.3 421.4,92.4 421.8,92.5 422.2,87.0 422.5,83.9 422.9,86.1 423.3,88.7 423.7,88.0 424.1,81.9 424.5,74.6 424.8,78.5 425.2,85.6 425.6,88.8 426.0,88.2 426.4,85.1 426.8,82.6 427.1,83.4 427.5,86.6 427.9,90.0 428.3,92.9 428.7,91.6 429.0,85.8 429.4,84.1 429.8,86.8 430.2,88.9 430.6,87.2 431.0,79.9 431.3,74.4 431.7,80.3 432.1,86.7 432.5,89.0 432.9,87.6 433.3,84.3 433.6,82.5 434.0,83.9 434.4,87.4 434.8,90.7 435.2,93.2 435.6,90.5 435.9,84.8 436.3,84.4 436.7,87.5 437.1,88.9 437.5,86.1 437.8,78.0 438.2,74.9 438.6,82.1 439.0,87.5 439.4,89.0 439.8,87.0 440.1,83.7 440.5,82.5 440.9,84.6 441.3,88.2 441.7,91.4 442.1,93.2 442.4,89.1 442.8,84.2 443.2,85.0 443.6,88.0 444.0,88.8 444.3,84.6 444.7,76.3 445.1,76.1 445.5,83.6 445.9,88.1 446.3,88.8 446.6,86.2 447.0,83.2 447.4,82.7 447.8,85.4 448.2,88.9 448.6,92.1 448.9,92.8 449.3,87.7 449.7,83.9 450.1,85.7 450.5,88.5 450.8,88.3 451.2,82.9 451.6,75.0 452.0,77.6 452.4,85.0 452.8,88.6 453.1,88.4 453.5,85.5 453.9,82.8 454.3,83.1 454.7,86.2 455.1,89.7 455.4,92.6 455.8,92.2 456.2,86.4 456.6,83.9 457.0,86.4 457.3,88.8 457.7,87.7 458.1,81.0 458.5,74.4 458.9,79.3 459.3,86.1 459.6,88.9 460.0,88.0 460.4,84.7 460.8,82.5 461.2,83.6 461.6,87.0 461.9,90.4 462.3,93.0 462.7,91.1 463.1,85.3 463.5,84.2 463.9,87.1 464.2,89.0 464.6,86.7 465.0,79.0 465.4,74.6 465.8,81.1 466.1,87.0 466.5,89.0 466.9,87.3 467.3,84.0 467.7,82.5 468.1,84.2 468.4,87.7 468.8,90.2 469.2,90.9 469.6,87.4 470.0,84.1 470.4,84.0 470.7,84.3 471.1,84.0 471.5,83.8" fill="none" stroke="#262626" stroke-width="0.74" stroke-dasharray="2.3,1.15"/>
<polyline points="349.5,109.8 349.9,110.0 350.3,110.1 350.6,108.5 351.0,106.1 351.4,109.5 351.8,114.8 352.2,115.9 352.6,113.1 352.9,110.3 353.3,110.9 353.7,114.4 354.1,117.3 354.5,117.0 354.9,116.2 355.2,118.1 355.6,118.8 356.0,117.7 356.4,117.8 356.8,116.2 357.1,111.0 357.5,102.9 357.9,102.0 358.3,111.5 358.7,117.0 359.1,116.1 359.4,112.4 359.8,110.0 360.2,111.5 360.6,115.2 361.0,117.5 361.4,116.7 361.7,116.4 362.1,118.6 362.5,118.6 362.9,117.7 363.3,117.7 363.7,115.4 364.0,109.3 364.4,101.5 364.8,103.7 365.2,113.4 365.6,117.3 365.9,115.4 366.3,111.6 366.7,110.0 367.1,112.2 367.5,116.0 367.9,117.6 368.2,116.4 368.6,116.7 369.0,118.9 369.4,118.3 369.8,117.7 370.2,117.5 370.5,114.4 370.9,107.5 371.3,100.7 371.7,105.8 372.1,114.9 372.4,117.2 372.8,114.6 373.2,111.0 373.6,110.2 374.0,113.1 374.4,116.6 374.7,117.4 375.1,116.2 375.5,117.3 375.9,119.0 376.3,118.0 376.7,117.8 377.0,117.1 377.4,113.2 377.8,105.6 378.2,100.7 378.6,108.1 378.9,116.0 379.3,116.9 379.7,113.7 380.1,110.5 380.5,110.6 380.9,113.9 381.2,117.1 381.6,117.2 382.0,116.1 382.4,117.8 382.8,118.9 383.2,117.8 383.5,117.8 383.9,116.6 384.3,111.9 384.7,103.8 385.1,101.3 385.4,110.3 385.8,116.8 386.2,116.4 386.6,112.8 387.0,110.1 387.4,111.1 387.7,114.8 388.1,117.4 388.5,116.9 388.9,116.2 389.3,118.3 389.7,118.7 390.0,117.7 390.4,117.8 390.8,115.9 391.2,110.3 391.6,102.2 392.0,102.7 392.3,112.4 392.7,117.2 393.1,115.8 393.5,112.0 393.9,110.0 394.2,111.8 394.6,115.6 395.0,117.5 395.4,116.6 395.8,116.5 396.2,118.7 396.5,118.4 396.9,117.7 397.3,117.7 397.7,115.0 398.1,108.5 398.5,101.1 398.8,104.6 399.2,114.1 399.6,117.3 400.0,115.0 400.4,111.3 400.7,110.1 401.1,112.6 401.5,116.3 401.9,117.5 402.3,116.3 402.7,117.0 403.0,119.0 403.4,118.1 403.8,117.7 404.2,117.4 404.6,113.9 405.0,106.7 405.3,100.6 405.7,106.8 406.1,115.4 406.5,117.1 406.9,114.2 407.2,110.7 407.6,110.4 408.0,113.4 408.4,116.8 408.8,117.3 409.2,116.1 409.5,117.5 409.9,119.0 410.3,117.9 410.7,117.8 411.1,116.9 411.5,112.6 411.8,104.8 412.2,100.9 412.6,109.1 413.0,116.4 413.4,116.7 413.8,113.3 414.1,110.3 414.5,110.8 414.9,114.3 415.3,117.3 415.7,117.1 416.0,116.1 416.4,118.1 416.8,118.8 417.2,117.7 417.6,117.8 418.0,116.3 418.3,111.2 418.7,103.0 419.1,101.8 419.5,111.3 419.9,117.0 420.3,116.2 420.6,112.5 421.0,110.1 421.4,111.4 421.8,115.1 422.2,117.5 422.5,116.7 422.9,116.3 423.3,118.5 423.7,118.6 424.1,117.7 424.5,117.7 424.8,115.5 425.2,109.5 425.6,101.6 426.0,103.5 426.4,113.2 426.8,117.2 427.1,115.4 427.5,111.7 427.9,110.0 428.3,112.2 428.7,115.9 429.0,117.6 429.4,116.4 429.8,116.7 430.2,118.9 430.6,118.3 431.0,117.7 431.3,117.5 431.7,114.5 432.1,107.7 432.5,100.8 432.9,105.5 433.3,114.7 433.6,117.2 434.0,114.6 434.4,111.0 434.8,110.2 435.2,113.0 435.6,116.6 435.9,117.5 436.3,116.2 436.7,117.2 437.1,119.0 437.5,118.0 437.8,117.7 438.2,117.2 438.6,113.4 439.0,105.8 439.4,100.6 439.8,107.8 440.1,115.9 440.5,117.0 440.9,113.8 441.3,110.5 441.7,110.5 442.1,113.8 442.4,117.1 442.8,117.2 443.2,116.1 443.6,117.8 444.0,118.9 444.3,117.8 444.7,117.8 445.1,116.7 445.5,112.0 445.9,104.0 446.3,101.2 446.6,110.1 447.0,116.7 447.4,116.5 447.8,112.9 448.2,110.2 448.6,111.1 448.9,114.7 449.3,117.4 449.7,116.9 450.1,116.2 450.5,118.3 450.8,118.7 451.2,117.7 451.6,117.8 452.0,116.0 452.4,110.5 452.8,102.4 453.1,102.5 453.5,112.2 453.9,117.1 454.3,115.9 454.7,112.1 455.1,110.0 455.4,111.7 455.8,115.5 456.2,117.5 456.6,116.6 457.0,116.5 457.3,118.7 457.7,118.5 458.1,117.7 458.5,117.7 458.9,115.1 459.3,108.7 459.6,101.2 460.0,104.4 460.4,113.9 460.8,117.3 461.2,115.1 461.6,111.4 461.9,110.1 462.3,112.5 462.7,116.2 463.1,117.5 463.5,116.3 463.9,116.9 464.2,118.9 464.6,118.1 465.0,117.7 465.4,117.4 465.8,114.0 466.1,106.9 466.5,100.6 466.9,106.5 467.3,115.3 467.7,117.1 468.1,114.3 468.4,110.8 468.8,110.3 469.2,112.5 469.6,114.0 470.0,113.0 470.4,111.4 470.7,110.7 471.1,110.1 471.5,109.8" fill="none" stroke="#262626" stroke-width="0.74" stroke-dasharray="2.3,1.15"/>
<polyline points="511.0,32.8 511.4,33.1 511.8,33.8 512.2,34.9 512.5,36.3 512.9,37.2 513.3,36.8 513.7,34.3 514.1,30.1 514.5,26.2 514.9,24.4 515.2,25.5 515.6,29.0 516.0,33.5 516.4,37.4 516.8,39.9 517.2,41.0 517.6,41.2 517.9,41.1 518.3,41.0 518.7,41.1 519.1,41.2 519.5,41.0 519.9,40.1 520.3,37.8 520.6,34.0 521.0,29.6 521.4,25.9 521.8,24.4 522.2,25.8 522.6,29.5 523.0,33.9 523.3,37.7 523.7,40.1 524.1,41.0 524.5,41.2 524.9,41.1 525.3,41.0 525.7,41.1 526.0,41.2 526.4,41.0 526.8,39.9 527.2,37.4 527.6,33.6 528.0,29.1 528.4,25.6 528.7,24.4 529.1,26.1 529.5,29.9 529.9,34.4 530.3,38.0 530.7,40.2 531.1,41.1 531.4,41.2 531.8,41.1 532.2,41.0 532.6,41.1 533.0,41.2 533.4,40.9 533.7,39.7 534.1,37.1 534.5,33.1 534.9,28.7 535.3,25.3 535.7,24.5 536.1,26.4 536.4,30.4 536.8,34.8 537.2,38.3 537.6,40.4 538.0,41.1 538.4,41.2 538.8,41.1 539.1,41.0 539.5,41.1 539.9,41.2 540.3,40.9 540.7,39.5 541.1,36.7 541.5,32.6 541.8,28.2 542.2,25.1 542.6,24.5 543.0,26.8 543.4,30.9 543.8,35.3 544.2,38.6 544.5,40.5 544.9,41.1 545.3,41.2 545.7,41.1 546.1,41.0 546.5,41.1 546.9,41.2 547.2,40.8 547.6,39.3 548.0,36.4 548.4,32.2 548.8,27.8 549.2,24.9 549.6,24.6 549.9,27.1 550.3,31.3 550.7,35.7 551.1,38.9 551.5,40.6 551.9,41.2 552.3,41.2 552.6,41.0 553.0,41.0 553.4,41.1 553.8,41.2 554.2,40.7 554.6,39.1 555.0,36.0 555.3,31.7 555.7,27.4 556.1,24.7 556.5,24.8 556.9,27.5 557.3,31.8 557.7,36.1 558.0,39.1 558.4,40.7 558.8,41.2 559.2,41.1 559.6,41.0 560.0,41.0 560.4,41.2 560.7,41.2 561.1,40.6 561.5,38.8 561.9,35.6 562.3,31.2 562.7,27.0 563.1,24.6 563.4,25.0 563.8,27.9 564.2,32.3 564.6,36.5 565.0,39.4 565.4,40.8 565.8,41.2 566.1,41.1 566.5,41.0 566.9,41.1 567.3,41.2 567.7,41.1 568.1,40.5 568.5,38.5 568.8,35.1 569.2,30.7 569.6,26.7 570.0,24.5 570.4,25.2 570.8,28.4 571.2,32.8 571.5,36.8 571.9,39.6 572.3,40.9 572.7,41.2 573.1,41.1 573.5,41.0 573.8,41.1 574.2,41.2 574.6,41.1 575.0,40.3 575.4,38.3 575.8,34.7 576.2,30.3 576.5,26.3 576.9,24.4 577.3,25.4 577.7,28.8 578.1,33.2 578.5,37.2 578.9,39.8 579.2,41.0 579.6,41.2 580.0,41.1 580.4,41.0 580.8,41.1 581.2,41.2 581.6,41.1 581.9,40.2 582.3,38.0 582.7,34.3 583.1,29.8 583.5,26.0 583.9,24.4 584.3,25.7 584.6,29.2 585.0,33.7 585.4,37.5 585.8,40.0 586.2,41.0 586.6,41.2 587.0,41.1 587.3,41.0 587.7,41.1 588.1,41.2 588.5,41.0 588.9,40.0 589.3,37.6 589.7,33.8 590.0,29.3 590.4,25.7 590.8,24.4 591.2,25.9 591.6,29.7 592.0,34.1 592.4,37.9 592.7,40.1 593.1,41.1 593.5,41.2 593.9,41.1 594.3,41.0 594.7,41.1 595.1,41.2 595.4,41.0 595.8,39.8 596.2,37.3 596.6,33.3 597.0,28.9 597.4,25.5 597.8,24.4 598.1,26.3 598.5,30.1 598.9,34.6 599.3,38.2 599.7,40.3 600.1,41.1 600.5,41.2 600.8,41.1 601.2,41.0 601.6,41.1 602.0,41.2 602.4,40.9 602.8,39.6 603.2,36.9 603.5,32.9 603.9,28.5 604.3,25.2 604.7,24.5 605.1,26.6 605.5,30.6 605.9,35.0 606.2,38.5 606.6,40.4 607.0,41.1 607.4,41.2 607.8,41.1 608.2,41.0 608.6,41.1 608.9,41.2 609.3,40.8 609.7,39.4 610.1,36.6 610.5,32.4 610.9,28.0 611.3,25.0 611.6,24.6 612.0,26.9 612.4,31.1 612.8,35.4 613.2,38.8 613.6,40.6 613.9,41.2 614.3,41.2 614.7,41.1 615.1,41.0 615.5,41.1 615.9,41.2 616.3,40.7 616.6,39.2 617.0,36.2 617.4,31.9 617.8,27.6 618.2,24.8 618.6,24.7 619.0,27.3 619.3,31.6 619.7,35.9 620.1,39.0 620.5,40.7 620.9,41.2 621.3,41.2 621.7,41.0 622.0,41.0 622.4,41.2 622.8,41.2 623.2,40.6 623.6,39.0 624.0,35.8 624.4,31.5 624.7,27.2 625.1,24.7 625.5,24.9 625.9,27.7 626.3,32.0 626.7,36.3 627.1,39.3 627.4,40.8 627.8,41.2 628.2,41.1 628.6,41.0 629.0,41.1 629.4,41.2 629.8,41.2 630.1,40.5 630.5,38.7 630.9,35.3 631.3,31.2 631.7,28.3 632.1,27.9 632.5,29.6 632.8,31.6 633.2,32.8 633.6,32.9 634.0,32.8" fill="none" stroke="#2a2a2a" stroke-width="0.72" stroke-dasharray="2.3,1.15"/>
<polyline points="511.0,58.3 511.4,58.5 511.8,58.9 512.2,57.9 512.5,54.7 512.9,54.8 513.3,59.3 513.7,62.9 514.1,63.5 514.5,60.9 514.9,58.1 515.2,57.9 515.6,60.5 516.0,63.7 516.4,65.7 516.8,67.3 517.2,65.4 517.6,61.0 517.9,60.9 518.3,63.3 518.7,63.4 519.1,58.2 519.5,50.3 519.9,51.4 520.3,58.7 520.6,63.1 521.0,63.8 521.4,61.4 521.8,58.4 522.2,57.7 522.6,60.0 523.0,63.3 523.3,65.4 523.7,67.1 524.1,66.0 524.5,61.5 524.9,60.6 525.3,63.0 525.7,63.7 526.0,59.4 526.4,51.2 526.8,50.5 527.2,57.6 527.6,62.6 528.0,63.9 528.4,61.9 528.7,58.8 529.1,57.6 529.5,59.5 529.9,62.8 530.3,65.1 530.7,66.9 531.1,66.5 531.4,62.1 531.8,60.4 532.2,62.6 532.6,63.8 533.0,60.4 533.4,52.3 533.7,49.9 534.1,56.5 534.5,62.1 534.9,64.0 535.3,62.4 535.7,59.2 536.1,57.6 536.4,59.1 536.8,62.3 537.2,64.9 537.6,66.7 538.0,66.9 538.4,62.8 538.8,60.3 539.1,62.2 539.5,63.9 539.9,61.3 540.3,53.6 540.7,49.4 541.1,55.4 541.5,61.5 541.8,63.9 542.2,62.8 542.6,59.7 543.0,57.6 543.4,58.7 543.8,61.8 544.2,64.5 544.5,66.4 544.9,67.2 545.3,63.6 545.7,60.4 546.1,61.8 546.5,63.8 546.9,62.1 547.2,54.9 547.6,49.3 548.0,54.2 548.4,60.8 548.8,63.8 549.2,63.2 549.6,60.2 549.9,57.8 550.3,58.3 550.7,61.3 551.1,64.2 551.5,66.1 551.9,67.3 552.3,64.3 552.6,60.5 553.0,61.4 553.4,63.7 553.8,62.7 554.2,56.3 554.6,49.5 555.0,53.0 555.3,60.0 555.7,63.6 556.1,63.5 556.5,60.7 556.9,58.0 557.3,58.0 557.7,60.8 558.0,63.8 558.4,65.8 558.8,67.3 559.2,65.0 559.6,60.8 560.0,61.1 560.4,63.5 560.7,63.2 561.1,57.6 561.5,50.0 561.9,51.9 562.3,59.1 562.7,63.3 563.1,63.7 563.4,61.2 563.8,58.2 564.2,57.8 564.6,60.3 565.0,63.5 565.4,65.6 565.8,67.2 566.1,65.7 566.5,61.3 566.9,60.8 567.3,63.2 567.7,63.5 568.1,58.8 568.5,50.8 568.8,50.9 569.2,58.1 569.6,62.9 570.0,63.9 570.4,61.7 570.8,58.6 571.2,57.6 571.5,59.8 571.9,63.0 572.3,65.3 572.7,67.0 573.1,66.3 573.5,61.8 573.8,60.5 574.2,62.8 574.6,63.8 575.0,59.9 575.4,51.8 575.8,50.1 576.2,57.1 576.5,62.4 576.9,64.0 577.3,62.2 577.7,59.0 578.1,57.6 578.5,59.3 578.9,62.6 579.2,65.0 579.6,66.8 580.0,66.7 580.4,62.5 580.8,60.4 581.2,62.4 581.6,63.9 581.9,60.9 582.3,53.0 582.7,49.6 583.1,55.9 583.5,61.8 583.9,64.0 584.3,62.6 584.6,59.4 585.0,57.6 585.4,58.9 585.8,62.1 586.2,64.7 586.6,66.5 587.0,67.0 587.3,63.2 587.7,60.3 588.1,62.0 588.5,63.9 588.9,61.8 589.3,54.3 589.7,49.3 590.0,54.7 590.4,61.1 590.8,63.9 591.2,63.0 591.6,59.9 592.0,57.7 592.4,58.5 592.7,61.6 593.1,64.4 593.5,66.3 593.9,67.2 594.3,64.0 594.7,60.4 595.1,61.6 595.4,63.8 595.8,62.5 596.2,55.6 596.6,49.4 597.0,53.6 597.4,60.4 597.8,63.7 598.1,63.3 598.5,60.4 598.9,57.9 599.3,58.1 599.7,61.0 600.1,64.0 600.5,66.0 600.8,67.3 601.2,64.7 601.6,60.7 602.0,61.2 602.4,63.6 602.8,63.0 603.2,57.0 603.5,49.7 603.9,52.4 604.3,59.5 604.7,63.4 605.1,63.6 605.5,61.0 605.9,58.1 606.2,57.9 606.6,60.5 607.0,63.6 607.4,65.7 607.8,67.3 608.2,65.4 608.6,61.1 608.9,60.9 609.3,63.3 609.7,63.4 610.1,58.2 610.5,50.4 610.9,51.4 611.3,58.6 611.6,63.1 612.0,63.8 612.4,61.5 612.8,58.4 613.2,57.7 613.6,60.0 613.9,63.2 614.3,65.4 614.7,67.1 615.1,66.0 615.5,61.6 615.9,60.6 616.3,63.0 616.6,63.7 617.0,59.4 617.4,51.3 617.8,50.5 618.2,57.6 618.6,62.6 619.0,63.9 619.3,61.9 619.7,58.8 620.1,57.6 620.5,59.5 620.9,62.8 621.3,65.1 621.7,66.9 622.0,66.5 622.4,62.2 622.8,60.4 623.2,62.6 623.6,63.8 624.0,60.5 624.4,52.4 624.7,49.8 625.1,56.5 625.5,62.1 625.9,64.0 626.3,62.4 626.7,59.2 627.1,57.6 627.4,59.1 627.8,62.3 628.2,64.8 628.6,66.7 629.0,66.9 629.4,62.9 629.8,60.3 630.1,62.2 630.5,63.9 630.9,61.3 631.3,54.2 631.7,51.6 632.1,56.5 632.5,59.6 632.8,59.7 633.2,58.8 633.6,58.3 634.0,58.3" fill="none" stroke="#262626" stroke-width="0.74" stroke-dasharray="2.3,1.15"/>
<polyline points="511.0,83.8 511.4,84.0 511.8,84.1 512.2,83.8 512.5,84.4 512.9,87.0 513.3,89.9 513.7,91.4 514.1,92.9 514.5,91.0 514.9,88.0 515.2,89.8 515.6,91.6 516.0,89.5 516.4,83.8 516.8,75.8 517.2,77.2 517.6,87.5 517.9,91.4 518.3,89.3 518.7,85.3 519.1,83.7 519.5,86.1 519.9,90.1 520.3,92.0 520.6,92.5 521.0,93.1 521.4,90.0 521.8,88.0 522.2,90.4 522.6,91.4 523.0,88.4 523.3,82.0 523.7,74.7 524.1,79.6 524.5,89.2 524.9,91.3 525.3,88.3 525.7,84.6 526.0,83.9 526.4,87.0 526.8,90.8 527.2,92.1 527.6,92.8 528.0,92.8 528.4,89.0 528.7,88.4 529.1,91.0 529.5,91.1 529.9,87.2 530.3,80.0 530.7,74.4 531.1,82.2 531.4,90.3 531.8,90.9 532.2,87.4 532.6,84.1 533.0,84.4 533.4,88.0 533.7,91.4 534.1,92.2 534.5,93.0 534.9,92.1 535.3,88.4 535.7,88.9 536.1,91.4 536.4,90.5 536.8,85.9 537.2,78.0 537.6,75.1 538.0,84.8 538.4,91.1 538.8,90.3 539.1,86.4 539.5,83.7 539.9,85.0 540.3,89.0 540.7,91.7 541.1,92.3 541.5,93.2 541.8,91.2 542.2,88.0 542.6,89.6 543.0,91.5 543.4,89.7 543.8,84.3 544.2,76.2 544.5,76.7 544.9,87.0 545.3,91.4 545.7,89.5 546.1,85.5 546.5,83.7 546.9,85.9 547.2,89.9 547.6,92.0 548.0,92.5 548.4,93.2 548.8,90.2 549.2,88.0 549.6,90.3 549.9,91.5 550.3,88.7 550.7,82.5 551.1,74.9 551.5,78.9 551.9,88.8 552.3,91.3 552.6,88.6 553.0,84.8 553.4,83.8 553.8,86.8 554.2,90.6 554.6,92.1 555.0,92.7 555.3,92.9 555.7,89.3 556.1,88.3 556.5,90.9 556.9,91.2 557.3,87.6 557.7,80.5 558.0,74.4 558.4,81.5 558.8,90.1 559.2,91.0 559.6,87.6 560.0,84.2 560.4,84.2 560.7,87.8 561.1,91.2 561.5,92.2 561.9,92.9 562.3,92.3 562.7,88.5 563.1,88.8 563.4,91.3 563.8,90.7 564.2,86.2 564.6,78.5 565.0,74.8 565.4,84.1 565.8,90.9 566.1,90.5 566.5,86.6 566.9,83.8 567.3,84.9 567.7,88.7 568.1,91.7 568.5,92.3 568.8,93.1 569.2,91.5 569.6,88.1 570.0,89.4 570.4,91.5 570.8,89.9 571.2,84.7 571.5,76.6 571.9,76.2 572.3,86.4 572.7,91.3 573.1,89.7 573.5,85.7 573.8,83.7 574.2,85.6 574.6,89.6 575.0,91.9 575.4,92.4 575.8,93.2 576.2,90.5 576.5,87.9 576.9,90.1 577.3,91.5 577.7,89.0 578.1,83.0 578.5,75.2 578.9,78.3 579.2,88.4 579.6,91.4 580.0,88.8 580.4,84.9 580.8,83.8 581.2,86.5 581.6,90.4 581.9,92.1 582.3,92.6 582.7,93.0 583.1,89.5 583.5,88.2 583.9,90.7 584.3,91.3 584.6,87.9 585.0,81.0 585.4,74.4 585.8,80.8 586.2,89.8 586.6,91.1 587.0,87.9 587.3,84.3 587.7,84.1 588.1,87.5 588.5,91.1 588.9,92.2 589.3,92.9 589.7,92.5 590.0,88.7 590.4,88.6 590.8,91.2 591.2,90.8 591.6,86.6 592.0,79.0 592.4,74.6 592.7,83.4 593.1,90.7 593.5,90.6 593.9,86.9 594.3,83.9 594.7,84.7 595.1,88.5 595.4,91.6 595.8,92.2 596.2,93.1 596.6,91.7 597.0,88.1 597.4,89.2 597.8,91.5 598.1,90.1 598.5,85.1 598.9,77.1 599.3,75.7 599.7,85.9 600.1,91.3 600.5,89.9 600.8,86.0 601.2,83.7 601.6,85.4 602.0,89.4 602.4,91.9 602.8,92.4 603.2,93.2 603.5,90.7 603.9,87.9 604.3,89.9 604.7,91.6 605.1,89.3 605.5,83.4 605.9,75.5 606.2,77.7 606.6,87.9 607.0,91.4 607.4,89.1 607.8,85.1 608.2,83.7 608.6,86.3 608.9,90.2 609.3,92.1 609.7,92.6 610.1,93.1 610.5,89.8 610.9,88.1 611.3,90.6 611.6,91.4 612.0,88.2 612.4,81.6 612.8,74.6 613.2,80.1 613.6,89.5 613.9,91.2 614.3,88.1 614.7,84.5 615.1,84.0 615.5,87.2 615.9,90.9 616.3,92.1 616.6,92.8 617.0,92.6 617.4,88.9 617.8,88.5 618.2,91.1 618.6,91.0 619.0,87.0 619.3,79.6 619.7,74.5 620.1,82.8 620.5,90.5 620.9,90.8 621.3,87.2 621.7,84.0 622.0,84.5 622.4,88.2 622.8,91.4 623.2,92.2 623.6,93.1 624.0,91.9 624.4,88.3 624.7,89.1 625.1,91.4 625.5,90.3 625.9,85.5 626.3,77.6 626.7,75.4 627.1,85.3 627.4,91.2 627.8,90.1 628.2,86.2 628.6,83.7 629.0,85.2 629.4,89.2 629.8,91.8 630.1,92.3 630.5,93.2 630.9,90.8 631.3,87.5 631.7,88.3 632.1,88.4 632.5,86.2 632.8,83.8 633.2,82.9 633.6,83.6 634.0,83.8" fill="none" stroke="#262626" stroke-width="0.74" stroke-dasharray="2.3,1.15"/>
<polyline points="511.0,109.8 511.4,109.5 511.8,109.6 512.2,110.8 512.5,110.6 512.9,108.9 513.3,108.3 513.7,110.5 514.1,113.9 514.5,114.5 514.9,111.9 515.2,110.7 515.6,114.8 516.0,118.9 516.4,117.9 516.8,115.1 517.2,111.5 517.6,107.2 517.9,102.3 518.3,101.5 518.7,109.4 519.1,113.7 519.5,111.3 519.9,108.1 520.3,108.0 520.6,111.0 521.0,114.2 521.4,114.3 521.8,111.6 522.2,110.9 522.6,115.4 523.0,119.0 523.3,117.6 523.7,114.8 524.1,111.0 524.5,106.7 524.9,101.9 525.3,102.0 525.7,110.2 526.0,113.6 526.4,110.9 526.8,107.9 527.2,108.2 527.6,111.4 528.0,114.4 528.4,114.1 528.7,111.3 529.1,111.1 529.5,116.0 529.9,119.0 530.3,117.3 530.7,114.5 531.1,110.6 531.4,106.3 531.8,101.4 532.2,102.7 532.6,111.0 533.0,113.5 533.4,110.5 533.7,107.8 534.1,108.4 534.5,111.8 534.9,114.6 535.3,113.9 535.7,111.1 536.1,111.4 536.4,116.5 536.8,119.0 537.2,117.1 537.6,114.1 538.0,110.2 538.4,105.8 538.8,101.1 539.1,103.4 539.5,111.7 539.9,113.4 540.3,110.1 540.7,107.7 541.1,108.7 541.5,112.2 541.8,114.7 542.2,113.6 542.6,110.9 543.0,111.8 543.4,117.1 543.8,118.9 544.2,116.8 544.5,113.7 544.9,109.7 545.3,105.3 545.7,100.8 546.1,104.3 546.5,112.2 546.9,113.1 547.2,109.8 547.6,107.6 548.0,109.0 548.4,112.6 548.8,114.7 549.2,113.4 549.6,110.7 549.9,112.3 550.3,117.5 550.7,118.8 551.1,116.5 551.5,113.3 551.9,109.3 552.3,104.7 552.6,100.7 553.0,105.2 553.4,112.7 553.8,112.9 554.2,109.4 554.6,107.6 555.0,109.3 555.3,112.9 555.7,114.7 556.1,113.0 556.5,110.6 556.9,112.8 557.3,117.9 557.7,118.6 558.0,116.2 558.4,112.9 558.8,108.8 559.2,104.2 559.6,100.6 560.0,106.1 560.4,113.1 560.7,112.6 561.1,109.1 561.5,107.6 561.9,109.7 562.3,113.3 562.7,114.7 563.1,112.7 563.4,110.5 563.8,113.3 564.2,118.3 564.6,118.4 565.0,115.9 565.4,112.5 565.8,108.4 566.1,103.7 566.5,100.7 566.9,107.1 567.3,113.4 567.7,112.2 568.1,108.8 568.5,107.6 568.8,110.0 569.2,113.6 569.6,114.7 570.0,112.4 570.4,110.5 570.8,113.9 571.2,118.6 571.5,118.2 571.9,115.6 572.3,112.1 572.7,107.9 573.1,103.1 573.5,100.9 573.8,108.0 574.2,113.6 574.6,111.9 575.0,108.5 575.4,107.7 575.8,110.4 576.2,113.8 576.5,114.6 576.9,112.1 577.3,110.6 577.7,114.5 578.1,118.8 578.5,118.0 578.9,115.3 579.2,111.7 579.6,107.5 580.0,102.6 580.4,101.2 580.8,108.9 581.2,113.6 581.6,111.5 581.9,108.2 582.3,107.9 582.7,110.8 583.1,114.1 583.5,114.4 583.9,111.8 584.3,110.7 584.6,115.1 585.0,118.9 585.4,117.7 585.8,115.0 586.2,111.3 586.6,107.0 587.0,102.1 587.3,101.7 587.7,109.8 588.1,113.7 588.5,111.1 588.9,108.0 589.3,108.1 589.7,111.2 590.0,114.3 590.4,114.2 590.8,111.5 591.2,111.0 591.6,115.7 592.0,119.0 592.4,117.5 592.7,114.6 593.1,110.8 593.5,106.5 593.9,101.7 594.3,102.3 594.7,110.6 595.1,113.6 595.4,110.7 595.8,107.8 596.2,108.3 596.6,111.6 597.0,114.5 597.4,114.0 597.8,111.2 598.1,111.2 598.5,116.3 598.9,119.0 599.3,117.2 599.7,114.3 600.1,110.4 600.5,106.0 600.8,101.3 601.2,103.0 601.6,111.3 602.0,113.5 602.4,110.4 602.8,107.7 603.2,108.5 603.5,112.0 603.9,114.6 604.3,113.8 604.7,111.0 605.1,111.6 605.5,116.8 605.9,119.0 606.2,116.9 606.6,113.9 607.0,110.0 607.4,105.5 607.8,100.9 608.2,103.8 608.6,111.9 608.9,113.3 609.3,110.0 609.7,107.6 610.1,108.8 610.5,112.4 610.9,114.7 611.3,113.5 611.6,110.8 612.0,112.0 612.4,117.3 612.8,118.9 613.2,116.7 613.6,113.6 613.9,109.5 614.3,105.0 614.7,100.7 615.1,104.7 615.5,112.5 615.9,113.0 616.3,109.6 616.6,107.6 617.0,109.1 617.4,112.7 617.8,114.7 618.2,113.2 618.6,110.6 619.0,112.5 619.3,117.7 619.7,118.7 620.1,116.4 620.5,113.2 620.9,109.1 621.3,104.5 621.7,100.6 622.0,105.6 622.4,112.9 622.8,112.7 623.2,109.3 623.6,107.6 624.0,109.5 624.4,113.1 624.7,114.7 625.1,112.9 625.5,110.6 625.9,113.0 626.3,118.1 626.7,118.5 627.1,116.1 627.4,112.8 627.8,108.6 628.2,103.9 628.6,100.6 629.0,106.6 629.4,113.2 629.8,112.4 630.1,108.9 630.5,107.6 630.9,109.8 631.3,113.0 631.7,113.5 632.1,111.5 632.5,110.1 632.8,110.8 633.2,110.8 633.6,110.1 634.0,109.8" fill="none" stroke="#262626" stroke-width="0.74" stroke-dasharray="2.3,1.15"/>
</g>
<g style="font-family:'Liberation Serif',serif" font-size="5.75" fill="#111">
<line x1="36.3" x2="166.5" y1="224.1" y2="224.1" stroke="#e4e4e4" stroke-width="0.8"/>
<line x1="36.3" x2="166.5" y1="213.38" y2="213.38" stroke="#e4e4e4" stroke-width="0.8"/>
<line x1="36.3" x2="166.5" y1="202.65" y2="202.65" stroke="#e4e4e4" stroke-width="0.8"/>
<line x1="36.3" x2="166.5" y1="191.93" y2="191.93" stroke="#e4e4e4" stroke-width="0.8"/>
<line x1="36.3" x2="166.5" y1="181.2" y2="181.2" stroke="#e4e4e4" stroke-width="0.8"/>
<line x1="36.3" x2="166.5" y1="170.48" y2="170.48" stroke="#e4e4e4" stroke-width="0.8"/>
<line x1="36.3" x2="166.5" y1="159.75" y2="159.75" stroke="#e4e4e4" stroke-width="0.8"/>
<line x1="36.3" x2="166.5" y1="149.03" y2="149.03" stroke="#e4e4e4" stroke-width="0.8"/>
<line x1="36.3" x2="166.5" y1="138.3" y2="138.3" stroke="#e4e4e4" stroke-width="0.8"/>
<line x1="63.42" x2="63.42" y1="133.5" y2="228.4" stroke="#e4e4e4" stroke-width="0.8"/>
<line x1="90.55" x2="90.55" y1="133.5" y2="228.4" stroke="#e4e4e4" stroke-width="0.8"/>
<line x1="117.67" x2="117.67" y1="133.5" y2="228.4" stroke="#e4e4e4" stroke-width="0.8"/>
<line x1="144.8" x2="144.8" y1="133.5" y2="228.4" stroke="#e4e4e4" stroke-width="0.8"/>
<line x1="36.3" x2="36.3" y1="133.5" y2="228.4" stroke="#555" stroke-width="0.8"/>
<line x1="166.5" x2="166.5" y1="133.5" y2="228.4" stroke="#8a8a8a" stroke-width="0.8"/>
<line x1="36.3" x2="166.5" y1="228.4" y2="228.4" stroke="#555" stroke-width="0.8"/>
<line x1="38.3" x2="166.5" y1="134" y2="134" stroke="#c8c8c8" stroke-width="0.8" stroke-dasharray="0.6,5.4"/>
<text x="34.9" y="226" text-anchor="end">0.00</text>
<text x="34.9" y="215.28" text-anchor="end">0.05</text>
<text x="34.9" y="204.55" text-anchor="end">0.10</text>
<text x="34.9" y="193.83" text-anchor="end">0.15</text>
<text x="34.9" y="183.1" text-anchor="end">0.20</text>
<text x="34.9" y="172.38" text-anchor="end">0.25</text>
<text x="34.9" y="161.65" text-anchor="end">0.30</text>
<text x="34.9" y="150.93" text-anchor="end">0.35</text>
<text x="34.9" y="140.2" text-anchor="end">0.40</text>
<text x="36.3" y="234" text-anchor="middle">0</text>
<text x="63.42" y="234" text-anchor="middle">5</text>
<text x="90.55" y="234" text-anchor="middle">10</text>
<text x="117.67" y="234" text-anchor="middle">15</text>
<text x="144.8" y="234" text-anchor="middle">20</text>
<text x="101" y="239.7" text-anchor="middle">m</text>
<text x="100.6" y="131.7" text-anchor="middle"><tspan font-size="6.6">[<tspan font-weight="bold">W</tspan>]</tspan><tspan font-size="4" dy="1">:d</tspan></text>
<clipPath id="cw0_0"><rect x="36.3" y="133.5" width="130.2" height="94.9"/></clipPath>
<g clip-path="url(#cw0_0)">
<circle cx="41.72" cy="138.3" r="1.95"/>
<circle cx="47.15" cy="224.1" r="1.95"/>
<circle cx="52.57" cy="224.1" r="1.95"/>
<circle cx="58" cy="138.3" r="1.95"/>
<circle cx="63.42" cy="224.1" r="1.95"/>
<circle cx="68.85" cy="224.1" r="1.95"/>
<circle cx="74.28" cy="202.65" r="1.95"/>
<circle cx="79.7" cy="202.65" r="1.95"/>
<circle cx="85.12" cy="224.1" r="1.95"/>
<circle cx="90.55" cy="224.1" r="1.95"/>
<circle cx="95.97" cy="224.1" r="1.95"/>
<circle cx="101.4" cy="224.1" r="1.95"/>
<circle cx="106.82" cy="224.1" r="1.95"/>
<circle cx="112.25" cy="224.1" r="1.95"/>
<circle cx="117.67" cy="224.1" r="1.95"/>
<circle cx="123.1" cy="224.1" r="1.95"/>
<circle cx="128.52" cy="224.1" r="1.95"/>
<circle cx="133.95" cy="224.1" r="1.95"/>
<circle cx="139.38" cy="224.1" r="1.95"/>
<circle cx="144.8" cy="224.1" r="1.95"/>
<circle cx="150.22" cy="224.1" r="1.95"/>
<circle cx="155.65" cy="224.1" r="1.95"/>
<circle cx="161.07" cy="224.1" r="1.95"/>
<circle cx="166.5" cy="224.1" r="1.95"/>
<g fill="#f00">
<circle cx="41.72" cy="224.1" r="1.05"/>
<circle cx="47.15" cy="138.73" r="1.05"/>
<circle cx="52.57" cy="137.87" r="1.05"/>
<circle cx="58" cy="224.1" r="1.05"/>
<circle cx="63.42" cy="202.65" r="1.05"/>
<circle cx="68.85" cy="202.65" r="1.05"/>
<circle cx="74.28" cy="224.1" r="1.05"/>
<circle cx="79.7" cy="224.1" r="1.05"/>
<circle cx="85.12" cy="224.1" r="1.05"/>
<circle cx="90.55" cy="224.1" r="1.05"/>
<circle cx="95.97" cy="224.1" r="1.05"/>
<circle cx="101.4" cy="224.1" r="1.05"/>
<circle cx="106.82" cy="224.1" r="1.05"/>
<circle cx="112.25" cy="224.1" r="1.05"/>
<circle cx="117.67" cy="224.1" r="1.05"/>
<circle cx="123.1" cy="224.1" r="1.05"/>
<circle cx="128.52" cy="224.1" r="1.05"/>
<circle cx="133.95" cy="224.1" r="1.05"/>
<circle cx="139.38" cy="224.1" r="1.05"/>
<circle cx="144.8" cy="224.1" r="1.05"/>
<circle cx="150.22" cy="224.1" r="1.05"/>
<circle cx="155.65" cy="224.1" r="1.05"/>
<circle cx="161.07" cy="224.1" r="1.05"/>
<circle cx="166.5" cy="224.1" r="1.05"/>
</g></g>
<circle cx="142" cy="141.7" r="1.95"/>
<circle cx="142" cy="150.3" r="1.05" fill="#f00"/>
<text x="152.2" y="143.6">k=1</text>
<text x="152.2" y="152.2">k=2</text>
<line x1="354" x2="484.2" y1="224.4" y2="224.4" stroke="#e4e4e4" stroke-width="0.8"/>
<line x1="354" x2="484.2" y1="213.72" y2="213.72" stroke="#e4e4e4" stroke-width="0.8"/>
<line x1="354" x2="484.2" y1="203.05" y2="203.05" stroke="#e4e4e4" stroke-width="0.8"/>
<line x1="354" x2="484.2" y1="192.38" y2="192.38" stroke="#e4e4e4" stroke-width="0.8"/>
<line x1="354" x2="484.2" y1="181.7" y2="181.7" stroke="#e4e4e4" stroke-width="0.8"/>
<line x1="354" x2="484.2" y1="171.03" y2="171.03" stroke="#e4e4e4" stroke-width="0.8"/>
<line x1="354" x2="484.2" y1="160.35" y2="160.35" stroke="#e4e4e4" stroke-width="0.8"/>
<line x1="354" x2="354" y1="133.5" y2="228.4" stroke="#777" stroke-width="0.8"/>
<line x1="484.2" x2="484.2" y1="133.5" y2="228.4" stroke="#bbb" stroke-width="0.6" stroke-dasharray="0.6,2.9"/>
<line x1="354" x2="484.2" y1="228.4" y2="228.4" stroke="#555" stroke-width="0.8"/>
<line x1="356" x2="484.2" y1="134" y2="134" stroke="#c8c8c8" stroke-width="0.8" stroke-dasharray="0.6,5.4"/>
<text x="352.6" y="226.3" text-anchor="end">0.00</text>
<text x="352.6" y="215.62" text-anchor="end">0.05</text>
<text x="352.6" y="204.95" text-anchor="end">0.10</text>
<text x="352.6" y="194.28" text-anchor="end">0.15</text>
<text x="352.6" y="183.6" text-anchor="end">0.20</text>
<text x="352.6" y="172.93" text-anchor="end">0.25</text>
<text x="352.6" y="162.25" text-anchor="end">0.30</text>
<text x="352.6" y="151.58" text-anchor="end">0.35</text>
<text x="352.6" y="140.9" text-anchor="end">0.40</text>
<text x="354" y="234" text-anchor="middle">0</text>
<text x="381.12" y="234" text-anchor="middle">5</text>
<text x="408.25" y="234" text-anchor="middle">10</text>
<text x="435.38" y="234" text-anchor="middle">15</text>
<text x="462.5" y="234" text-anchor="middle">20</text>
<text x="418.7" y="239.7" text-anchor="middle">m</text>
<text x="418.3" y="131.7" text-anchor="middle"><tspan font-size="6.6">[<tspan font-weight="bold">W</tspan>]</tspan><tspan font-size="4" dy="1">:d</tspan></text>
<clipPath id="cw317_0"><rect x="354" y="133.5" width="130.2" height="94.9"/></clipPath>
<g clip-path="url(#cw317_0)">
<circle cx="359.43" cy="224.4" r="1.95"/>
<circle cx="364.85" cy="144.34" r="1.95"/>
<circle cx="370.27" cy="173.16" r="1.95"/>
<circle cx="375.7" cy="180.63" r="1.95"/>
<circle cx="381.12" cy="184.26" r="1.95"/>
<circle cx="386.55" cy="224.4" r="1.95"/>
<circle cx="391.98" cy="224.4" r="1.95"/>
<circle cx="397.4" cy="224.4" r="1.95"/>
<circle cx="402.82" cy="224.4" r="1.95"/>
<circle cx="408.25" cy="224.4" r="1.95"/>
<circle cx="413.68" cy="224.4" r="1.95"/>
<circle cx="419.1" cy="224.4" r="1.95"/>
<circle cx="424.52" cy="224.4" r="1.95"/>
<circle cx="429.95" cy="224.4" r="1.95"/>
<circle cx="435.38" cy="224.4" r="1.95"/>
<circle cx="440.8" cy="224.4" r="1.95"/>
<circle cx="446.23" cy="224.4" r="1.95"/>
<circle cx="451.65" cy="224.4" r="1.95"/>
<circle cx="457.07" cy="224.4" r="1.95"/>
<circle cx="462.5" cy="224.4" r="1.95"/>
<circle cx="467.93" cy="224.4" r="1.95"/>
<circle cx="473.35" cy="224.4" r="1.95"/>
<circle cx="478.77" cy="224.4" r="1.95"/>
<circle cx="484.2" cy="224.4" r="1.95"/>
<g fill="#f00">
<circle cx="359.43" cy="136.87" r="1.05"/>
<circle cx="364.85" cy="224.4" r="1.05"/>
<circle cx="370.27" cy="224.4" r="1.05"/>
<circle cx="375.7" cy="224.4" r="1.05"/>
<circle cx="381.12" cy="224.4" r="1.05"/>
<circle cx="386.55" cy="180.63" r="1.05"/>
<circle cx="391.98" cy="182.34" r="1.05"/>
<circle cx="397.4" cy="182.77" r="1.05"/>
<circle cx="402.82" cy="224.4" r="1.05"/>
<circle cx="408.25" cy="224.4" r="1.05"/>
<circle cx="413.68" cy="224.4" r="1.05"/>
<circle cx="419.1" cy="224.4" r="1.05"/>
<circle cx="424.52" cy="224.4" r="1.05"/>
<circle cx="429.95" cy="224.4" r="1.05"/>
<circle cx="435.38" cy="224.4" r="1.05"/>
<circle cx="440.8" cy="224.4" r="1.05"/>
<circle cx="446.23" cy="224.4" r="1.05"/>
<circle cx="451.65" cy="224.4" r="1.05"/>
<circle cx="457.07" cy="224.4" r="1.05"/>
<circle cx="462.5" cy="224.4" r="1.05"/>
<circle cx="467.93" cy="224.4" r="1.05"/>
<circle cx="473.35" cy="224.4" r="1.05"/>
<circle cx="478.77" cy="224.4" r="1.05"/>
<circle cx="484.2" cy="224.4" r="1.05"/>
</g></g>
<circle cx="459.7" cy="141.7" r="1.95"/>
<circle cx="459.7" cy="150.3" r="1.05" fill="#f00"/>
<text x="469.9" y="143.6">k=1</text>
<text x="469.9" y="152.2">k=2</text>
<line x1="36.3" x2="166.5" y1="448.1" y2="448.1" stroke="#e4e4e4" stroke-width="0.8"/>
<line x1="36.3" x2="166.5" y1="437.38" y2="437.38" stroke="#e4e4e4" stroke-width="0.8"/>
<line x1="36.3" x2="166.5" y1="426.65" y2="426.65" stroke="#e4e4e4" stroke-width="0.8"/>
<line x1="36.3" x2="166.5" y1="415.93" y2="415.93" stroke="#e4e4e4" stroke-width="0.8"/>
<line x1="36.3" x2="166.5" y1="405.2" y2="405.2" stroke="#e4e4e4" stroke-width="0.8"/>
<line x1="36.3" x2="166.5" y1="394.48" y2="394.48" stroke="#e4e4e4" stroke-width="0.8"/>
<line x1="36.3" x2="166.5" y1="383.75" y2="383.75" stroke="#e4e4e4" stroke-width="0.8"/>
<line x1="36.3" x2="166.5" y1="373.02" y2="373.02" stroke="#e4e4e4" stroke-width="0.8"/>
<line x1="36.3" x2="166.5" y1="362.3" y2="362.3" stroke="#e4e4e4" stroke-width="0.8"/>
<line x1="63.42" x2="63.42" y1="357.5" y2="452.4" stroke="#e4e4e4" stroke-width="0.8"/>
<line x1="90.55" x2="90.55" y1="357.5" y2="452.4" stroke="#e4e4e4" stroke-width="0.8"/>
<line x1="117.67" x2="117.67" y1="357.5" y2="452.4" stroke="#e4e4e4" stroke-width="0.8"/>
<line x1="144.8" x2="144.8" y1="357.5" y2="452.4" stroke="#e4e4e4" stroke-width="0.8"/>
<line x1="36.3" x2="36.3" y1="357.5" y2="452.4" stroke="#555" stroke-width="0.8"/>
<line x1="166.5" x2="166.5" y1="357.5" y2="452.4" stroke="#8a8a8a" stroke-width="0.8"/>
<line x1="36.3" x2="166.5" y1="357.5" y2="357.5" stroke="#b0b0b0" stroke-width="1"/>
<text x="34.9" y="450" text-anchor="end">0.00</text>
<text x="34.9" y="439.27" text-anchor="end">0.05</text>
<text x="34.9" y="428.55" text-anchor="end">0.10</text>
<text x="34.9" y="417.82" text-anchor="end">0.15</text>
<text x="34.9" y="407.1" text-anchor="end">0.20</text>
<text x="34.9" y="396.38" text-anchor="end">0.25</text>
<text x="34.9" y="385.65" text-anchor="end">0.30</text>
<text x="34.9" y="374.92" text-anchor="end">0.35</text>
<text x="34.9" y="364.2" text-anchor="end">0.40</text>
<text x="36.3" y="458" text-anchor="middle">0</text>
<text x="63.42" y="458" text-anchor="middle">5</text>
<text x="90.55" y="458" text-anchor="middle">10</text>
<text x="117.67" y="458" text-anchor="middle">15</text>
<text x="144.8" y="458" text-anchor="middle">20</text>
<text x="101" y="463.7" text-anchor="middle">m</text>
<text x="100.6" y="355.7" text-anchor="middle"><tspan font-size="6.6">[<tspan font-weight="bold">W</tspan>]</tspan><tspan font-size="4" dy="1">:d</tspan></text>
<clipPath id="cw0_224"><rect x="36.3" y="357.5" width="130.2" height="94.9"/></clipPath>
<g clip-path="url(#cw0_224)">
<circle cx="41.72" cy="362.3" r="1.95"/>
<circle cx="47.15" cy="448.1" r="1.95"/>
<circle cx="52.57" cy="448.1" r="1.95"/>
<circle cx="58" cy="362.3" r="1.95"/>
<circle cx="63.42" cy="448.1" r="1.95"/>
<circle cx="68.85" cy="448.1" r="1.95"/>
<circle cx="74.28" cy="426.65" r="1.95"/>
<circle cx="79.7" cy="426.65" r="1.95"/>
<circle cx="85.12" cy="448.1" r="1.95"/>
<circle cx="90.55" cy="448.1" r="1.95"/>
<circle cx="95.97" cy="448.1" r="1.95"/>
<circle cx="101.4" cy="448.1" r="1.95"/>
<circle cx="106.82" cy="448.1" r="1.95"/>
<circle cx="112.25" cy="448.1" r="1.95"/>
<circle cx="117.67" cy="448.1" r="1.95"/>
<circle cx="123.1" cy="448.1" r="1.95"/>
<circle cx="128.52" cy="448.1" r="1.95"/>
<circle cx="133.95" cy="448.1" r="1.95"/>
<circle cx="139.38" cy="448.1" r="1.95"/>
<circle cx="144.8" cy="448.1" r="1.95"/>
<circle cx="150.22" cy="448.1" r="1.95"/>
<circle cx="155.65" cy="448.1" r="1.95"/>
<circle cx="161.07" cy="448.1" r="1.95"/>
<circle cx="166.5" cy="448.1" r="1.95"/>
<g fill="#f00">
<circle cx="41.72" cy="448.1" r="1.05"/>
<circle cx="47.15" cy="362.73" r="1.05"/>
<circle cx="52.57" cy="361.87" r="1.05"/>
<circle cx="58" cy="448.1" r="1.05"/>
<circle cx="63.42" cy="426.65" r="1.05"/>
<circle cx="68.85" cy="426.65" r="1.05"/>
<circle cx="74.28" cy="448.1" r="1.05"/>
<circle cx="79.7" cy="448.1" r="1.05"/>
<circle cx="85.12" cy="448.1" r="1.05"/>
<circle cx="90.55" cy="448.1" r="1.05"/>
<circle cx="95.97" cy="448.1" r="1.05"/>
<circle cx="101.4" cy="448.1" r="1.05"/>
<circle cx="106.82" cy="448.1" r="1.05"/>
<circle cx="112.25" cy="448.1" r="1.05"/>
<circle cx="117.67" cy="448.1" r="1.05"/>
<circle cx="123.1" cy="448.1" r="1.05"/>
<circle cx="128.52" cy="448.1" r="1.05"/>
<circle cx="133.95" cy="448.1" r="1.05"/>
<circle cx="139.38" cy="448.1" r="1.05"/>
<circle cx="144.8" cy="448.1" r="1.05"/>
<circle cx="150.22" cy="448.1" r="1.05"/>
<circle cx="155.65" cy="448.1" r="1.05"/>
<circle cx="161.07" cy="448.1" r="1.05"/>
<circle cx="166.5" cy="448.1" r="1.05"/>
</g></g>
<circle cx="142" cy="365.7" r="1.95"/>
<circle cx="142" cy="374.3" r="1.05" fill="#f00"/>
<text x="152.2" y="367.6">k=1</text>
<text x="152.2" y="376.2">k=2</text>
<line x1="353.8" x2="484" y1="448.1" y2="448.1" stroke="#e4e4e4" stroke-width="0.8"/>
<line x1="353.8" x2="484" y1="437.38" y2="437.38" stroke="#e4e4e4" stroke-width="0.8"/>
<line x1="353.8" x2="484" y1="426.65" y2="426.65" stroke="#e4e4e4" stroke-width="0.8"/>
<line x1="353.8" x2="484" y1="415.93" y2="415.93" stroke="#e4e4e4" stroke-width="0.8"/>
<line x1="353.8" x2="484" y1="405.2" y2="405.2" stroke="#e4e4e4" stroke-width="0.8"/>
<line x1="353.8" x2="484" y1="394.48" y2="394.48" stroke="#e4e4e4" stroke-width="0.8"/>
<line x1="353.8" x2="484" y1="383.75" y2="383.75" stroke="#e4e4e4" stroke-width="0.8"/>
<line x1="353.8" x2="484" y1="373.02" y2="373.02" stroke="#e4e4e4" stroke-width="0.8"/>
<line x1="353.8" x2="484" y1="362.3" y2="362.3" stroke="#e4e4e4" stroke-width="0.8"/>
<line x1="353.8" x2="353.8" y1="357.5" y2="452.4" stroke="#999" stroke-width="0.8"/>
<line x1="484" x2="484" y1="357.5" y2="452.4" stroke="#bbb" stroke-width="0.6" stroke-dasharray="0.6,2.9"/>
<line x1="353.8" x2="484" y1="357.5" y2="357.5" stroke="#b0b0b0" stroke-width="1"/>
<text x="352.4" y="450" text-anchor="end">0.00</text>
<text x="352.4" y="439.27" text-anchor="end">0.05</text>
<text x="352.4" y="428.55" text-anchor="end">0.10</text>
<text x="352.4" y="417.82" text-anchor="end">0.15</text>
<text x="352.4" y="407.1" text-anchor="end">0.20</text>
<text x="352.4" y="396.38" text-anchor="end">0.25</text>
<text x="352.4" y="385.65" text-anchor="end">0.30</text>
<text x="352.4" y="374.92" text-anchor="end">0.35</text>
<text x="352.4" y="364.2" text-anchor="end">0.40</text>
<text x="353.8" y="458" text-anchor="middle">0</text>
<text x="380.93" y="458" text-anchor="middle">5</text>
<text x="408.05" y="458" text-anchor="middle">10</text>
<text x="435.18" y="458" text-anchor="middle">15</text>
<text x="462.3" y="458" text-anchor="middle">20</text>
<text x="418.5" y="463.7" text-anchor="middle">m</text>
<text x="418.1" y="355.7" text-anchor="middle"><tspan font-size="6.6">[<tspan font-weight="bold">W</tspan>]</tspan><tspan font-size="4" dy="1">:d</tspan></text>
<clipPath id="cw317_224"><rect x="353.8" y="357.5" width="130.2" height="94.9"/></clipPath>
<g clip-path="url(#cw317_224)">
<circle cx="359.23" cy="362.3" r="1.95"/>
<circle cx="364.65" cy="448.1" r="1.95"/>
<circle cx="370.07" cy="448.1" r="1.95"/>
<circle cx="375.5" cy="362.3" r="1.95"/>
<circle cx="380.93" cy="448.1" r="1.95"/>
<circle cx="386.35" cy="426.65" r="1.95"/>
<circle cx="391.78" cy="448.1" r="1.95"/>
<circle cx="397.2" cy="426.65" r="1.95"/>
<circle cx="402.62" cy="448.1" r="1.95"/>
<circle cx="408.05" cy="448.1" r="1.95"/>
<circle cx="413.48" cy="448.1" r="1.95"/>
<circle cx="418.9" cy="448.1" r="1.95"/>
<circle cx="424.32" cy="448.1" r="1.95"/>
<circle cx="429.75" cy="448.1" r="1.95"/>
<circle cx="435.18" cy="448.1" r="1.95"/>
<circle cx="440.6" cy="448.1" r="1.95"/>
<circle cx="446.02" cy="448.1" r="1.95"/>
<circle cx="451.45" cy="448.1" r="1.95"/>
<circle cx="456.88" cy="448.1" r="1.95"/>
<circle cx="462.3" cy="448.1" r="1.95"/>
<circle cx="467.73" cy="448.1" r="1.95"/>
<circle cx="473.15" cy="448.1" r="1.95"/>
<circle cx="478.57" cy="448.1" r="1.95"/>
<circle cx="484" cy="448.1" r="1.95"/>
<g fill="#f00">
<circle cx="359.23" cy="448.1" r="1.05"/>
<circle cx="364.65" cy="362.3" r="1.05"/>
<circle cx="370.07" cy="362.3" r="1.05"/>
<circle cx="375.5" cy="448.1" r="1.05"/>
<circle cx="380.93" cy="426.65" r="1.05"/>
<circle cx="386.35" cy="448.1" r="1.05"/>
<circle cx="391.78" cy="426.65" r="1.05"/>
<circle cx="397.2" cy="448.1" r="1.05"/>
<circle cx="402.62" cy="448.1" r="1.05"/>
<circle cx="408.05" cy="448.1" r="1.05"/>
<circle cx="413.48" cy="448.1" r="1.05"/>
<circle cx="418.9" cy="448.1" r="1.05"/>
<circle cx="424.32" cy="448.1" r="1.05"/>
<circle cx="429.75" cy="448.1" r="1.05"/>
<circle cx="435.18" cy="448.1" r="1.05"/>
<circle cx="440.6" cy="448.1" r="1.05"/>
<circle cx="446.02" cy="448.1" r="1.05"/>
<circle cx="451.45" cy="448.1" r="1.05"/>
<circle cx="456.88" cy="448.1" r="1.05"/>
<circle cx="462.3" cy="448.1" r="1.05"/>
<circle cx="467.73" cy="448.1" r="1.05"/>
<circle cx="473.15" cy="448.1" r="1.05"/>
<circle cx="478.57" cy="448.1" r="1.05"/>
<circle cx="484" cy="448.1" r="1.05"/>
</g></g>
<circle cx="459.5" cy="365.7" r="1.95"/>
<circle cx="459.5" cy="374.3" r="1.05" fill="#f00"/>
<text x="469.7" y="367.6">k=1</text>
<text x="469.7" y="376.2">k=2</text>
</g>
<g style="font-family:'Liberation Serif',serif" font-size="5.75" fill="#111">
<line x1="192.4" x2="321.6" y1="228.4" y2="228.4" stroke="#888" stroke-width="0.7"/>
<line x1="194.4" x2="321.6" y1="134" y2="134" stroke="#c8c8c8" stroke-width="0.8" stroke-dasharray="0.6,6.1"/>
<line x1="192.4" x2="192.4" y1="133.5" y2="228.4" stroke="#bbb" stroke-width="0.6" stroke-dasharray="0.6,2.9"/>
<line x1="321.6" x2="321.6" y1="133.5" y2="228.4" stroke="#bbb" stroke-width="0.6" stroke-dasharray="0.6,2.9"/>
<text x="190.8" y="226" text-anchor="end">0.000000</text>
<text x="190.8" y="215.5" text-anchor="end">0.000025</text>
<text x="190.8" y="205" text-anchor="end">0.000050</text>
<text x="190.8" y="194.5" text-anchor="end">0.000075</text>
<text x="190.8" y="184" text-anchor="end">0.000100</text>
<text x="190.8" y="173.5" text-anchor="end">0.000125</text>
<text x="190.8" y="163" text-anchor="end">0.000150</text>
<text x="190.8" y="152.5" text-anchor="end">0.000175</text>
<text x="190.8" y="142" text-anchor="end">0.000200</text>
<text x="192.4" y="234" text-anchor="middle">0</text>
<text x="209.54" y="234" text-anchor="middle">20</text>
<text x="226.68" y="234" text-anchor="middle">40</text>
<text x="243.82" y="234" text-anchor="middle">60</text>
<text x="260.96" y="234" text-anchor="middle">80</text>
<text x="278.1" y="234" text-anchor="middle">100</text>
<text x="295.24" y="234" text-anchor="middle">120</text>
<text x="312.38" y="234" text-anchor="middle">140</text>
<text x="256.9" y="239.7" text-anchor="middle">n</text>
<text x="256.9" y="131.7" text-anchor="middle"><tspan font-size="6.6">[<tspan font-weight="bold">H</tspan>]</tspan><tspan font-size="4" dy="1">kn</tspan></text>
<clipPath id="ch0_0"><rect x="192.4" y="133.5" width="129.2" height="94.9"/></clipPath>
<g clip-path="url(#ch0_0)">
<line x1="192.4" x2="195.83" y1="224.1" y2="224.1" stroke="#888" stroke-width="0.75"/>
<line x1="232.68" x2="282.81" y1="224.1" y2="224.1" stroke="#888" stroke-width="0.75"/>
<line x1="319.66" x2="322.66" y1="224.1" y2="224.1" stroke="#888" stroke-width="0.75"/>
<polyline points="195.8,224.1 196.1,223.3 196.4,222.1 196.7,220.8 197.0,219.4 197.3,218.0 197.5,216.4 197.8,214.8 198.1,213.1 198.4,211.4 198.7,209.6 199.0,207.8 199.3,206.0 199.5,204.2 199.8,202.3 200.1,200.4 200.4,198.5 200.7,196.6 201.0,194.7 201.3,192.8 201.5,190.9 201.8,189.0 202.1,187.1 202.4,185.2 202.7,183.4 203.0,181.5 203.3,179.6 203.5,177.8 203.8,176.0 204.1,174.2 204.4,172.4 204.7,170.7 205.0,169.0 205.3,167.3 205.5,165.6 205.8,164.0 206.1,162.4 206.4,160.9 206.7,159.4 207.0,157.9 207.3,156.5 207.5,155.1 207.8,153.8 208.1,152.5 208.4,151.3 208.7,150.1 209.0,149.0 209.3,147.9 209.5,146.9 209.8,145.9 210.1,145.0 210.4,144.1 210.7,143.3 211.0,142.6 211.3,141.9 211.5,141.3 211.8,140.7 212.1,140.2 212.4,139.8 212.7,139.4 213.0,139.1 213.3,138.8 213.5,138.6 213.8,138.5 214.1,138.4 214.4,138.4 214.7,138.5 215.0,138.6 215.3,138.8 215.5,139.1 215.8,139.4 216.1,139.8 216.4,140.2 216.7,140.7 217.0,141.3 217.3,141.9 217.5,142.6 217.8,143.3 218.1,144.1 218.4,145.0 218.7,145.9 219.0,146.9 219.3,147.9 219.5,149.0 219.8,150.1 220.1,151.3 220.4,152.5 220.7,153.8 221.0,155.1 221.3,156.5 221.5,157.9 221.8,159.4 222.1,160.9 222.4,162.4 222.7,164.0 223.0,165.6 223.3,167.3 223.5,169.0 223.8,170.7 224.1,172.4 224.4,174.2 224.7,176.0 225.0,177.8 225.3,179.6 225.5,181.5 225.8,183.4 226.1,185.2 226.4,187.1 226.7,189.0 227.0,190.9 227.3,192.8 227.5,194.7 227.8,196.6 228.1,198.5 228.4,200.4 228.7,202.3 229.0,204.2 229.3,206.0 229.5,207.8 229.8,209.6 230.1,211.4 230.4,213.1 230.7,214.8 231.0,216.4 231.3,218.0 231.5,219.4 231.8,220.8 232.1,222.1 232.4,223.3 232.7,224.1" fill="none" stroke="#222" stroke-width="0.7" stroke-dasharray="2.2,0.9"/>
<polyline points="282.8,224.1 283.1,223.3 283.4,222.1 283.7,220.8 284.0,219.4 284.2,218.0 284.5,216.4 284.8,214.8 285.1,213.1 285.4,211.4 285.7,209.6 286.0,207.8 286.2,206.0 286.5,204.2 286.8,202.3 287.1,200.4 287.4,198.5 287.7,196.6 288.0,194.7 288.2,192.8 288.5,190.9 288.8,189.0 289.1,187.1 289.4,185.2 289.7,183.4 290.0,181.5 290.2,179.6 290.5,177.8 290.8,176.0 291.1,174.2 291.4,172.4 291.7,170.7 292.0,169.0 292.2,167.3 292.5,165.6 292.8,164.0 293.1,162.4 293.4,160.9 293.7,159.4 294.0,157.9 294.2,156.5 294.5,155.1 294.8,153.8 295.1,152.5 295.4,151.3 295.7,150.1 296.0,149.0 296.2,147.9 296.5,146.9 296.8,145.9 297.1,145.0 297.4,144.1 297.7,143.3 298.0,142.6 298.2,141.9 298.5,141.3 298.8,140.7 299.1,140.2 299.4,139.8 299.7,139.4 300.0,139.1 300.2,138.8 300.5,138.6 300.8,138.5 301.1,138.4 301.4,138.4 301.7,138.5 302.0,138.6 302.2,138.8 302.5,139.1 302.8,139.4 303.1,139.8 303.4,140.2 303.7,140.7 304.0,141.3 304.2,141.9 304.5,142.6 304.8,143.3 305.1,144.1 305.4,145.0 305.7,145.9 306.0,146.9 306.2,147.9 306.5,149.0 306.8,150.1 307.1,151.3 307.4,152.5 307.7,153.8 308.0,155.1 308.2,156.5 308.5,157.9 308.8,159.4 309.1,160.9 309.4,162.4 309.7,164.0 310.0,165.6 310.2,167.3 310.5,169.0 310.8,170.7 311.1,172.4 311.4,174.2 311.7,176.0 312.0,177.8 312.2,179.6 312.5,181.5 312.8,183.4 313.1,185.2 313.4,187.1 313.7,189.0 314.0,190.9 314.2,192.8 314.5,194.7 314.8,196.6 315.1,198.5 315.4,200.4 315.7,202.3 316.0,204.2 316.2,206.0 316.5,207.8 316.8,209.6 317.1,211.4 317.4,213.1 317.7,214.8 318.0,216.4 318.2,218.0 318.5,219.4 318.8,220.8 319.1,222.1 319.4,223.3 319.7,224.1" fill="none" stroke="#222" stroke-width="0.7" stroke-dasharray="2.2,0.9"/>
<line x1="192.4" x2="239.11" y1="224.1" y2="224.1" stroke="#f88" stroke-width="0.75"/>
<line x1="275.96" x2="282.81" y1="224.1" y2="224.1" stroke="#f88" stroke-width="0.75"/>
<line x1="319.66" x2="322.66" y1="224.1" y2="224.1" stroke="#f88" stroke-width="0.75"/>
<polyline points="239.1,224.1 239.4,223.3 239.7,222.1 240.0,220.8 240.2,219.4 240.5,218.0 240.8,216.4 241.1,214.8 241.4,213.1 241.7,211.4 242.0,209.6 242.2,207.8 242.5,206.0 242.8,204.2 243.1,202.3 243.4,200.4 243.7,198.5 244.0,196.6 244.2,194.7 244.5,192.8 244.8,190.9 245.1,189.0 245.4,187.1 245.7,185.2 246.0,183.4 246.2,181.5 246.5,179.6 246.8,177.8 247.1,176.0 247.4,174.2 247.7,172.4 248.0,170.7 248.2,169.0 248.5,167.3 248.8,165.6 249.1,164.0 249.4,162.4 249.7,160.9 250.0,159.4 250.2,157.9 250.5,156.5 250.8,155.1 251.1,153.8 251.4,152.5 251.7,151.3 252.0,150.1 252.2,149.0 252.5,147.9 252.8,146.9 253.1,145.9 253.4,145.0 253.7,144.1 254.0,143.3 254.2,142.6 254.5,141.9 254.8,141.3 255.1,140.7 255.4,140.2 255.7,139.8 256.0,139.4 256.2,139.1 256.5,138.8 256.8,138.6 257.1,138.5 257.4,138.4 257.7,138.4 258.0,138.5 258.2,138.6 258.5,138.8 258.8,139.1 259.1,139.4 259.4,139.8 259.7,140.2 260.0,140.7 260.2,141.3 260.5,141.9 260.8,142.6 261.1,143.3 261.4,144.1 261.7,145.0 262.0,145.9 262.2,146.9 262.5,147.9 262.8,149.0 263.1,150.1 263.4,151.3 263.7,152.5 264.0,153.8 264.2,155.1 264.5,156.5 264.8,157.9 265.1,159.4 265.4,160.9 265.7,162.4 266.0,164.0 266.2,165.6 266.5,167.3 266.8,169.0 267.1,170.7 267.4,172.4 267.7,174.2 268.0,176.0 268.2,177.8 268.5,179.6 268.8,181.5 269.1,183.4 269.4,185.2 269.7,187.1 270.0,189.0 270.2,190.9 270.5,192.8 270.8,194.7 271.1,196.6 271.4,198.5 271.7,200.4 272.0,202.3 272.2,204.2 272.5,206.0 272.8,207.8 273.1,209.6 273.4,211.4 273.7,213.1 274.0,214.8 274.2,216.4 274.5,218.0 274.8,219.4 275.1,220.8 275.4,222.1 275.7,223.3 276.0,224.1" fill="none" stroke="#f33" stroke-width="0.6" stroke-dasharray="2.2,0.9" stroke-dashoffset="1.4"/>
<polyline points="282.8,224.1 283.1,223.3 283.4,222.1 283.7,220.8 284.0,219.4 284.2,218.0 284.5,216.4 284.8,214.8 285.1,213.1 285.4,211.4 285.7,209.6 286.0,207.8 286.2,206.0 286.5,204.2 286.8,202.3 287.1,200.4 287.4,198.5 287.7,196.6 288.0,194.7 288.2,192.8 288.5,190.9 288.8,189.0 289.1,187.1 289.4,185.2 289.7,183.4 290.0,181.5 290.2,179.6 290.5,177.8 290.8,176.0 291.1,174.2 291.4,172.4 291.7,170.7 292.0,169.0 292.2,167.3 292.5,165.6 292.8,164.0 293.1,162.4 293.4,160.9 293.7,159.4 294.0,157.9 294.2,156.5 294.5,155.1 294.8,153.8 295.1,152.5 295.4,151.3 295.7,150.1 296.0,149.0 296.2,147.9 296.5,146.9 296.8,145.9 297.1,145.0 297.4,144.1 297.7,143.3 298.0,142.6 298.2,141.9 298.5,141.3 298.8,140.7 299.1,140.2 299.4,139.8 299.7,139.4 300.0,139.1 300.2,138.8 300.5,138.6 300.8,138.5 301.1,138.4 301.4,138.4 301.7,138.5 302.0,138.6 302.2,138.8 302.5,139.1 302.8,139.4 303.1,139.8 303.4,140.2 303.7,140.7 304.0,141.3 304.2,141.9 304.5,142.6 304.8,143.3 305.1,144.1 305.4,145.0 305.7,145.9 306.0,146.9 306.2,147.9 306.5,149.0 306.8,150.1 307.1,151.3 307.4,152.5 307.7,153.8 308.0,155.1 308.2,156.5 308.5,157.9 308.8,159.4 309.1,160.9 309.4,162.4 309.7,164.0 310.0,165.6 310.2,167.3 310.5,169.0 310.8,170.7 311.1,172.4 311.4,174.2 311.7,176.0 312.0,177.8 312.2,179.6 312.5,181.5 312.8,183.4 313.1,185.2 313.4,187.1 313.7,189.0 314.0,190.9 314.2,192.8 314.5,194.7 314.8,196.6 315.1,198.5 315.4,200.4 315.7,202.3 316.0,204.2 316.2,206.0 316.5,207.8 316.8,209.6 317.1,211.4 317.4,213.1 317.7,214.8 318.0,216.4 318.2,218.0 318.5,219.4 318.8,220.8 319.1,222.1 319.4,223.3 319.7,224.1" fill="none" stroke="#f33" stroke-width="0.6" stroke-dasharray="2.2,0.9" stroke-dashoffset="1.4"/>
</g>
<line x1="510.4" x2="639.6" y1="228.4" y2="228.4" stroke="#888" stroke-width="0.7"/>
<line x1="512.4" x2="639.6" y1="134" y2="134" stroke="#c8c8c8" stroke-width="0.8" stroke-dasharray="0.6,6.1"/>
<line x1="510.4" x2="510.4" y1="133.5" y2="228.4" stroke="#888" stroke-width="0.7"/>
<line x1="639.6" x2="639.6" y1="133.5" y2="228.4" stroke="#bbb" stroke-width="0.6" stroke-dasharray="0.6,2.9"/>
<text x="508.8" y="226" text-anchor="end">0.00000</text>
<text x="508.8" y="209.4" text-anchor="end">0.00005</text>
<text x="508.8" y="192.8" text-anchor="end">0.00010</text>
<text x="508.8" y="176.2" text-anchor="end">0.00015</text>
<text x="508.8" y="159.6" text-anchor="end">0.00020</text>
<text x="508.8" y="143" text-anchor="end">0.00025</text>
<text x="510.4" y="234" text-anchor="middle">0</text>
<text x="527.54" y="234" text-anchor="middle">20</text>
<text x="544.68" y="234" text-anchor="middle">40</text>
<text x="561.82" y="234" text-anchor="middle">60</text>
<text x="578.96" y="234" text-anchor="middle">80</text>
<text x="596.1" y="234" text-anchor="middle">100</text>
<text x="613.24" y="234" text-anchor="middle">120</text>
<text x="630.38" y="234" text-anchor="middle">140</text>
<text x="574.9" y="239.7" text-anchor="middle">n</text>
<text x="574.9" y="131.7" text-anchor="middle"><tspan font-size="6.6">[<tspan font-weight="bold">H</tspan>]</tspan><tspan font-size="4" dy="1">kn</tspan></text>
<clipPath id="ch318_0"><rect x="510.4" y="133.5" width="129.2" height="94.9"/></clipPath>
<g clip-path="url(#ch318_0)">
<line x1="510.4" x2="514.09" y1="224.1" y2="224.1" stroke="#888" stroke-width="0.75"/>
<line x1="551.11" x2="600.81" y1="224.1" y2="224.1" stroke="#888" stroke-width="0.75"/>
<line x1="637.66" x2="640.66" y1="224.1" y2="224.1" stroke="#888" stroke-width="0.75"/>
<polyline points="513.8,224.1 514.7,223.1 515.5,220.3 516.4,216.6 517.3,212.1 518.1,207.1 519.0,202.5 519.8,196.5 520.7,191.2 521.5,185.6 522.4,181.3 523.3,174.2 524.1,181.5 525.0,162.1 525.8,173.7 526.7,156.2 527.5,181.3 528.4,145.4 529.3,169.0 530.1,142.3 531.0,156.1 531.8,136.8 532.7,168.8 533.5,138.2 534.4,159.3 535.3,142.2 536.1,163.6 537.0,150.8 537.8,168.8 538.7,153.4 539.5,166.4 540.4,165.8 541.3,178.1 542.1,175.2 543.0,182.8 543.8,185.9 544.7,192.8 545.5,197.4 546.4,203.5 547.3,208.3 548.1,213.1 549.0,217.4 549.8,221.0 550.7,223.5" fill="none" stroke="#111" stroke-width="0.7" stroke-dasharray="2.6,0.5"/>
<polyline points="600.4,224.1 601.2,223.5 602.1,220.9 603.0,217.3 603.8,213.0 604.7,208.2 605.5,202.8 606.4,197.7 607.2,191.3 608.1,186.4 609.0,179.7 609.8,182.0 610.7,168.0 611.5,173.0 612.4,158.3 613.2,159.8 614.1,149.6 615.0,153.1 615.8,147.5 616.7,186.4 617.5,138.5 618.4,171.3 619.2,142.3 620.1,162.0 621.0,139.5 621.8,187.4 622.7,147.6 623.5,177.7 624.4,149.8 625.2,171.1 626.1,160.5 627.0,179.2 627.8,167.9 628.7,180.5 629.5,179.8 630.4,187.6 631.2,191.3 632.1,198.0 633.0,202.8 633.8,208.2 634.7,213.0 635.5,217.3 636.4,220.9 637.2,223.5" fill="none" stroke="#111" stroke-width="0.7" stroke-dasharray="2.6,0.5"/>
<line x1="510.4" x2="557.11" y1="224.1" y2="224.1" stroke="#f88" stroke-width="0.75"/>
<line x1="594.39" x2="600.81" y1="224.1" y2="224.1" stroke="#f88" stroke-width="0.75"/>
<line x1="637.66" x2="640.66" y1="224.1" y2="224.1" stroke="#f88" stroke-width="0.75"/>
<polyline points="556.7,224.1 557.5,223.5 558.4,221.0 559.2,217.5 560.1,213.2 561.0,208.5 561.8,203.5 562.7,197.8 563.5,193.5 564.4,187.1 565.2,184.2 566.1,176.1 567.0,180.1 567.8,163.8 568.7,172.8 569.5,155.9 570.4,169.4 571.2,150.2 572.1,171.4 573.0,144.7 573.8,151.1 574.7,143.5 575.5,185.5 576.4,137.4 577.2,177.1 578.1,144.7 579.0,165.0 579.8,144.6 580.7,162.5 581.5,153.4 582.4,174.7 583.2,160.9 584.1,176.1 585.0,172.9 585.8,179.3 586.7,183.3 587.5,191.4 588.4,194.9 589.2,200.9 590.1,205.8 591.0,210.9 591.8,215.4 592.7,219.3 593.5,222.4 594.4,224.1" fill="none" stroke="#f44" stroke-width="0.45" stroke-dasharray="2.4,0.6" stroke-dashoffset="1.4"/>
<polyline points="600.4,224.1 601.2,223.5 602.1,220.9 603.0,217.3 603.8,213.0 604.7,208.3 605.5,202.7 606.4,198.3 607.2,191.9 608.1,187.7 609.0,179.7 609.8,177.0 610.7,170.5 611.5,168.9 612.4,157.8 613.2,169.1 614.1,149.7 615.0,175.5 615.8,146.4 616.7,170.8 617.5,143.1 618.4,147.3 619.2,139.5 620.1,179.5 621.0,141.6 621.8,151.7 622.7,146.8 623.5,181.9 624.4,149.6 625.2,171.0 626.1,159.9 627.0,171.3 627.8,168.8 628.7,178.6 629.5,180.5 630.4,189.4 631.2,191.2 632.1,198.4 633.0,202.9 633.8,208.3 634.7,213.0 635.5,217.3 636.4,220.9 637.2,223.5" fill="none" stroke="#f44" stroke-width="0.45" stroke-dasharray="2.4,0.6" stroke-dashoffset="1.4"/>
</g>
<line x1="192.4" x2="321.6" y1="357.5" y2="357.5" stroke="#b0b0b0" stroke-width="1"/>
<line x1="192.4" x2="192.4" y1="357.5" y2="452.4" stroke="#bbb" stroke-width="0.6" stroke-dasharray="0.6,2.9"/>
<line x1="321.6" x2="321.6" y1="357.5" y2="452.4" stroke="#bbb" stroke-width="0.6" stroke-dasharray="0.6,2.9"/>
<text x="190.8" y="450" text-anchor="end">0.000000</text>
<text x="190.8" y="439.44" text-anchor="end">0.000025</text>
<text x="190.8" y="428.88" text-anchor="end">0.000050</text>
<text x="190.8" y="418.31" text-anchor="end">0.000075</text>
<text x="190.8" y="407.75" text-anchor="end">0.000100</text>
<text x="190.8" y="397.19" text-anchor="end">0.000125</text>
<text x="190.8" y="386.62" text-anchor="end">0.000150</text>
<text x="190.8" y="376.06" text-anchor="end">0.000175</text>
<text x="190.8" y="365.5" text-anchor="end">0.000200</text>
<text x="192.4" y="458" text-anchor="middle">0</text>
<text x="209.54" y="458" text-anchor="middle">20</text>
<text x="226.68" y="458" text-anchor="middle">40</text>
<text x="243.82" y="458" text-anchor="middle">60</text>
<text x="260.96" y="458" text-anchor="middle">80</text>
<text x="278.1" y="458" text-anchor="middle">100</text>
<text x="295.24" y="458" text-anchor="middle">120</text>
<text x="312.38" y="458" text-anchor="middle">140</text>
<text x="256.9" y="463.7" text-anchor="middle">n</text>
<text x="256.9" y="355.7" text-anchor="middle"><tspan font-size="6.6">[<tspan font-weight="bold">H</tspan>]</tspan><tspan font-size="4" dy="1">kn</tspan></text>
<clipPath id="ch0_224"><rect x="192.4" y="357.5" width="129.2" height="94.9"/></clipPath>
<g clip-path="url(#ch0_224)">
<line x1="192.4" x2="195.83" y1="448.1" y2="448.1" stroke="#888" stroke-width="0.75"/>
<line x1="232.68" x2="282.81" y1="448.1" y2="448.1" stroke="#888" stroke-width="0.75"/>
<line x1="319.66" x2="322.66" y1="448.1" y2="448.1" stroke="#888" stroke-width="0.75"/>
<polyline points="195.8,448.1 196.1,447.3 196.4,446.1 196.7,444.8 197.0,443.4 197.3,441.9 197.5,440.3 197.8,438.7 198.1,437.0 198.4,435.3 198.7,433.5 199.0,431.7 199.3,429.9 199.5,428.1 199.8,426.2 200.1,424.3 200.4,422.4 200.7,420.5 201.0,418.6 201.3,416.7 201.5,414.7 201.8,412.8 202.1,410.9 202.4,409.0 202.7,407.1 203.0,405.2 203.3,403.4 203.5,401.5 203.8,399.7 204.1,397.9 204.4,396.1 204.7,394.4 205.0,392.6 205.3,390.9 205.5,389.3 205.8,387.7 206.1,386.1 206.4,384.5 206.7,383.0 207.0,381.5 207.3,380.1 207.5,378.7 207.8,377.4 208.1,376.1 208.4,374.9 208.7,373.7 209.0,372.5 209.3,371.4 209.5,370.4 209.8,369.4 210.1,368.5 210.4,367.6 210.7,366.8 211.0,366.1 211.3,365.4 211.5,364.8 211.8,364.2 212.1,363.7 212.4,363.3 212.7,362.9 213.0,362.6 213.3,362.3 213.5,362.1 213.8,362.0 214.1,361.9 214.4,361.9 214.7,362.0 215.0,362.1 215.3,362.3 215.5,362.6 215.8,362.9 216.1,363.3 216.4,363.7 216.7,364.2 217.0,364.8 217.3,365.4 217.5,366.1 217.8,366.8 218.1,367.6 218.4,368.5 218.7,369.4 219.0,370.4 219.3,371.4 219.5,372.5 219.8,373.7 220.1,374.9 220.4,376.1 220.7,377.4 221.0,378.7 221.3,380.1 221.5,381.5 221.8,383.0 222.1,384.5 222.4,386.1 222.7,387.7 223.0,389.3 223.3,390.9 223.5,392.6 223.8,394.4 224.1,396.1 224.4,397.9 224.7,399.7 225.0,401.5 225.3,403.4 225.5,405.2 225.8,407.1 226.1,409.0 226.4,410.9 226.7,412.8 227.0,414.7 227.3,416.7 227.5,418.6 227.8,420.5 228.1,422.4 228.4,424.3 228.7,426.2 229.0,428.1 229.3,429.9 229.5,431.7 229.8,433.5 230.1,435.3 230.4,437.0 230.7,438.7 231.0,440.3 231.3,441.9 231.5,443.4 231.8,444.8 232.1,446.1 232.4,447.3 232.7,448.1" fill="none" stroke="#222" stroke-width="0.7" stroke-dasharray="2.2,0.9"/>
<polyline points="282.8,448.1 283.1,447.3 283.4,446.1 283.7,444.8 284.0,443.4 284.2,441.9 284.5,440.3 284.8,438.7 285.1,437.0 285.4,435.3 285.7,433.5 286.0,431.7 286.2,429.9 286.5,428.1 286.8,426.2 287.1,424.3 287.4,422.4 287.7,420.5 288.0,418.6 288.2,416.7 288.5,414.7 288.8,412.8 289.1,410.9 289.4,409.0 289.7,407.1 290.0,405.2 290.2,403.4 290.5,401.5 290.8,399.7 291.1,397.9 291.4,396.1 291.7,394.4 292.0,392.6 292.2,390.9 292.5,389.3 292.8,387.7 293.1,386.1 293.4,384.5 293.7,383.0 294.0,381.5 294.2,380.1 294.5,378.7 294.8,377.4 295.1,376.1 295.4,374.9 295.7,373.7 296.0,372.5 296.2,371.4 296.5,370.4 296.8,369.4 297.1,368.5 297.4,367.6 297.7,366.8 298.0,366.1 298.2,365.4 298.5,364.8 298.8,364.2 299.1,363.7 299.4,363.3 299.7,362.9 300.0,362.6 300.2,362.3 300.5,362.1 300.8,362.0 301.1,361.9 301.4,361.9 301.7,362.0 302.0,362.1 302.2,362.3 302.5,362.6 302.8,362.9 303.1,363.3 303.4,363.7 303.7,364.2 304.0,364.8 304.2,365.4 304.5,366.1 304.8,366.8 305.1,367.6 305.4,368.5 305.7,369.4 306.0,370.4 306.2,371.4 306.5,372.5 306.8,373.7 307.1,374.9 307.4,376.1 307.7,377.4 308.0,378.7 308.2,380.1 308.5,381.5 308.8,383.0 309.1,384.5 309.4,386.1 309.7,387.7 310.0,389.3 310.2,390.9 310.5,392.6 310.8,394.4 311.1,396.1 311.4,397.9 311.7,399.7 312.0,401.5 312.2,403.4 312.5,405.2 312.8,407.1 313.1,409.0 313.4,410.9 313.7,412.8 314.0,414.7 314.2,416.7 314.5,418.6 314.8,420.5 315.1,422.4 315.4,424.3 315.7,426.2 316.0,428.1 316.2,429.9 316.5,431.7 316.8,433.5 317.1,435.3 317.4,437.0 317.7,438.7 318.0,440.3 318.2,441.9 318.5,443.4 318.8,444.8 319.1,446.1 319.4,447.3 319.7,448.1" fill="none" stroke="#222" stroke-width="0.7" stroke-dasharray="2.2,0.9"/>
<line x1="192.4" x2="239.11" y1="448.1" y2="448.1" stroke="#f88" stroke-width="0.75"/>
<line x1="275.96" x2="282.81" y1="448.1" y2="448.1" stroke="#f88" stroke-width="0.75"/>
<line x1="319.66" x2="322.66" y1="448.1" y2="448.1" stroke="#f88" stroke-width="0.75"/>
<polyline points="239.1,448.1 239.4,447.3 239.7,446.1 240.0,444.8 240.2,443.4 240.5,441.9 240.8,440.3 241.1,438.7 241.4,437.0 241.7,435.3 242.0,433.5 242.2,431.7 242.5,429.9 242.8,428.1 243.1,426.2 243.4,424.3 243.7,422.4 244.0,420.5 244.2,418.6 244.5,416.7 244.8,414.7 245.1,412.8 245.4,410.9 245.7,409.0 246.0,407.1 246.2,405.2 246.5,403.4 246.8,401.5 247.1,399.7 247.4,397.9 247.7,396.1 248.0,394.4 248.2,392.6 248.5,390.9 248.8,389.3 249.1,387.7 249.4,386.1 249.7,384.5 250.0,383.0 250.2,381.5 250.5,380.1 250.8,378.7 251.1,377.4 251.4,376.1 251.7,374.9 252.0,373.7 252.2,372.5 252.5,371.4 252.8,370.4 253.1,369.4 253.4,368.5 253.7,367.6 254.0,366.8 254.2,366.1 254.5,365.4 254.8,364.8 255.1,364.2 255.4,363.7 255.7,363.3 256.0,362.9 256.2,362.6 256.5,362.3 256.8,362.1 257.1,362.0 257.4,361.9 257.7,361.9 258.0,362.0 258.2,362.1 258.5,362.3 258.8,362.6 259.1,362.9 259.4,363.3 259.7,363.7 260.0,364.2 260.2,364.8 260.5,365.4 260.8,366.1 261.1,366.8 261.4,367.6 261.7,368.5 262.0,369.4 262.2,370.4 262.5,371.4 262.8,372.5 263.1,373.7 263.4,374.9 263.7,376.1 264.0,377.4 264.2,378.7 264.5,380.1 264.8,381.5 265.1,383.0 265.4,384.5 265.7,386.1 266.0,387.7 266.2,389.3 266.5,390.9 266.8,392.6 267.1,394.4 267.4,396.1 267.7,397.9 268.0,399.7 268.2,401.5 268.5,403.4 268.8,405.2 269.1,407.1 269.4,409.0 269.7,410.9 270.0,412.8 270.2,414.7 270.5,416.7 270.8,418.6 271.1,420.5 271.4,422.4 271.7,424.3 272.0,426.2 272.2,428.1 272.5,429.9 272.8,431.7 273.1,433.5 273.4,435.3 273.7,437.0 274.0,438.7 274.2,440.3 274.5,441.9 274.8,443.4 275.1,444.8 275.4,446.1 275.7,447.3 276.0,448.1" fill="none" stroke="#f33" stroke-width="0.6" stroke-dasharray="2.2,0.9" stroke-dashoffset="1.4"/>
<polyline points="282.8,448.1 283.1,447.3 283.4,446.1 283.7,444.8 284.0,443.4 284.2,441.9 284.5,440.3 284.8,438.7 285.1,437.0 285.4,435.3 285.7,433.5 286.0,431.7 286.2,429.9 286.5,428.1 286.8,426.2 287.1,424.3 287.4,422.4 287.7,420.5 288.0,418.6 288.2,416.7 288.5,414.7 288.8,412.8 289.1,410.9 289.4,409.0 289.7,407.1 290.0,405.2 290.2,403.4 290.5,401.5 290.8,399.7 291.1,397.9 291.4,396.1 291.7,394.4 292.0,392.6 292.2,390.9 292.5,389.3 292.8,387.7 293.1,386.1 293.4,384.5 293.7,383.0 294.0,381.5 294.2,380.1 294.5,378.7 294.8,377.4 295.1,376.1 295.4,374.9 295.7,373.7 296.0,372.5 296.2,371.4 296.5,370.4 296.8,369.4 297.1,368.5 297.4,367.6 297.7,366.8 298.0,366.1 298.2,365.4 298.5,364.8 298.8,364.2 299.1,363.7 299.4,363.3 299.7,362.9 300.0,362.6 300.2,362.3 300.5,362.1 300.8,362.0 301.1,361.9 301.4,361.9 301.7,362.0 302.0,362.1 302.2,362.3 302.5,362.6 302.8,362.9 303.1,363.3 303.4,363.7 303.7,364.2 304.0,364.8 304.2,365.4 304.5,366.1 304.8,366.8 305.1,367.6 305.4,368.5 305.7,369.4 306.0,370.4 306.2,371.4 306.5,372.5 306.8,373.7 307.1,374.9 307.4,376.1 307.7,377.4 308.0,378.7 308.2,380.1 308.5,381.5 308.8,383.0 309.1,384.5 309.4,386.1 309.7,387.7 310.0,389.3 310.2,390.9 310.5,392.6 310.8,394.4 311.1,396.1 311.4,397.9 311.7,399.7 312.0,401.5 312.2,403.4 312.5,405.2 312.8,407.1 313.1,409.0 313.4,410.9 313.7,412.8 314.0,414.7 314.2,416.7 314.5,418.6 314.8,420.5 315.1,422.4 315.4,424.3 315.7,426.2 316.0,428.1 316.2,429.9 316.5,431.7 316.8,433.5 317.1,435.3 317.4,437.0 317.7,438.7 318.0,440.3 318.2,441.9 318.5,443.4 318.8,444.8 319.1,446.1 319.4,447.3 319.7,448.1" fill="none" stroke="#f33" stroke-width="0.6" stroke-dasharray="2.2,0.9" stroke-dashoffset="1.4"/>
</g>
<line x1="510.4" x2="639.6" y1="357.5" y2="357.5" stroke="#b0b0b0" stroke-width="1"/>
<line x1="510.4" x2="510.4" y1="357.5" y2="452.4" stroke="#aaa" stroke-width="0.7"/>
<line x1="639.6" x2="639.6" y1="357.5" y2="452.4" stroke="#aaa" stroke-width="0.8"/>
<text x="508.8" y="450" text-anchor="end">0.000000</text>
<text x="508.8" y="439.44" text-anchor="end">0.000025</text>
<text x="508.8" y="428.88" text-anchor="end">0.000050</text>
<text x="508.8" y="418.31" text-anchor="end">0.000075</text>
<text x="508.8" y="407.75" text-anchor="end">0.000100</text>
<text x="508.8" y="397.19" text-anchor="end">0.000125</text>
<text x="508.8" y="386.62" text-anchor="end">0.000150</text>
<text x="508.8" y="376.06" text-anchor="end">0.000175</text>
<text x="508.8" y="365.5" text-anchor="end">0.000200</text>
<text x="510.4" y="458" text-anchor="middle">0</text>
<text x="527.54" y="458" text-anchor="middle">20</text>
<text x="544.68" y="458" text-anchor="middle">40</text>
<text x="561.82" y="458" text-anchor="middle">60</text>
<text x="578.96" y="458" text-anchor="middle">80</text>
<text x="596.1" y="458" text-anchor="middle">100</text>
<text x="613.24" y="458" text-anchor="middle">120</text>
<text x="630.38" y="458" text-anchor="middle">140</text>
<text x="574.9" y="463.7" text-anchor="middle">n</text>
<text x="574.9" y="355.7" text-anchor="middle"><tspan font-size="6.6">[<tspan font-weight="bold">H</tspan>]</tspan><tspan font-size="4" dy="1">kn</tspan></text>
<clipPath id="ch318_224"><rect x="510.4" y="357.5" width="129.2" height="94.9"/></clipPath>
<g clip-path="url(#ch318_224)">
<line x1="510.4" x2="513.83" y1="448.1" y2="448.1" stroke="#888" stroke-width="0.75"/>
<line x1="550.68" x2="600.81" y1="448.1" y2="448.1" stroke="#888" stroke-width="0.75"/>
<line x1="637.66" x2="640.66" y1="448.1" y2="448.1" stroke="#888" stroke-width="0.75"/>
<polyline points="513.8,448.1 514.1,447.3 514.4,446.1 514.7,444.8 515.0,443.4 515.3,441.9 515.5,440.3 515.8,438.7 516.1,437.0 516.4,435.3 516.7,433.5 517.0,431.7 517.3,429.9 517.5,428.1 517.8,426.2 518.1,424.3 518.4,422.4 518.7,420.5 519.0,418.6 519.3,416.7 519.5,414.7 519.8,412.8 520.1,410.9 520.4,409.0 520.7,407.1 521.0,405.2 521.3,403.4 521.5,401.5 521.8,399.7 522.1,397.9 522.4,396.1 522.7,394.4 523.0,392.6 523.3,390.9 523.5,389.3 523.8,387.7 524.1,386.1 524.4,384.5 524.7,383.0 525.0,381.5 525.3,380.1 525.5,378.7 525.8,377.4 526.1,376.1 526.4,374.9 526.7,373.7 527.0,372.5 527.3,371.4 527.5,370.4 527.8,369.4 528.1,368.5 528.4,367.6 528.7,366.8 529.0,366.1 529.3,365.4 529.5,364.8 529.8,364.2 530.1,363.7 530.4,363.3 530.7,362.9 531.0,362.6 531.3,362.3 531.5,362.1 531.8,362.0 532.1,361.9 532.4,361.9 532.7,362.0 533.0,362.1 533.3,362.3 533.5,362.6 533.8,362.9 534.1,363.3 534.4,363.7 534.7,364.2 535.0,364.8 535.3,365.4 535.5,366.1 535.8,366.8 536.1,367.6 536.4,368.5 536.7,369.4 537.0,370.4 537.3,371.4 537.5,372.5 537.8,373.7 538.1,374.9 538.4,376.1 538.7,377.4 539.0,378.7 539.3,380.1 539.5,381.5 539.8,383.0 540.1,384.5 540.4,386.1 540.7,387.7 541.0,389.3 541.3,390.9 541.5,392.6 541.8,394.4 542.1,396.1 542.4,397.9 542.7,399.7 543.0,401.5 543.3,403.4 543.5,405.2 543.8,407.1 544.1,409.0 544.4,410.9 544.7,412.8 545.0,414.7 545.3,416.7 545.5,418.6 545.8,420.5 546.1,422.4 546.4,424.3 546.7,426.2 547.0,428.1 547.3,429.9 547.5,431.7 547.8,433.5 548.1,435.3 548.4,437.0 548.7,438.7 549.0,440.3 549.3,441.9 549.5,443.4 549.8,444.8 550.1,446.1 550.4,447.3 550.7,448.1" fill="none" stroke="#222" stroke-width="0.7" stroke-dasharray="2.2,0.9"/>
<polyline points="600.8,448.1 601.1,447.3 601.4,446.1 601.7,444.8 602.0,443.4 602.2,441.9 602.5,440.3 602.8,438.7 603.1,437.0 603.4,435.3 603.7,433.5 604.0,431.7 604.2,429.9 604.5,428.1 604.8,426.2 605.1,424.3 605.4,422.4 605.7,420.5 606.0,418.6 606.2,416.7 606.5,414.7 606.8,412.8 607.1,410.9 607.4,409.0 607.7,407.1 608.0,405.2 608.2,403.4 608.5,401.5 608.8,399.7 609.1,397.9 609.4,396.1 609.7,394.4 610.0,392.6 610.2,390.9 610.5,389.3 610.8,387.7 611.1,386.1 611.4,384.5 611.7,383.0 612.0,381.5 612.2,380.1 612.5,378.7 612.8,377.4 613.1,376.1 613.4,374.9 613.7,373.7 614.0,372.5 614.2,371.4 614.5,370.4 614.8,369.4 615.1,368.5 615.4,367.6 615.7,366.8 616.0,366.1 616.2,365.4 616.5,364.8 616.8,364.2 617.1,363.7 617.4,363.3 617.7,362.9 618.0,362.6 618.2,362.3 618.5,362.1 618.8,362.0 619.1,361.9 619.4,361.9 619.7,362.0 620.0,362.1 620.2,362.3 620.5,362.6 620.8,362.9 621.1,363.3 621.4,363.7 621.7,364.2 622.0,364.8 622.2,365.4 622.5,366.1 622.8,366.8 623.1,367.6 623.4,368.5 623.7,369.4 624.0,370.4 624.2,371.4 624.5,372.5 624.8,373.7 625.1,374.9 625.4,376.1 625.7,377.4 626.0,378.7 626.2,380.1 626.5,381.5 626.8,383.0 627.1,384.5 627.4,386.1 627.7,387.7 628.0,389.3 628.2,390.9 628.5,392.6 628.8,394.4 629.1,396.1 629.4,397.9 629.7,399.7 630.0,401.5 630.2,403.4 630.5,405.2 630.8,407.1 631.1,409.0 631.4,410.9 631.7,412.8 632.0,414.7 632.2,416.7 632.5,418.6 632.8,420.5 633.1,422.4 633.4,424.3 633.7,426.2 634.0,428.1 634.2,429.9 634.5,431.7 634.8,433.5 635.1,435.3 635.4,437.0 635.7,438.7 636.0,440.3 636.2,441.9 636.5,443.4 636.8,444.8 637.1,446.1 637.4,447.3 637.7,448.1" fill="none" stroke="#222" stroke-width="0.7" stroke-dasharray="2.2,0.9"/>
<line x1="510.4" x2="557.11" y1="448.1" y2="448.1" stroke="#f88" stroke-width="0.75"/>
<line x1="593.96" x2="600.81" y1="448.1" y2="448.1" stroke="#f88" stroke-width="0.75"/>
<line x1="637.66" x2="640.66" y1="448.1" y2="448.1" stroke="#f88" stroke-width="0.75"/>
<polyline points="557.1,448.1 557.4,447.3 557.7,446.1 558.0,444.8 558.2,443.4 558.5,441.9 558.8,440.3 559.1,438.7 559.4,437.0 559.7,435.3 560.0,433.5 560.2,431.7 560.5,429.9 560.8,428.1 561.1,426.2 561.4,424.3 561.7,422.4 562.0,420.5 562.2,418.6 562.5,416.7 562.8,414.7 563.1,412.8 563.4,410.9 563.7,409.0 564.0,407.1 564.2,405.2 564.5,403.4 564.8,401.5 565.1,399.7 565.4,397.9 565.7,396.1 566.0,394.4 566.2,392.6 566.5,390.9 566.8,389.3 567.1,387.7 567.4,386.1 567.7,384.5 568.0,383.0 568.2,381.5 568.5,380.1 568.8,378.7 569.1,377.4 569.4,376.1 569.7,374.9 570.0,373.7 570.2,372.5 570.5,371.4 570.8,370.4 571.1,369.4 571.4,368.5 571.7,367.6 572.0,366.8 572.2,366.1 572.5,365.4 572.8,364.8 573.1,364.2 573.4,363.7 573.7,363.3 574.0,362.9 574.2,362.6 574.5,362.3 574.8,362.1 575.1,362.0 575.4,361.9 575.7,361.9 576.0,362.0 576.2,362.1 576.5,362.3 576.8,362.6 577.1,362.9 577.4,363.3 577.7,363.7 578.0,364.2 578.2,364.8 578.5,365.4 578.8,366.1 579.1,366.8 579.4,367.6 579.7,368.5 580.0,369.4 580.2,370.4 580.5,371.4 580.8,372.5 581.1,373.7 581.4,374.9 581.7,376.1 582.0,377.4 582.2,378.7 582.5,380.1 582.8,381.5 583.1,383.0 583.4,384.5 583.7,386.1 584.0,387.7 584.2,389.3 584.5,390.9 584.8,392.6 585.1,394.4 585.4,396.1 585.7,397.9 586.0,399.7 586.2,401.5 586.5,403.4 586.8,405.2 587.1,407.1 587.4,409.0 587.7,410.9 588.0,412.8 588.2,414.7 588.5,416.7 588.8,418.6 589.1,420.5 589.4,422.4 589.7,424.3 590.0,426.2 590.2,428.1 590.5,429.9 590.8,431.7 591.1,433.5 591.4,435.3 591.7,437.0 592.0,438.7 592.2,440.3 592.5,441.9 592.8,443.4 593.1,444.8 593.4,446.1 593.7,447.3 594.0,448.1" fill="none" stroke="#f33" stroke-width="0.6" stroke-dasharray="2.2,0.9" stroke-dashoffset="1.4"/>
<polyline points="600.8,448.1 601.1,447.3 601.4,446.1 601.7,444.8 602.0,443.4 602.2,441.9 602.5,440.3 602.8,438.7 603.1,437.0 603.4,435.3 603.7,433.5 604.0,431.7 604.2,429.9 604.5,428.1 604.8,426.2 605.1,424.3 605.4,422.4 605.7,420.5 606.0,418.6 606.2,416.7 606.5,414.7 606.8,412.8 607.1,410.9 607.4,409.0 607.7,407.1 608.0,405.2 608.2,403.4 608.5,401.5 608.8,399.7 609.1,397.9 609.4,396.1 609.7,394.4 610.0,392.6 610.2,390.9 610.5,389.3 610.8,387.7 611.1,386.1 611.4,384.5 611.7,383.0 612.0,381.5 612.2,380.1 612.5,378.7 612.8,377.4 613.1,376.1 613.4,374.9 613.7,373.7 614.0,372.5 614.2,371.4 614.5,370.4 614.8,369.4 615.1,368.5 615.4,367.6 615.7,366.8 616.0,366.1 616.2,365.4 616.5,364.8 616.8,364.2 617.1,363.7 617.4,363.3 617.7,362.9 618.0,362.6 618.2,362.3 618.5,362.1 618.8,362.0 619.1,361.9 619.4,361.9 619.7,362.0 620.0,362.1 620.2,362.3 620.5,362.6 620.8,362.9 621.1,363.3 621.4,363.7 621.7,364.2 622.0,364.8 622.2,365.4 622.5,366.1 622.8,366.8 623.1,367.6 623.4,368.5 623.7,369.4 624.0,370.4 624.2,371.4 624.5,372.5 624.8,373.7 625.1,374.9 625.4,376.1 625.7,377.4 626.0,378.7 626.2,380.1 626.5,381.5 626.8,383.0 627.1,384.5 627.4,386.1 627.7,387.7 628.0,389.3 628.2,390.9 628.5,392.6 628.8,394.4 629.1,396.1 629.4,397.9 629.7,399.7 630.0,401.5 630.2,403.4 630.5,405.2 630.8,407.1 631.1,409.0 631.4,410.9 631.7,412.8 632.0,414.7 632.2,416.7 632.5,418.6 632.8,420.5 633.1,422.4 633.4,424.3 633.7,426.2 634.0,428.1 634.2,429.9 634.5,431.7 634.8,433.5 635.1,435.3 635.4,437.0 635.7,438.7 636.0,440.3 636.2,441.9 636.5,443.4 636.8,444.8 637.1,446.1 637.4,447.3 637.7,448.1" fill="none" stroke="#f33" stroke-width="0.6" stroke-dasharray="2.2,0.9" stroke-dashoffset="1.4"/>
</g>
</g>
</g>
</svg>
</body></html>
